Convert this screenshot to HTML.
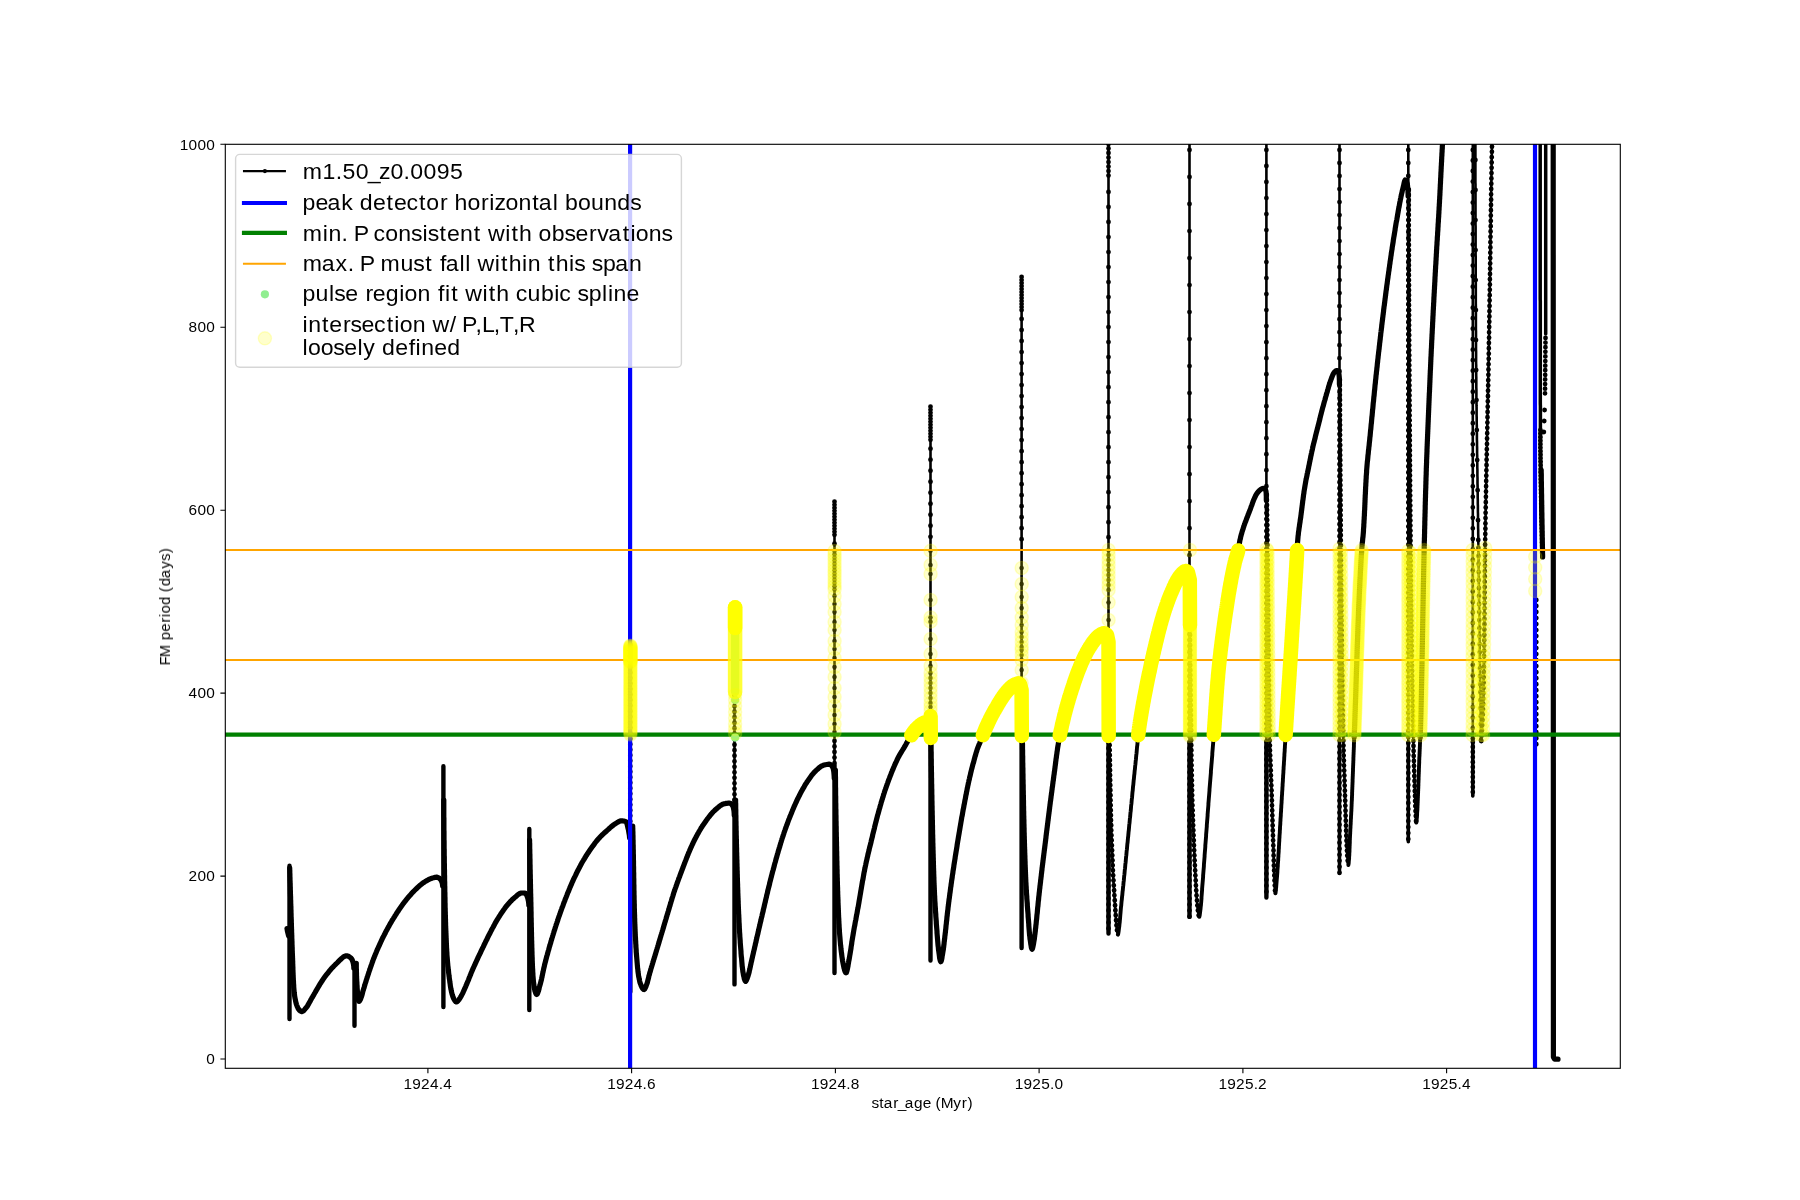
<!DOCTYPE html>
<html><head><meta charset="utf-8"><title>FM period vs star_age</title>
<style>html,body{margin:0;padding:0;background:#fff;}svg{display:block;}text{font-family:"Liberation Sans",sans-serif;}</style></head>
<body>
<svg width="1800" height="1200" viewBox="0 0 1800 1200" font-family="Liberation Sans, sans-serif" fill="#000">
<rect width="1800" height="1200" fill="#fff"/>
<defs><clipPath id="ax"><rect x="225" y="144" width="1395" height="924"/></clipPath></defs>
<g clip-path="url(#ax)" fill="none" stroke-linecap="round" stroke-linejoin="round">
<g stroke="#000">
<path stroke-width="2.6" d="M289.5 865.8 L289.5 1019.0 M354.5 963.0 L354.5 1025.8 M443.4 766.3 L443.4 1007.0 M529.3 829.0 L529.3 1010.0 M630.3 645.0 L630.3 992.0 M734.5 607.0 L734.5 984.4 M834.5 501.7 L834.5 973.0 M930.5 406.7 L930.5 960.6 M1021.6 277.0 L1021.6 948.1 M1108.5 130.0 L1108.5 933.5 M1108.8 640.0 L1108.8 641.2 L1108.8 642.4 L1108.8 643.6 L1108.8 644.8 L1108.8 646.0 L1108.8 647.2 L1108.8 648.4 L1108.8 649.6 L1108.8 650.8 L1108.8 652.0 L1108.8 653.2 L1108.8 654.4 L1108.8 655.7 L1108.8 656.9 L1108.8 658.1 L1108.8 659.3 L1108.8 660.5 L1108.8 661.7 L1108.8 662.9 L1108.9 664.1 L1108.9 665.3 L1108.9 666.5 L1108.9 667.7 L1108.9 668.9 L1108.9 670.1 L1108.9 671.3 L1108.9 672.5 L1108.9 673.7 L1108.9 674.9 L1108.9 676.1 L1108.9 677.3 L1108.9 678.5 L1108.9 679.7 L1108.9 680.9 L1109.0 682.1 L1109.0 683.3 L1109.0 684.6 L1109.0 685.8 L1109.0 687.0 L1109.0 688.2 L1109.0 689.4 L1109.0 690.6 L1109.0 691.8 L1109.0 693.0 L1109.0 694.2 L1109.1 695.4 L1109.1 696.6 L1109.1 697.8 L1109.1 699.0 L1109.1 700.2 L1109.1 701.4 L1109.1 702.6 L1109.1 703.8 L1109.2 705.0 L1109.2 706.2 L1109.2 707.4 L1109.2 708.6 L1109.2 709.8 L1109.2 711.0 L1109.2 712.2 L1109.2 713.4 L1109.3 714.6 L1109.3 715.9 L1109.3 717.1 L1109.3 718.3 L1109.3 719.5 L1109.3 720.7 L1109.3 721.9 L1109.4 723.1 L1109.4 724.3 L1109.4 725.5 L1109.4 726.7 L1109.4 727.9 L1109.4 729.1 L1109.4 730.3 L1109.5 731.5 L1109.5 732.7 L1109.5 733.9 L1109.5 735.1 L1109.5 736.3 L1109.5 737.5 L1109.6 738.7 L1109.6 739.9 L1109.6 741.1 L1109.6 742.3 L1109.6 743.5 L1109.6 744.7 L1109.7 745.9 L1109.7 747.1 L1109.7 748.4 L1109.7 749.6 L1109.7 750.8 L1109.7 752.0 L1109.8 753.2 L1109.8 754.4 L1109.8 755.6 L1109.8 756.8 L1109.8 758.0 L1109.9 759.2 L1109.9 760.4 L1109.9 761.6 L1109.9 762.8 L1109.9 764.0 L1110.0 765.2 L1110.0 766.4 L1110.0 767.6 L1110.0 768.8 L1110.0 770.0 L1110.1 771.2 L1110.1 772.4 L1110.1 773.6 L1110.1 774.8 L1110.1 776.0 L1110.2 777.2 L1110.2 778.4 L1110.2 779.6 L1110.2 780.8 L1110.2 782.1 L1110.3 783.3 L1110.3 784.5 L1110.3 785.7 L1110.3 786.9 L1110.3 788.1 L1110.4 789.3 L1110.4 790.5 L1110.4 791.7 L1110.4 792.9 L1110.4 794.1 L1110.5 795.3 L1110.5 796.5 L1110.5 797.7 L1110.5 798.9 L1110.5 800.1 L1110.6 801.3 L1110.6 802.5 L1110.6 803.7 L1110.6 804.9 L1110.7 806.1 L1110.7 807.3 L1110.7 808.5 L1110.7 809.7 L1110.8 810.9 L1110.8 812.1 L1110.8 813.3 L1110.8 814.5 L1110.9 815.7 L1110.9 817.0 L1110.9 818.2 L1111.0 819.4 L1111.0 820.6 L1111.0 821.8 L1111.1 823.0 L1111.1 824.2 L1111.2 825.4 L1111.2 826.6 L1111.2 827.8 L1111.3 829.0 L1111.3 830.2 L1111.3 831.4 L1111.4 832.6 L1111.4 833.8 L1111.5 835.0 L1111.5 836.2 L1111.6 837.4 L1111.6 838.6 L1111.6 839.8 L1111.7 841.0 L1111.7 842.2 L1111.8 843.4 L1111.8 844.6 L1111.9 845.8 L1111.9 847.0 L1112.0 848.2 L1112.0 849.4 L1112.1 850.6 L1112.1 851.8 L1112.2 853.0 L1112.2 854.3 L1112.3 855.5 L1112.3 856.7 L1112.4 857.9 L1112.4 859.1 L1112.5 860.3 L1112.5 861.5 L1112.6 862.7 L1112.6 863.9 L1112.7 865.1 L1112.7 866.3 L1112.8 867.5 L1112.8 868.7 L1112.9 869.9 L1112.9 871.1 L1113.0 872.3 L1113.1 873.5 L1113.1 874.7 L1113.2 875.9 L1113.3 877.1 L1113.3 878.3 L1113.4 879.5 L1113.5 880.7 L1113.5 881.9 L1113.6 883.1 L1113.7 884.3 L1113.8 885.5 L1113.8 886.7 L1113.9 887.9 L1114.0 889.1 L1114.1 890.3 L1114.1 891.5 L1114.2 892.7 L1114.3 893.9 L1114.4 895.1 L1114.4 896.3 L1114.5 897.5 L1114.6 898.7 L1114.7 899.9 L1114.8 901.1 L1114.8 902.3 L1114.9 903.5 L1115.0 904.7 L1115.1 905.9 L1115.2 907.1 L1115.3 908.3 L1115.3 909.5 L1115.4 910.7 L1115.5 911.9 L1115.6 913.1 L1115.7 914.3 L1115.7 915.5 L1115.8 916.8 L1115.9 918.0 L1116.0 919.2 L1116.1 920.4 L1116.2 921.6 L1116.3 922.8 L1116.4 923.9 L1116.5 925.1 L1116.6 926.4 L1116.8 927.8 L1116.9 929.3 L1117.1 930.9 L1117.3 932.3 L1117.5 933.5 L1117.7 934.3 L1117.9 934.6 M1189.5 130.0 L1189.5 916.9 M1189.8 580.0 L1189.8 581.2 L1189.8 582.4 L1189.8 583.6 L1189.8 584.8 L1189.8 586.0 L1189.8 587.2 L1189.8 588.4 L1189.8 589.6 L1189.8 590.8 L1189.8 592.0 L1189.8 593.2 L1189.8 594.4 L1189.8 595.6 L1189.8 596.8 L1189.8 598.0 L1189.8 599.2 L1189.8 600.4 L1189.8 601.6 L1189.8 602.8 L1189.8 604.0 L1189.8 605.3 L1189.8 606.5 L1189.8 607.7 L1189.9 608.9 L1189.9 610.1 L1189.9 611.3 L1189.9 612.5 L1189.9 613.7 L1189.9 614.9 L1189.9 616.1 L1189.9 617.3 L1189.9 618.5 L1189.9 619.7 L1189.9 620.9 L1189.9 622.1 L1189.9 623.3 L1189.9 624.5 L1189.9 625.7 L1189.9 626.9 L1189.9 628.1 L1190.0 629.3 L1190.0 630.5 L1190.0 631.7 L1190.0 632.9 L1190.0 634.1 L1190.0 635.3 L1190.0 636.5 L1190.0 637.7 L1190.0 638.9 L1190.0 640.1 L1190.0 641.3 L1190.0 642.5 L1190.1 643.7 L1190.1 644.9 L1190.1 646.1 L1190.1 647.3 L1190.1 648.5 L1190.1 649.7 L1190.1 650.9 L1190.1 652.1 L1190.1 653.3 L1190.1 654.5 L1190.2 655.7 L1190.2 656.9 L1190.2 658.1 L1190.2 659.3 L1190.2 660.6 L1190.2 661.8 L1190.2 663.0 L1190.2 664.2 L1190.2 665.4 L1190.3 666.6 L1190.3 667.8 L1190.3 669.0 L1190.3 670.2 L1190.3 671.4 L1190.3 672.6 L1190.3 673.8 L1190.3 675.0 L1190.4 676.2 L1190.4 677.4 L1190.4 678.6 L1190.4 679.8 L1190.4 681.0 L1190.4 682.2 L1190.4 683.4 L1190.4 684.6 L1190.5 685.8 L1190.5 687.0 L1190.5 688.2 L1190.5 689.4 L1190.5 690.6 L1190.5 691.8 L1190.5 693.0 L1190.6 694.2 L1190.6 695.4 L1190.6 696.6 L1190.6 697.8 L1190.6 699.0 L1190.6 700.2 L1190.7 701.4 L1190.7 702.6 L1190.7 703.8 L1190.7 705.0 L1190.7 706.2 L1190.7 707.4 L1190.7 708.6 L1190.8 709.8 L1190.8 711.0 L1190.8 712.2 L1190.8 713.4 L1190.8 714.6 L1190.8 715.8 L1190.9 717.0 L1190.9 718.2 L1190.9 719.4 L1190.9 720.6 L1190.9 721.8 L1190.9 723.1 L1191.0 724.3 L1191.0 725.5 L1191.0 726.7 L1191.0 727.9 L1191.0 729.1 L1191.1 730.3 L1191.1 731.5 L1191.1 732.7 L1191.1 733.9 L1191.1 735.1 L1191.1 736.3 L1191.2 737.5 L1191.2 738.7 L1191.2 739.9 L1191.2 741.1 L1191.2 742.3 L1191.3 743.5 L1191.3 744.7 L1191.3 745.9 L1191.3 747.1 L1191.3 748.3 L1191.3 749.5 L1191.4 750.7 L1191.4 751.9 L1191.4 753.1 L1191.4 754.3 L1191.4 755.5 L1191.5 756.7 L1191.5 757.9 L1191.5 759.1 L1191.5 760.3 L1191.5 761.5 L1191.6 762.7 L1191.6 763.9 L1191.6 765.1 L1191.6 766.3 L1191.6 767.5 L1191.7 768.7 L1191.7 769.9 L1191.7 771.1 L1191.7 772.3 L1191.7 773.5 L1191.8 774.7 L1191.8 775.9 L1191.8 777.1 L1191.8 778.3 L1191.8 779.5 L1191.9 780.7 L1191.9 781.9 L1191.9 783.1 L1191.9 784.3 L1192.0 785.5 L1192.0 786.7 L1192.0 787.9 L1192.0 789.1 L1192.1 790.3 L1192.1 791.5 L1192.1 792.8 L1192.1 794.0 L1192.2 795.2 L1192.2 796.4 L1192.2 797.6 L1192.3 798.8 L1192.3 800.0 L1192.3 801.2 L1192.4 802.4 L1192.4 803.6 L1192.5 804.8 L1192.5 806.0 L1192.5 807.2 L1192.6 808.4 L1192.6 809.6 L1192.7 810.8 L1192.7 812.0 L1192.7 813.2 L1192.8 814.4 L1192.8 815.6 L1192.9 816.8 L1192.9 818.0 L1193.0 819.2 L1193.0 820.4 L1193.1 821.6 L1193.1 822.8 L1193.1 824.0 L1193.2 825.2 L1193.2 826.4 L1193.3 827.6 L1193.3 828.8 L1193.4 830.0 L1193.4 831.2 L1193.5 832.4 L1193.5 833.6 L1193.6 834.8 L1193.6 836.0 L1193.7 837.2 L1193.7 838.4 L1193.8 839.6 L1193.8 840.8 L1193.9 842.0 L1193.9 843.2 L1194.0 844.4 L1194.0 845.6 L1194.1 846.8 L1194.1 848.0 L1194.2 849.2 L1194.2 850.4 L1194.3 851.6 L1194.3 852.8 L1194.4 854.0 L1194.4 855.2 L1194.5 856.4 L1194.5 857.6 L1194.6 858.8 L1194.6 860.0 L1194.7 861.2 L1194.7 862.4 L1194.8 863.6 L1194.9 864.8 L1194.9 866.0 L1195.0 867.2 L1195.0 868.4 L1195.1 869.6 L1195.2 870.8 L1195.2 872.0 L1195.3 873.2 L1195.3 874.4 L1195.4 875.6 L1195.5 876.8 L1195.5 878.0 L1195.6 879.2 L1195.7 880.4 L1195.7 881.6 L1195.8 882.8 L1195.9 884.0 L1195.9 885.2 L1196.0 886.4 L1196.1 887.6 L1196.2 888.8 L1196.2 890.0 L1196.3 891.2 L1196.4 892.4 L1196.5 893.6 L1196.5 894.8 L1196.6 896.0 L1196.7 897.2 L1196.8 898.4 L1196.9 899.6 L1197.0 900.8 L1197.1 902.0 L1197.2 903.2 L1197.3 904.4 L1197.4 905.6 L1197.5 906.8 L1197.6 908.0 L1197.8 909.2 L1197.9 910.4 L1198.1 911.6 L1198.3 913.1 L1198.6 914.7 L1198.8 916.0 L1199.1 916.8 L1199.3 916.8 M1266.4 130.0 L1266.4 897.5 M1266.8 495.0 L1266.8 496.2 L1266.8 497.4 L1266.9 498.6 L1266.9 499.8 L1266.9 501.0 L1266.9 502.2 L1266.9 503.4 L1266.9 504.6 L1267.0 505.8 L1267.0 507.0 L1267.0 508.2 L1267.0 509.4 L1267.0 510.6 L1267.1 511.8 L1267.1 513.0 L1267.1 514.2 L1267.1 515.4 L1267.1 516.6 L1267.1 517.9 L1267.2 519.1 L1267.2 520.3 L1267.2 521.5 L1267.2 522.7 L1267.2 523.9 L1267.3 525.1 L1267.3 526.3 L1267.3 527.5 L1267.3 528.7 L1267.3 529.9 L1267.3 531.1 L1267.4 532.3 L1267.4 533.5 L1267.4 534.7 L1267.4 535.9 L1267.4 537.1 L1267.4 538.3 L1267.5 539.5 L1267.5 540.7 L1267.5 541.9 L1267.5 543.1 L1267.5 544.3 L1267.5 545.5 L1267.6 546.7 L1267.6 547.9 L1267.6 549.1 L1267.6 550.3 L1267.6 551.5 L1267.6 552.7 L1267.7 553.9 L1267.7 555.1 L1267.7 556.3 L1267.7 557.5 L1267.7 558.7 L1267.7 559.9 L1267.7 561.1 L1267.8 562.4 L1267.8 563.6 L1267.8 564.8 L1267.8 566.0 L1267.8 567.2 L1267.8 568.4 L1267.8 569.6 L1267.8 570.8 L1267.9 572.0 L1267.9 573.2 L1267.9 574.4 L1267.9 575.6 L1267.9 576.8 L1267.9 578.0 L1267.9 579.2 L1267.9 580.4 L1268.0 581.6 L1268.0 582.8 L1268.0 584.0 L1268.0 585.2 L1268.0 586.4 L1268.0 587.6 L1268.0 588.8 L1268.0 590.0 L1268.1 591.2 L1268.1 592.4 L1268.1 593.6 L1268.1 594.8 L1268.1 596.0 L1268.1 597.2 L1268.1 598.4 L1268.1 599.6 L1268.1 600.8 L1268.2 602.0 L1268.2 603.2 L1268.2 604.5 L1268.2 605.7 L1268.2 606.9 L1268.2 608.1 L1268.2 609.3 L1268.2 610.5 L1268.2 611.7 L1268.2 612.9 L1268.3 614.1 L1268.3 615.3 L1268.3 616.5 L1268.3 617.7 L1268.3 618.9 L1268.3 620.1 L1268.3 621.3 L1268.3 622.5 L1268.3 623.7 L1268.4 624.9 L1268.4 626.1 L1268.4 627.3 L1268.4 628.5 L1268.4 629.7 L1268.4 630.9 L1268.4 632.1 L1268.4 633.3 L1268.4 634.5 L1268.4 635.7 L1268.5 636.9 L1268.5 638.1 L1268.5 639.3 L1268.5 640.5 L1268.5 641.7 L1268.5 642.9 L1268.5 644.1 L1268.5 645.3 L1268.5 646.6 L1268.5 647.8 L1268.6 649.0 L1268.6 650.2 L1268.6 651.4 L1268.6 652.6 L1268.6 653.8 L1268.6 655.0 L1268.6 656.2 L1268.6 657.4 L1268.6 658.6 L1268.7 659.8 L1268.7 661.0 L1268.7 662.2 L1268.7 663.4 L1268.7 664.6 L1268.7 665.8 L1268.7 667.0 L1268.7 668.2 L1268.8 669.4 L1268.8 670.6 L1268.8 671.8 L1268.8 673.0 L1268.8 674.2 L1268.8 675.4 L1268.8 676.6 L1268.8 677.8 L1268.9 679.0 L1268.9 680.2 L1268.9 681.4 L1268.9 682.6 L1268.9 683.8 L1268.9 685.0 L1268.9 686.2 L1269.0 687.4 L1269.0 688.6 L1269.0 689.9 L1269.0 691.1 L1269.0 692.3 L1269.0 693.5 L1269.0 694.7 L1269.1 695.9 L1269.1 697.1 L1269.1 698.3 L1269.1 699.5 L1269.1 700.7 L1269.1 701.9 L1269.1 703.1 L1269.2 704.3 L1269.2 705.5 L1269.2 706.7 L1269.2 707.9 L1269.2 709.1 L1269.2 710.3 L1269.3 711.5 L1269.3 712.7 L1269.3 713.9 L1269.3 715.1 L1269.3 716.3 L1269.4 717.5 L1269.4 718.7 L1269.4 719.9 L1269.4 721.1 L1269.4 722.3 L1269.4 723.5 L1269.5 724.7 L1269.5 725.9 L1269.5 727.1 L1269.5 728.3 L1269.5 729.5 L1269.6 730.7 L1269.6 731.9 L1269.6 733.1 L1269.6 734.3 L1269.7 735.5 L1269.7 736.8 L1269.7 738.0 L1269.7 739.2 L1269.7 740.4 L1269.8 741.6 L1269.8 742.8 L1269.8 744.0 L1269.9 745.2 L1269.9 746.4 L1269.9 747.6 L1270.0 748.8 L1270.0 750.0 L1270.0 751.2 L1270.1 752.4 L1270.1 753.6 L1270.2 754.8 L1270.2 756.0 L1270.2 757.2 L1270.3 758.4 L1270.3 759.6 L1270.4 760.8 L1270.4 762.0 L1270.5 763.2 L1270.5 764.4 L1270.6 765.6 L1270.6 766.8 L1270.7 768.0 L1270.7 769.2 L1270.8 770.4 L1270.8 771.6 L1270.8 772.8 L1270.9 774.0 L1270.9 775.2 L1271.0 776.4 L1271.0 777.6 L1271.1 778.8 L1271.1 780.0 L1271.2 781.2 L1271.2 782.4 L1271.3 783.6 L1271.3 784.8 L1271.4 786.0 L1271.4 787.2 L1271.5 788.4 L1271.5 789.6 L1271.6 790.8 L1271.6 792.0 L1271.6 793.2 L1271.7 794.5 L1271.7 795.7 L1271.8 796.9 L1271.8 798.1 L1271.8 799.3 L1271.9 800.5 L1271.9 801.7 L1272.0 802.9 L1272.0 804.1 L1272.0 805.3 L1272.1 806.5 L1272.1 807.7 L1272.2 808.9 L1272.2 810.1 L1272.2 811.3 L1272.3 812.5 L1272.3 813.7 L1272.3 814.9 L1272.4 816.1 L1272.4 817.3 L1272.5 818.5 L1272.5 819.7 L1272.5 820.9 L1272.6 822.1 L1272.6 823.3 L1272.6 824.5 L1272.7 825.7 L1272.7 826.9 L1272.8 828.1 L1272.8 829.3 L1272.8 830.5 L1272.9 831.7 L1272.9 832.9 L1272.9 834.1 L1273.0 835.3 L1273.0 836.5 L1273.1 837.7 L1273.1 838.9 L1273.1 840.1 L1273.2 841.3 L1273.2 842.5 L1273.3 843.7 L1273.3 844.9 L1273.3 846.1 L1273.4 847.3 L1273.4 848.6 L1273.5 849.8 L1273.5 851.0 L1273.5 852.2 L1273.6 853.4 L1273.6 854.6 L1273.6 855.8 L1273.7 857.0 L1273.7 858.2 L1273.7 859.4 L1273.8 860.6 L1273.8 861.8 L1273.9 863.0 L1273.9 864.2 L1273.9 865.4 L1274.0 866.6 L1274.0 867.8 L1274.0 869.0 L1274.1 870.2 L1274.1 871.4 L1274.2 872.6 L1274.2 873.8 L1274.3 875.0 L1274.3 876.2 L1274.4 877.4 L1274.4 878.6 L1274.5 879.8 L1274.5 881.1 L1274.6 882.5 L1274.7 884.1 L1274.8 885.7 L1274.8 887.2 L1274.9 888.8 L1275.0 890.1 L1275.1 891.4 L1275.2 892.3 L1275.3 893.0 L1275.4 893.3 M1339.5 130.0 L1339.5 873.3 M1339.9 380.0 L1339.9 381.2 L1339.9 382.4 L1339.9 383.6 L1339.9 384.8 L1339.9 386.0 L1339.9 387.2 L1339.9 388.4 L1339.9 389.6 L1339.9 390.8 L1339.9 392.0 L1339.9 393.2 L1339.9 394.4 L1339.9 395.6 L1340.0 396.8 L1340.0 398.0 L1340.0 399.2 L1340.0 400.4 L1340.0 401.6 L1340.0 402.8 L1340.0 404.0 L1340.0 405.2 L1340.0 406.4 L1340.0 407.6 L1340.0 408.8 L1340.0 410.0 L1340.0 411.2 L1340.0 412.5 L1340.0 413.7 L1340.0 414.9 L1340.0 416.1 L1340.0 417.3 L1340.0 418.5 L1340.0 419.7 L1340.0 420.9 L1340.1 422.1 L1340.1 423.3 L1340.1 424.5 L1340.1 425.7 L1340.1 426.9 L1340.1 428.1 L1340.1 429.3 L1340.1 430.5 L1340.1 431.7 L1340.1 432.9 L1340.1 434.1 L1340.1 435.3 L1340.1 436.5 L1340.1 437.7 L1340.1 438.9 L1340.1 440.1 L1340.1 441.3 L1340.2 442.5 L1340.2 443.7 L1340.2 444.9 L1340.2 446.1 L1340.2 447.3 L1340.2 448.5 L1340.2 449.7 L1340.2 450.9 L1340.2 452.1 L1340.2 453.3 L1340.2 454.5 L1340.2 455.7 L1340.2 456.9 L1340.2 458.1 L1340.3 459.3 L1340.3 460.5 L1340.3 461.7 L1340.3 462.9 L1340.3 464.1 L1340.3 465.3 L1340.3 466.5 L1340.3 467.7 L1340.3 468.9 L1340.3 470.1 L1340.3 471.3 L1340.3 472.5 L1340.3 473.7 L1340.3 474.9 L1340.4 476.2 L1340.4 477.4 L1340.4 478.6 L1340.4 479.8 L1340.4 481.0 L1340.4 482.2 L1340.4 483.4 L1340.4 484.6 L1340.4 485.8 L1340.4 487.0 L1340.4 488.2 L1340.4 489.4 L1340.5 490.6 L1340.5 491.8 L1340.5 493.0 L1340.5 494.2 L1340.5 495.4 L1340.5 496.6 L1340.5 497.8 L1340.5 499.0 L1340.5 500.2 L1340.5 501.4 L1340.5 502.6 L1340.5 503.8 L1340.6 505.0 L1340.6 506.2 L1340.6 507.4 L1340.6 508.6 L1340.6 509.8 L1340.6 511.0 L1340.6 512.2 L1340.6 513.4 L1340.6 514.6 L1340.6 515.8 L1340.6 517.0 L1340.7 518.2 L1340.7 519.4 L1340.7 520.6 L1340.7 521.8 L1340.7 523.0 L1340.7 524.2 L1340.7 525.4 L1340.7 526.6 L1340.7 527.8 L1340.7 529.0 L1340.7 530.2 L1340.8 531.4 L1340.8 532.6 L1340.8 533.8 L1340.8 535.0 L1340.8 536.2 L1340.8 537.4 L1340.8 538.6 L1340.8 539.9 L1340.8 541.1 L1340.8 542.3 L1340.8 543.5 L1340.9 544.7 L1340.9 545.9 L1340.9 547.1 L1340.9 548.3 L1340.9 549.5 L1340.9 550.7 L1340.9 551.9 L1340.9 553.1 L1340.9 554.3 L1340.9 555.5 L1341.0 556.7 L1341.0 557.9 L1341.0 559.1 L1341.0 560.3 L1341.0 561.5 L1341.0 562.7 L1341.0 563.9 L1341.0 565.1 L1341.0 566.3 L1341.0 567.5 L1341.1 568.7 L1341.1 569.9 L1341.1 571.1 L1341.1 572.3 L1341.1 573.5 L1341.1 574.7 L1341.1 575.9 L1341.1 577.1 L1341.1 578.3 L1341.2 579.5 L1341.2 580.7 L1341.2 581.9 L1341.2 583.1 L1341.2 584.3 L1341.2 585.5 L1341.2 586.7 L1341.2 587.9 L1341.2 589.1 L1341.3 590.3 L1341.3 591.5 L1341.3 592.7 L1341.3 593.9 L1341.3 595.1 L1341.3 596.3 L1341.3 597.5 L1341.3 598.7 L1341.3 599.9 L1341.4 601.1 L1341.4 602.3 L1341.4 603.5 L1341.4 604.8 L1341.4 606.0 L1341.4 607.2 L1341.4 608.4 L1341.4 609.6 L1341.5 610.8 L1341.5 612.0 L1341.5 613.2 L1341.5 614.4 L1341.5 615.6 L1341.5 616.8 L1341.5 618.0 L1341.5 619.2 L1341.6 620.4 L1341.6 621.6 L1341.6 622.8 L1341.6 624.0 L1341.6 625.2 L1341.6 626.4 L1341.6 627.6 L1341.7 628.8 L1341.7 630.0 L1341.7 631.2 L1341.7 632.4 L1341.7 633.6 L1341.7 634.8 L1341.7 636.0 L1341.8 637.2 L1341.8 638.4 L1341.8 639.6 L1341.8 640.8 L1341.8 642.0 L1341.8 643.2 L1341.8 644.4 L1341.9 645.6 L1341.9 646.8 L1341.9 648.0 L1341.9 649.2 L1341.9 650.4 L1341.9 651.6 L1341.9 652.8 L1342.0 654.0 L1342.0 655.2 L1342.0 656.4 L1342.0 657.6 L1342.0 658.8 L1342.0 660.0 L1342.1 661.2 L1342.1 662.4 L1342.1 663.6 L1342.1 664.8 L1342.1 666.0 L1342.1 667.2 L1342.2 668.4 L1342.2 669.7 L1342.2 670.9 L1342.2 672.1 L1342.2 673.3 L1342.2 674.5 L1342.3 675.7 L1342.3 676.9 L1342.3 678.1 L1342.3 679.3 L1342.3 680.5 L1342.3 681.7 L1342.4 682.9 L1342.4 684.1 L1342.4 685.3 L1342.4 686.5 L1342.4 687.7 L1342.5 688.9 L1342.5 690.1 L1342.5 691.3 L1342.5 692.5 L1342.5 693.7 L1342.5 694.9 L1342.6 696.1 L1342.6 697.3 L1342.6 698.5 L1342.6 699.7 L1342.6 700.9 L1342.7 702.1 L1342.7 703.3 L1342.7 704.5 L1342.7 705.7 L1342.7 706.9 L1342.8 708.1 L1342.8 709.3 L1342.8 710.5 L1342.8 711.7 L1342.8 712.9 L1342.9 714.1 L1342.9 715.3 L1342.9 716.5 L1342.9 717.7 L1342.9 718.9 L1343.0 720.1 L1343.0 721.3 L1343.0 722.5 L1343.0 723.7 L1343.1 724.9 L1343.1 726.1 L1343.1 727.3 L1343.1 728.5 L1343.1 729.7 L1343.2 730.9 L1343.2 732.1 L1343.2 733.3 L1343.2 734.5 L1343.3 735.7 L1343.3 736.9 L1343.3 738.1 L1343.3 739.3 L1343.4 740.6 L1343.4 741.8 L1343.4 743.0 L1343.4 744.2 L1343.5 745.4 L1343.5 746.6 L1343.5 747.8 L1343.5 749.0 L1343.6 750.2 L1343.6 751.4 L1343.6 752.6 L1343.7 753.8 L1343.7 755.0 L1343.7 756.2 L1343.8 757.4 L1343.8 758.6 L1343.9 759.8 L1343.9 761.0 L1343.9 762.2 L1344.0 763.4 L1344.0 764.6 L1344.0 765.8 L1344.1 767.0 L1344.1 768.2 L1344.2 769.4 L1344.2 770.6 L1344.2 771.8 L1344.3 773.0 L1344.3 774.2 L1344.4 775.4 L1344.4 776.6 L1344.4 777.8 L1344.5 779.0 L1344.5 780.2 L1344.6 781.4 L1344.6 782.6 L1344.6 783.8 L1344.7 785.0 L1344.7 786.2 L1344.8 787.4 L1344.8 788.6 L1344.8 789.8 L1344.9 791.0 L1344.9 792.2 L1344.9 793.4 L1345.0 794.6 L1345.0 795.8 L1345.1 797.0 L1345.1 798.2 L1345.1 799.4 L1345.2 800.6 L1345.2 801.8 L1345.2 803.0 L1345.3 804.2 L1345.3 805.4 L1345.4 806.6 L1345.4 807.8 L1345.4 809.0 L1345.5 810.2 L1345.5 811.4 L1345.5 812.6 L1345.6 813.8 L1345.6 815.0 L1345.6 816.2 L1345.7 817.4 L1345.7 818.6 L1345.8 819.8 L1345.8 821.0 L1345.8 822.2 L1345.9 823.4 L1345.9 824.6 L1346.0 825.8 L1346.0 827.1 L1346.0 828.3 L1346.1 829.5 L1346.1 830.7 L1346.2 831.9 L1346.2 833.1 L1346.3 834.3 L1346.3 835.5 L1346.3 836.7 L1346.4 837.9 L1346.4 839.1 L1346.5 840.3 L1346.5 841.5 L1346.6 842.7 L1346.6 843.9 L1346.7 845.1 L1346.8 846.3 L1346.8 847.5 L1346.9 848.7 L1346.9 849.9 L1347.0 851.1 L1347.1 852.3 L1347.1 853.5 L1347.2 854.7 L1347.3 855.9 L1347.4 857.1 L1347.5 858.3 L1347.6 859.5 L1347.7 860.7 L1347.8 862.3 L1348.0 863.8 L1348.2 864.8 L1348.4 865.0 M1408.3 130.0 L1408.3 841.7 M1408.8 190.0 L1408.8 191.2 L1408.8 192.4 L1408.8 193.6 L1408.8 194.8 L1408.8 196.0 L1408.8 197.2 L1408.8 198.4 L1408.8 199.6 L1408.8 200.8 L1408.8 202.0 L1408.8 203.2 L1408.8 204.4 L1408.8 205.6 L1408.8 206.8 L1408.8 208.0 L1408.8 209.2 L1408.8 210.4 L1408.8 211.6 L1408.8 212.8 L1408.8 214.0 L1408.8 215.2 L1408.8 216.4 L1408.8 217.6 L1408.8 218.8 L1408.8 220.0 L1408.8 221.3 L1408.8 222.5 L1408.8 223.7 L1408.8 224.9 L1408.8 226.1 L1408.8 227.3 L1408.8 228.5 L1408.8 229.7 L1408.8 230.9 L1408.8 232.1 L1408.8 233.3 L1408.8 234.5 L1408.8 235.7 L1408.8 236.9 L1408.8 238.1 L1408.8 239.3 L1408.8 240.5 L1408.9 241.7 L1408.9 242.9 L1408.9 244.1 L1408.9 245.3 L1408.9 246.5 L1408.9 247.7 L1408.9 248.9 L1408.9 250.1 L1408.9 251.3 L1408.9 252.5 L1408.9 253.7 L1408.9 254.9 L1408.9 256.1 L1408.9 257.3 L1408.9 258.5 L1408.9 259.7 L1408.9 260.9 L1408.9 262.1 L1408.9 263.3 L1408.9 264.5 L1408.9 265.7 L1408.9 266.9 L1408.9 268.1 L1408.9 269.3 L1408.9 270.5 L1408.9 271.7 L1408.9 272.9 L1408.9 274.1 L1408.9 275.3 L1408.9 276.5 L1408.9 277.7 L1408.9 278.9 L1408.9 280.1 L1409.0 281.3 L1409.0 282.5 L1409.0 283.8 L1409.0 285.0 L1409.0 286.2 L1409.0 287.4 L1409.0 288.6 L1409.0 289.8 L1409.0 291.0 L1409.0 292.2 L1409.0 293.4 L1409.0 294.6 L1409.0 295.8 L1409.0 297.0 L1409.0 298.2 L1409.0 299.4 L1409.0 300.6 L1409.0 301.8 L1409.0 303.0 L1409.0 304.2 L1409.0 305.4 L1409.0 306.6 L1409.0 307.8 L1409.1 309.0 L1409.1 310.2 L1409.1 311.4 L1409.1 312.6 L1409.1 313.8 L1409.1 315.0 L1409.1 316.2 L1409.1 317.4 L1409.1 318.6 L1409.1 319.8 L1409.1 321.0 L1409.1 322.2 L1409.1 323.4 L1409.1 324.6 L1409.1 325.8 L1409.1 327.0 L1409.1 328.2 L1409.1 329.4 L1409.1 330.6 L1409.2 331.8 L1409.2 333.0 L1409.2 334.2 L1409.2 335.4 L1409.2 336.6 L1409.2 337.8 L1409.2 339.0 L1409.2 340.2 L1409.2 341.4 L1409.2 342.6 L1409.2 343.8 L1409.2 345.0 L1409.2 346.2 L1409.2 347.5 L1409.2 348.7 L1409.2 349.9 L1409.2 351.1 L1409.3 352.3 L1409.3 353.5 L1409.3 354.7 L1409.3 355.9 L1409.3 357.1 L1409.3 358.3 L1409.3 359.5 L1409.3 360.7 L1409.3 361.9 L1409.3 363.1 L1409.3 364.3 L1409.3 365.5 L1409.3 366.7 L1409.3 367.9 L1409.3 369.1 L1409.4 370.3 L1409.4 371.5 L1409.4 372.7 L1409.4 373.9 L1409.4 375.1 L1409.4 376.3 L1409.4 377.5 L1409.4 378.7 L1409.4 379.9 L1409.4 381.1 L1409.4 382.3 L1409.4 383.5 L1409.4 384.7 L1409.4 385.9 L1409.4 387.1 L1409.5 388.3 L1409.5 389.5 L1409.5 390.7 L1409.5 391.9 L1409.5 393.1 L1409.5 394.3 L1409.5 395.5 L1409.5 396.7 L1409.5 397.9 L1409.5 399.1 L1409.5 400.3 L1409.5 401.5 L1409.5 402.7 L1409.5 403.9 L1409.6 405.1 L1409.6 406.3 L1409.6 407.5 L1409.6 408.7 L1409.6 409.9 L1409.6 411.2 L1409.6 412.4 L1409.6 413.6 L1409.6 414.8 L1409.6 416.0 L1409.6 417.2 L1409.6 418.4 L1409.6 419.6 L1409.7 420.8 L1409.7 422.0 L1409.7 423.2 L1409.7 424.4 L1409.7 425.6 L1409.7 426.8 L1409.7 428.0 L1409.7 429.2 L1409.7 430.4 L1409.7 431.6 L1409.7 432.8 L1409.7 434.0 L1409.8 435.2 L1409.8 436.4 L1409.8 437.6 L1409.8 438.8 L1409.8 440.0 L1409.8 441.2 L1409.8 442.4 L1409.8 443.6 L1409.8 444.8 L1409.8 446.0 L1409.8 447.2 L1409.8 448.4 L1409.9 449.6 L1409.9 450.8 L1409.9 452.0 L1409.9 453.2 L1409.9 454.4 L1409.9 455.6 L1409.9 456.8 L1409.9 458.0 L1409.9 459.2 L1409.9 460.4 L1409.9 461.6 L1409.9 462.8 L1410.0 464.0 L1410.0 465.2 L1410.0 466.4 L1410.0 467.6 L1410.0 468.8 L1410.0 470.0 L1410.0 471.2 L1410.0 472.4 L1410.0 473.6 L1410.0 474.8 L1410.0 476.1 L1410.0 477.3 L1410.1 478.5 L1410.1 479.7 L1410.1 480.9 L1410.1 482.1 L1410.1 483.3 L1410.1 484.5 L1410.1 485.7 L1410.1 486.9 L1410.1 488.1 L1410.1 489.3 L1410.1 490.5 L1410.2 491.7 L1410.2 492.9 L1410.2 494.1 L1410.2 495.3 L1410.2 496.5 L1410.2 497.7 L1410.2 498.9 L1410.2 500.1 L1410.2 501.3 L1410.2 502.5 L1410.2 503.7 L1410.3 504.9 L1410.3 506.1 L1410.3 507.3 L1410.3 508.5 L1410.3 509.7 L1410.3 510.9 L1410.3 512.1 L1410.3 513.3 L1410.3 514.5 L1410.3 515.7 L1410.3 516.9 L1410.4 518.1 L1410.4 519.3 L1410.4 520.5 L1410.4 521.7 L1410.4 522.9 L1410.4 524.1 L1410.4 525.3 L1410.4 526.5 L1410.4 527.7 L1410.4 528.9 L1410.4 530.1 L1410.5 531.3 L1410.5 532.5 L1410.5 533.7 L1410.5 534.9 L1410.5 536.1 L1410.5 537.3 L1410.5 538.5 L1410.5 539.7 L1410.5 541.0 L1410.5 542.2 L1410.5 543.4 L1410.6 544.6 L1410.6 545.8 L1410.6 547.0 L1410.6 548.2 L1410.6 549.4 L1410.6 550.6 L1410.6 551.8 L1410.6 553.0 L1410.6 554.2 L1410.6 555.4 L1410.7 556.6 L1410.7 557.8 L1410.7 559.0 L1410.7 560.2 L1410.7 561.4 L1410.7 562.6 L1410.7 563.8 L1410.7 565.0 L1410.7 566.2 L1410.7 567.4 L1410.8 568.6 L1410.8 569.8 L1410.8 571.0 L1410.8 572.2 L1410.8 573.4 L1410.8 574.6 L1410.8 575.8 L1410.8 577.0 L1410.8 578.2 L1410.9 579.4 L1410.9 580.6 L1410.9 581.8 L1410.9 583.0 L1410.9 584.2 L1410.9 585.4 L1410.9 586.6 L1410.9 587.8 L1411.0 589.0 L1411.0 590.2 L1411.0 591.4 L1411.0 592.6 L1411.0 593.8 L1411.0 595.0 L1411.0 596.2 L1411.1 597.4 L1411.1 598.6 L1411.1 599.8 L1411.1 601.0 L1411.1 602.2 L1411.1 603.4 L1411.1 604.6 L1411.1 605.8 L1411.2 607.1 L1411.2 608.3 L1411.2 609.5 L1411.2 610.7 L1411.2 611.9 L1411.2 613.1 L1411.3 614.3 L1411.3 615.5 L1411.3 616.7 L1411.3 617.9 L1411.3 619.1 L1411.3 620.3 L1411.3 621.5 L1411.4 622.7 L1411.4 623.9 L1411.4 625.1 L1411.4 626.3 L1411.4 627.5 L1411.4 628.7 L1411.5 629.9 L1411.5 631.1 L1411.5 632.3 L1411.5 633.5 L1411.5 634.7 L1411.5 635.9 L1411.6 637.1 L1411.6 638.3 L1411.6 639.5 L1411.6 640.7 L1411.6 641.9 L1411.6 643.1 L1411.7 644.3 L1411.7 645.5 L1411.7 646.7 L1411.7 647.9 L1411.7 649.1 L1411.7 650.3 L1411.8 651.5 L1411.8 652.7 L1411.8 653.9 L1411.8 655.1 L1411.8 656.3 L1411.9 657.5 L1411.9 658.7 L1411.9 659.9 L1411.9 661.1 L1411.9 662.3 L1411.9 663.5 L1412.0 664.7 L1412.0 665.9 L1412.0 667.1 L1412.0 668.3 L1412.0 669.5 L1412.1 670.7 L1412.1 671.9 L1412.1 673.2 L1412.1 674.4 L1412.1 675.6 L1412.2 676.8 L1412.2 678.0 L1412.2 679.2 L1412.2 680.4 L1412.2 681.6 L1412.3 682.8 L1412.3 684.0 L1412.3 685.2 L1412.3 686.4 L1412.3 687.6 L1412.4 688.8 L1412.4 690.0 L1412.4 691.2 L1412.4 692.4 L1412.5 693.6 L1412.5 694.8 L1412.5 696.0 L1412.5 697.2 L1412.5 698.4 L1412.6 699.6 L1412.6 700.8 L1412.6 702.0 L1412.6 703.2 L1412.6 704.4 L1412.7 705.6 L1412.7 706.8 L1412.7 708.0 L1412.7 709.2 L1412.8 710.4 L1412.8 711.6 L1412.8 712.8 L1412.8 714.0 L1412.8 715.2 L1412.9 716.4 L1412.9 717.6 L1412.9 718.8 L1412.9 720.0 L1413.0 721.2 L1413.0 722.4 L1413.0 723.6 L1413.0 724.8 L1413.1 726.0 L1413.1 727.2 L1413.1 728.4 L1413.1 729.6 L1413.2 730.8 L1413.2 732.0 L1413.2 733.2 L1413.2 734.4 L1413.3 735.6 L1413.3 736.8 L1413.3 738.0 L1413.3 739.2 L1413.4 740.4 L1413.4 741.6 L1413.4 742.8 L1413.4 744.0 L1413.5 745.3 L1413.5 746.5 L1413.5 747.7 L1413.6 748.9 L1413.6 750.1 L1413.6 751.3 L1413.6 752.5 L1413.7 753.7 L1413.7 754.9 L1413.7 756.1 L1413.8 757.3 L1413.8 758.5 L1413.8 759.7 L1413.9 760.9 L1413.9 762.1 L1414.0 763.3 L1414.0 764.5 L1414.0 765.7 L1414.1 766.9 L1414.1 768.1 L1414.1 769.3 L1414.2 770.5 L1414.2 771.7 L1414.3 772.9 L1414.3 774.1 L1414.3 775.3 L1414.4 776.5 L1414.4 777.7 L1414.4 778.9 L1414.5 780.1 L1414.5 781.3 L1414.6 782.5 L1414.6 783.7 L1414.6 784.9 L1414.7 786.1 L1414.7 787.3 L1414.8 788.5 L1414.8 789.7 L1414.8 790.9 L1414.9 792.1 L1414.9 793.3 L1414.9 794.5 L1415.0 795.7 L1415.0 796.9 L1415.1 798.1 L1415.1 799.3 L1415.1 800.5 L1415.2 801.7 L1415.2 802.9 L1415.3 804.1 L1415.3 805.3 L1415.4 806.5 L1415.4 807.7 L1415.5 808.9 L1415.5 810.1 L1415.6 811.3 L1415.6 812.5 L1415.7 814.0 L1415.8 815.5 L1415.8 817.1 L1415.9 818.6 L1416.0 820.1 L1416.1 821.2 L1416.2 822.1 L1416.3 822.5 M1472.8 130.0 L1472.8 796.0 M1475.4 130.0 L1475.4 132.0 L1475.4 134.0 L1475.4 136.0 L1475.4 138.0 L1475.4 140.1 L1475.4 142.1 L1475.4 144.1 L1475.4 146.1 L1475.4 148.1 L1475.4 150.1 L1475.4 152.1 L1475.4 154.1 L1475.4 156.1 L1475.4 158.1 L1475.4 160.2 L1475.4 162.2 L1475.4 164.2 L1475.4 166.2 L1475.4 168.2 L1475.4 170.2 L1475.4 172.2 L1475.4 174.2 L1475.4 176.2 L1475.4 178.2 L1475.4 180.3 L1475.4 182.3 L1475.5 184.3 L1475.5 186.3 L1475.5 188.3 L1475.5 190.3 L1475.5 192.3 L1475.5 194.3 L1475.5 196.3 L1475.5 198.3 L1475.5 200.4 L1475.5 202.4 L1475.5 204.4 L1475.5 206.4 L1475.5 208.4 L1475.5 210.4 L1475.5 212.4 L1475.5 214.4 L1475.5 216.4 L1475.5 218.4 L1475.5 220.5 L1475.5 222.5 L1475.5 224.5 L1475.6 226.5 L1475.6 228.5 L1475.6 230.5 L1475.6 232.5 L1475.6 234.5 L1475.6 236.5 L1475.6 238.5 L1475.6 240.5 L1475.6 242.6 L1475.6 244.6 L1475.6 246.6 L1475.6 248.6 L1475.6 250.6 L1475.6 252.6 L1475.6 254.6 L1475.7 256.6 L1475.7 258.6 L1475.7 260.6 L1475.7 262.7 L1475.7 264.7 L1475.7 266.7 L1475.7 268.7 L1475.7 270.7 L1475.7 272.7 L1475.7 274.7 L1475.7 276.7 L1475.7 278.7 L1475.7 280.7 L1475.8 282.8 L1475.8 284.8 L1475.8 286.8 L1475.8 288.8 L1475.8 290.8 L1475.8 292.8 L1475.8 294.8 L1475.8 296.8 L1475.8 298.8 L1475.8 300.8 L1475.8 302.9 L1475.8 304.9 L1475.9 306.9 L1475.9 308.9 L1475.9 310.9 L1475.9 312.9 L1475.9 314.9 L1475.9 316.9 L1475.9 318.9 L1475.9 320.9 L1475.9 323.0 L1475.9 325.0 L1475.9 327.0 L1475.9 329.0 L1476.0 331.0 L1476.0 333.0 L1476.0 335.0 L1476.0 337.0 L1476.0 339.0 L1476.0 341.0 L1476.0 343.1 L1476.0 345.1 L1476.0 347.1 L1476.0 349.1 L1476.1 351.1 L1476.1 353.1 L1476.1 355.1 L1476.1 357.1 L1476.1 359.1 L1476.1 361.1 L1476.1 363.2 L1476.2 365.2 L1476.2 367.2 L1476.2 369.2 L1476.2 371.2 L1476.2 373.2 L1476.2 375.2 L1476.3 377.2 L1476.3 379.2 L1476.3 381.2 L1476.3 383.3 L1476.3 385.3 L1476.3 387.3 L1476.4 389.3 L1476.4 391.3 L1476.4 393.3 L1476.4 395.3 L1476.4 397.3 L1476.5 399.3 L1476.5 401.3 L1476.5 403.4 L1476.5 405.4 L1476.6 407.4 L1476.6 409.4 L1476.6 411.4 L1476.6 413.4 L1476.6 415.4 L1476.7 417.4 L1476.7 419.4 L1476.7 421.4 L1476.7 423.5 L1476.8 425.5 L1476.8 427.5 L1476.8 429.5 L1476.8 431.5 L1476.9 433.5 L1476.9 435.5 L1476.9 437.5 L1476.9 439.5 L1477.0 441.5 L1477.0 443.5 L1477.0 445.6 L1477.1 447.6 L1477.1 449.6 L1477.1 451.6 L1477.1 453.6 L1477.2 455.6 L1477.2 457.6 L1477.2 459.6 L1477.2 461.6 L1477.3 463.6 L1477.3 465.7 L1477.3 467.7 L1477.4 469.7 L1477.4 471.7 L1477.4 473.7 L1477.4 475.7 L1477.5 477.7 L1477.5 479.7 L1477.5 481.7 L1477.5 483.7 L1477.6 485.8 L1477.6 487.8 L1477.6 489.8 L1477.7 491.8 L1477.7 493.8 L1477.7 495.8 L1477.7 497.8 L1477.8 499.8 L1477.8 501.8 L1477.8 503.8 L1477.9 505.9 L1477.9 507.9 L1477.9 509.9 L1477.9 511.9 L1478.0 513.9 L1478.0 515.9 L1478.0 517.9 L1478.0 519.9 L1478.1 521.9 L1478.1 523.9 L1478.1 526.0 L1478.1 528.0 L1478.2 530.0 L1478.2 532.0 L1478.2 534.0 L1478.3 536.0 L1478.3 538.0 L1478.3 540.0 L1478.3 542.0 L1478.4 544.0 L1478.4 546.1 L1478.4 548.1 L1478.4 550.1 L1478.5 552.1 L1478.5 554.1 L1478.5 556.1 L1478.5 558.1 L1478.6 560.1 L1478.6 562.1 L1478.6 564.1 L1478.6 566.1 L1478.7 568.2 L1478.7 570.2 L1478.7 572.2 L1478.7 574.2 L1478.8 576.2 L1478.8 578.2 L1478.8 580.2 L1478.8 582.2 L1478.9 584.2 L1478.9 586.2 L1478.9 588.3 L1478.9 590.3 L1479.0 592.3 L1479.0 594.3 L1479.0 596.3 L1479.0 598.3 L1479.1 600.3 L1479.1 602.3 L1479.1 604.3 L1479.1 606.3 L1479.2 608.4 L1479.2 610.4 L1479.2 612.4 L1479.3 614.4 L1479.3 616.4 L1479.3 618.4 L1479.3 620.4 L1479.4 622.4 L1479.4 624.4 L1479.4 626.4 L1479.4 628.5 L1479.5 630.5 L1479.5 632.5 L1479.5 634.5 L1479.5 636.5 L1479.6 638.5 L1479.6 640.5 L1479.6 642.5 L1479.7 644.5 L1479.7 646.5 L1479.7 648.6 L1479.7 650.6 L1479.8 652.6 L1479.8 654.6 L1479.8 656.6 L1479.8 658.6 L1479.9 660.6 L1479.9 662.6 L1479.9 664.6 L1480.0 666.6 L1480.0 668.6 L1480.0 670.7 L1480.0 672.7 L1480.1 674.7 L1480.1 676.7 L1480.1 678.7 L1480.1 680.7 L1480.2 682.7 L1480.2 684.7 L1480.2 686.7 L1480.3 688.7 L1480.3 690.8 L1480.3 692.8 L1480.3 694.8 L1480.4 696.8 L1480.4 698.8 L1480.4 700.8 L1480.5 702.8 L1480.5 704.8 L1480.5 706.8 L1480.5 708.8 L1480.6 710.9 L1480.6 712.9 L1480.6 714.9 L1480.7 716.9 L1480.7 718.9 L1480.7 720.9 L1480.7 722.9 L1480.8 724.9 L1480.8 726.9 L1480.8 728.9 L1480.9 731.0 L1480.9 733.0 L1480.9 735.0 L1480.9 737.0 L1481.0 739.0 L1481.0 741.0 M1481.3 741.0 L1481.4 739.0 L1481.5 737.0 L1481.6 735.0 L1481.8 733.0 L1481.9 731.0 L1482.0 729.0 L1482.1 726.9 L1482.2 724.9 L1482.3 722.9 L1482.5 720.9 L1482.6 718.9 L1482.7 716.9 L1482.8 714.9 L1482.9 712.9 L1482.9 710.9 L1483.0 708.9 L1483.1 706.9 L1483.2 704.9 L1483.2 702.9 L1483.3 700.8 L1483.3 698.8 L1483.4 696.8 L1483.4 694.8 L1483.4 692.8 L1483.5 690.8 L1483.5 688.8 L1483.6 686.8 L1483.6 684.8 L1483.6 682.8 L1483.7 680.8 L1483.7 678.7 L1483.7 676.7 L1483.8 674.7 L1483.8 672.7 L1483.8 670.7 L1483.9 668.7 L1483.9 666.7 L1483.9 664.7 L1483.9 662.7 L1484.0 660.7 L1484.0 658.6 L1484.0 656.6 L1484.0 654.6 L1484.1 652.6 L1484.1 650.6 L1484.1 648.6 L1484.1 646.6 L1484.2 644.6 L1484.2 642.6 L1484.2 640.6 L1484.2 638.5 L1484.2 636.5 L1484.3 634.5 L1484.3 632.5 L1484.3 630.5 L1484.3 628.5 L1484.3 626.5 L1484.4 624.5 L1484.4 622.5 L1484.4 620.5 L1484.4 618.4 L1484.4 616.4 L1484.4 614.4 L1484.5 612.4 L1484.5 610.4 L1484.5 608.4 L1484.5 606.4 L1484.5 604.4 L1484.5 602.4 L1484.6 600.3 L1484.6 598.3 L1484.6 596.3 L1484.6 594.3 L1484.6 592.3 L1484.6 590.3 L1484.7 588.3 L1484.7 586.3 L1484.7 584.3 L1484.7 582.2 L1484.7 580.2 L1484.8 578.2 L1484.8 576.2 L1484.8 574.2 L1484.8 572.2 L1484.8 570.2 L1484.9 568.2 L1484.9 566.2 L1484.9 564.2 L1484.9 562.1 L1484.9 560.1 L1485.0 558.1 L1485.0 556.1 L1485.0 554.1 L1485.0 552.1 L1485.1 550.1 L1485.1 548.1 L1485.1 546.1 L1485.1 544.1 L1485.2 542.0 L1485.2 540.0 L1485.2 538.0 L1485.3 536.0 L1485.3 534.0 L1485.3 532.0 L1485.4 530.0 L1485.4 528.0 L1485.4 526.0 L1485.4 524.0 L1485.5 521.9 L1485.5 519.9 L1485.5 517.9 L1485.6 515.9 L1485.6 513.9 L1485.6 511.9 L1485.7 509.9 L1485.7 507.9 L1485.8 505.9 L1485.8 503.9 L1485.8 501.8 L1485.9 499.8 L1485.9 497.8 L1485.9 495.8 L1486.0 493.8 L1486.0 491.8 L1486.0 489.8 L1486.1 487.8 L1486.1 485.8 L1486.2 483.8 L1486.2 481.7 L1486.2 479.7 L1486.3 477.7 L1486.3 475.7 L1486.4 473.7 L1486.4 471.7 L1486.4 469.7 L1486.5 467.7 L1486.5 465.7 L1486.6 463.7 L1486.6 461.6 L1486.6 459.6 L1486.7 457.6 L1486.7 455.6 L1486.8 453.6 L1486.8 451.6 L1486.8 449.6 L1486.9 447.6 L1486.9 445.6 L1487.0 443.6 L1487.0 441.5 L1487.0 439.5 L1487.1 437.5 L1487.1 435.5 L1487.2 433.5 L1487.2 431.5 L1487.3 429.5 L1487.3 427.5 L1487.3 425.5 L1487.4 423.5 L1487.4 421.4 L1487.5 419.4 L1487.5 417.4 L1487.5 415.4 L1487.6 413.4 L1487.6 411.4 L1487.7 409.4 L1487.7 407.4 L1487.8 405.4 L1487.8 403.4 L1487.8 401.3 L1487.9 399.3 L1487.9 397.3 L1488.0 395.3 L1488.0 393.3 L1488.0 391.3 L1488.1 389.3 L1488.1 387.3 L1488.2 385.3 L1488.2 383.3 L1488.2 381.3 L1488.3 379.2 L1488.3 377.2 L1488.4 375.2 L1488.4 373.2 L1488.4 371.2 L1488.5 369.2 L1488.5 367.2 L1488.5 365.2 L1488.6 363.2 L1488.6 361.2 L1488.7 359.1 L1488.7 357.1 L1488.7 355.1 L1488.8 353.1 L1488.8 351.1 L1488.8 349.1 L1488.9 347.1 L1488.9 345.1 L1488.9 343.1 L1489.0 341.1 L1489.0 339.0 L1489.1 337.0 L1489.1 335.0 L1489.1 333.0 L1489.1 331.0 L1489.2 329.0 L1489.2 327.0 L1489.2 325.0 L1489.3 323.0 L1489.3 321.0 L1489.3 318.9 L1489.4 316.9 L1489.4 314.9 L1489.4 312.9 L1489.5 310.9 L1489.5 308.9 L1489.5 306.9 L1489.6 304.9 L1489.6 302.9 L1489.6 300.9 L1489.6 298.8 L1489.7 296.8 L1489.7 294.8 L1489.7 292.8 L1489.8 290.8 L1489.8 288.8 L1489.8 286.8 L1489.9 284.8 L1489.9 282.8 L1489.9 280.8 L1489.9 278.7 L1490.0 276.7 L1490.0 274.7 L1490.0 272.7 L1490.1 270.7 L1490.1 268.7 L1490.1 266.7 L1490.1 264.7 L1490.2 262.7 L1490.2 260.7 L1490.2 258.6 L1490.3 256.6 L1490.3 254.6 L1490.3 252.6 L1490.3 250.6 L1490.4 248.6 L1490.4 246.6 L1490.4 244.6 L1490.4 242.6 L1490.5 240.5 L1490.5 238.5 L1490.5 236.5 L1490.6 234.5 L1490.6 232.5 L1490.6 230.5 L1490.6 228.5 L1490.7 226.5 L1490.7 224.5 L1490.7 222.5 L1490.8 220.4 L1490.8 218.4 L1490.8 216.4 L1490.8 214.4 L1490.9 212.4 L1490.9 210.4 L1490.9 208.4 L1491.0 206.4 L1491.0 204.4 L1491.0 202.4 L1491.1 200.3 L1491.1 198.3 L1491.1 196.3 L1491.1 194.3 L1491.2 192.3 L1491.2 190.3 L1491.2 188.3 L1491.3 186.3 L1491.3 184.3 L1491.3 182.3 L1491.4 180.2 L1491.4 178.2 L1491.4 176.2 L1491.5 174.2 L1491.5 172.2 L1491.5 170.2 L1491.6 168.2 L1491.6 166.2 L1491.6 164.2 L1491.7 162.2 L1491.7 160.1 L1491.7 158.1 L1491.8 156.1 L1491.8 154.1 L1491.9 152.1 L1491.9 150.1 L1491.9 148.1 L1492.0 146.1 L1492.0 144.1 L1492.0 142.1 L1492.1 140.0 L1492.1 138.0 L1492.2 136.0 L1492.2 134.0 L1492.3 132.0 L1492.3 130.0"/>
<path stroke-width="4.8" stroke-dasharray="0.01 5.5" d="M630.3 645.0 L630.3 830.0"/>
<path stroke-width="4.8" stroke-dasharray="0.01 5.5" d="M734.5 607.0 L734.5 800.0"/>
<path stroke-width="4.8" stroke-dasharray="0.01 3.0" d="M834.5 501.7 L834.5 537.7"/>
<path stroke-width="4.8" stroke-dasharray="0.01 11.0" d="M834.5 543.7 L834.5 547.0"/>
<path stroke-width="4.8" stroke-dasharray="0.01 5.5" d="M834.5 741.0 L834.5 765.0"/>
<path stroke-width="4.8" stroke-dasharray="0.01 3.0" d="M930.5 406.7 L930.5 442.7"/>
<path stroke-width="4.8" stroke-dasharray="0.01 11.0" d="M930.5 448.7 L930.5 547.0"/>
<path stroke-width="4.8" stroke-dasharray="0.01 3.0" d="M1021.6 277.0 L1021.6 313.0"/>
<path stroke-width="4.8" stroke-dasharray="0.01 11.0" d="M1021.6 319.0 L1021.6 547.0"/>
<path stroke-width="4.8" stroke-dasharray="0.01 4.5" d="M1108.5 144.0 L1108.5 180.0"/>
<path stroke-width="4.8" stroke-dasharray="0.01 15.0" d="M1108.5 192.0 L1108.5 547.0"/>
<path stroke-width="4.8" stroke-dasharray="0.01 6.0" d="M1108.5 640.0 L1108.5 933.5"/>
<path stroke-width="4.8" stroke-dasharray="0.01 5.0" d="M1108.8 640.0 L1108.8 641.2 L1108.8 642.4 L1108.8 643.6 L1108.8 644.8 L1108.8 646.0 L1108.8 647.2 L1108.8 648.4 L1108.8 649.6 L1108.8 650.8 L1108.8 652.0 L1108.8 653.2 L1108.8 654.4 L1108.8 655.7 L1108.8 656.9 L1108.8 658.1 L1108.8 659.3 L1108.8 660.5 L1108.8 661.7 L1108.8 662.9 L1108.9 664.1 L1108.9 665.3 L1108.9 666.5 L1108.9 667.7 L1108.9 668.9 L1108.9 670.1 L1108.9 671.3 L1108.9 672.5 L1108.9 673.7 L1108.9 674.9 L1108.9 676.1 L1108.9 677.3 L1108.9 678.5 L1108.9 679.7 L1108.9 680.9 L1109.0 682.1 L1109.0 683.3 L1109.0 684.6 L1109.0 685.8 L1109.0 687.0 L1109.0 688.2 L1109.0 689.4 L1109.0 690.6 L1109.0 691.8 L1109.0 693.0 L1109.0 694.2 L1109.1 695.4 L1109.1 696.6 L1109.1 697.8 L1109.1 699.0 L1109.1 700.2 L1109.1 701.4 L1109.1 702.6 L1109.1 703.8 L1109.2 705.0 L1109.2 706.2 L1109.2 707.4 L1109.2 708.6 L1109.2 709.8 L1109.2 711.0 L1109.2 712.2 L1109.2 713.4 L1109.3 714.6 L1109.3 715.9 L1109.3 717.1 L1109.3 718.3 L1109.3 719.5 L1109.3 720.7 L1109.3 721.9 L1109.4 723.1 L1109.4 724.3 L1109.4 725.5 L1109.4 726.7 L1109.4 727.9 L1109.4 729.1 L1109.4 730.3 L1109.5 731.5 L1109.5 732.7 L1109.5 733.9 L1109.5 735.1 L1109.5 736.3 L1109.5 737.5 L1109.6 738.7 L1109.6 739.9 L1109.6 741.1 L1109.6 742.3 L1109.6 743.5 L1109.6 744.7 L1109.7 745.9 L1109.7 747.1 L1109.7 748.4 L1109.7 749.6 L1109.7 750.8 L1109.7 752.0 L1109.8 753.2 L1109.8 754.4 L1109.8 755.6 L1109.8 756.8 L1109.8 758.0 L1109.9 759.2 L1109.9 760.4 L1109.9 761.6 L1109.9 762.8 L1109.9 764.0 L1110.0 765.2 L1110.0 766.4 L1110.0 767.6 L1110.0 768.8 L1110.0 770.0 L1110.1 771.2 L1110.1 772.4 L1110.1 773.6 L1110.1 774.8 L1110.1 776.0 L1110.2 777.2 L1110.2 778.4 L1110.2 779.6 L1110.2 780.8 L1110.2 782.1 L1110.3 783.3 L1110.3 784.5 L1110.3 785.7 L1110.3 786.9 L1110.3 788.1 L1110.4 789.3 L1110.4 790.5 L1110.4 791.7 L1110.4 792.9 L1110.4 794.1 L1110.5 795.3 L1110.5 796.5 L1110.5 797.7 L1110.5 798.9 L1110.5 800.1 L1110.6 801.3 L1110.6 802.5 L1110.6 803.7 L1110.6 804.9 L1110.7 806.1 L1110.7 807.3 L1110.7 808.5 L1110.7 809.7 L1110.8 810.9 L1110.8 812.1 L1110.8 813.3 L1110.8 814.5 L1110.9 815.7 L1110.9 817.0 L1110.9 818.2 L1111.0 819.4 L1111.0 820.6 L1111.0 821.8 L1111.1 823.0 L1111.1 824.2 L1111.2 825.4 L1111.2 826.6 L1111.2 827.8 L1111.3 829.0 L1111.3 830.2 L1111.3 831.4 L1111.4 832.6 L1111.4 833.8 L1111.5 835.0 L1111.5 836.2 L1111.6 837.4 L1111.6 838.6 L1111.6 839.8 L1111.7 841.0 L1111.7 842.2 L1111.8 843.4 L1111.8 844.6 L1111.9 845.8 L1111.9 847.0 L1112.0 848.2 L1112.0 849.4 L1112.1 850.6 L1112.1 851.8 L1112.2 853.0 L1112.2 854.3 L1112.3 855.5 L1112.3 856.7 L1112.4 857.9 L1112.4 859.1 L1112.5 860.3 L1112.5 861.5 L1112.6 862.7 L1112.6 863.9 L1112.7 865.1 L1112.7 866.3 L1112.8 867.5 L1112.8 868.7 L1112.9 869.9 L1112.9 871.1 L1113.0 872.3 L1113.1 873.5 L1113.1 874.7 L1113.2 875.9 L1113.3 877.1 L1113.3 878.3 L1113.4 879.5 L1113.5 880.7 L1113.5 881.9 L1113.6 883.1 L1113.7 884.3 L1113.8 885.5 L1113.8 886.7 L1113.9 887.9 L1114.0 889.1 L1114.1 890.3 L1114.1 891.5 L1114.2 892.7 L1114.3 893.9 L1114.4 895.1 L1114.4 896.3 L1114.5 897.5 L1114.6 898.7 L1114.7 899.9 L1114.8 901.1 L1114.8 902.3 L1114.9 903.5 L1115.0 904.7 L1115.1 905.9 L1115.2 907.1 L1115.3 908.3 L1115.3 909.5 L1115.4 910.7 L1115.5 911.9 L1115.6 913.1 L1115.7 914.3 L1115.7 915.5 L1115.8 916.8 L1115.9 918.0 L1116.0 919.2 L1116.1 920.4 L1116.2 921.6 L1116.3 922.8 L1116.4 923.9 L1116.5 925.1 L1116.6 926.4 L1116.8 927.8 L1116.9 929.3 L1117.1 930.9 L1117.3 932.3 L1117.5 933.5 L1117.7 934.3 L1117.9 934.6"/>
<path stroke-width="4.8" stroke-dasharray="0.01 27.0" d="M1189.5 150.0 L1189.5 580.0"/>
<path stroke-width="4.8" stroke-dasharray="0.01 6.0" d="M1189.5 580.0 L1189.5 916.9"/>
<path stroke-width="4.8" stroke-dasharray="0.01 5.0" d="M1189.8 580.0 L1189.8 581.2 L1189.8 582.4 L1189.8 583.6 L1189.8 584.8 L1189.8 586.0 L1189.8 587.2 L1189.8 588.4 L1189.8 589.6 L1189.8 590.8 L1189.8 592.0 L1189.8 593.2 L1189.8 594.4 L1189.8 595.6 L1189.8 596.8 L1189.8 598.0 L1189.8 599.2 L1189.8 600.4 L1189.8 601.6 L1189.8 602.8 L1189.8 604.0 L1189.8 605.3 L1189.8 606.5 L1189.8 607.7 L1189.9 608.9 L1189.9 610.1 L1189.9 611.3 L1189.9 612.5 L1189.9 613.7 L1189.9 614.9 L1189.9 616.1 L1189.9 617.3 L1189.9 618.5 L1189.9 619.7 L1189.9 620.9 L1189.9 622.1 L1189.9 623.3 L1189.9 624.5 L1189.9 625.7 L1189.9 626.9 L1189.9 628.1 L1190.0 629.3 L1190.0 630.5 L1190.0 631.7 L1190.0 632.9 L1190.0 634.1 L1190.0 635.3 L1190.0 636.5 L1190.0 637.7 L1190.0 638.9 L1190.0 640.1 L1190.0 641.3 L1190.0 642.5 L1190.1 643.7 L1190.1 644.9 L1190.1 646.1 L1190.1 647.3 L1190.1 648.5 L1190.1 649.7 L1190.1 650.9 L1190.1 652.1 L1190.1 653.3 L1190.1 654.5 L1190.2 655.7 L1190.2 656.9 L1190.2 658.1 L1190.2 659.3 L1190.2 660.6 L1190.2 661.8 L1190.2 663.0 L1190.2 664.2 L1190.2 665.4 L1190.3 666.6 L1190.3 667.8 L1190.3 669.0 L1190.3 670.2 L1190.3 671.4 L1190.3 672.6 L1190.3 673.8 L1190.3 675.0 L1190.4 676.2 L1190.4 677.4 L1190.4 678.6 L1190.4 679.8 L1190.4 681.0 L1190.4 682.2 L1190.4 683.4 L1190.4 684.6 L1190.5 685.8 L1190.5 687.0 L1190.5 688.2 L1190.5 689.4 L1190.5 690.6 L1190.5 691.8 L1190.5 693.0 L1190.6 694.2 L1190.6 695.4 L1190.6 696.6 L1190.6 697.8 L1190.6 699.0 L1190.6 700.2 L1190.7 701.4 L1190.7 702.6 L1190.7 703.8 L1190.7 705.0 L1190.7 706.2 L1190.7 707.4 L1190.7 708.6 L1190.8 709.8 L1190.8 711.0 L1190.8 712.2 L1190.8 713.4 L1190.8 714.6 L1190.8 715.8 L1190.9 717.0 L1190.9 718.2 L1190.9 719.4 L1190.9 720.6 L1190.9 721.8 L1190.9 723.1 L1191.0 724.3 L1191.0 725.5 L1191.0 726.7 L1191.0 727.9 L1191.0 729.1 L1191.1 730.3 L1191.1 731.5 L1191.1 732.7 L1191.1 733.9 L1191.1 735.1 L1191.1 736.3 L1191.2 737.5 L1191.2 738.7 L1191.2 739.9 L1191.2 741.1 L1191.2 742.3 L1191.3 743.5 L1191.3 744.7 L1191.3 745.9 L1191.3 747.1 L1191.3 748.3 L1191.3 749.5 L1191.4 750.7 L1191.4 751.9 L1191.4 753.1 L1191.4 754.3 L1191.4 755.5 L1191.5 756.7 L1191.5 757.9 L1191.5 759.1 L1191.5 760.3 L1191.5 761.5 L1191.6 762.7 L1191.6 763.9 L1191.6 765.1 L1191.6 766.3 L1191.6 767.5 L1191.7 768.7 L1191.7 769.9 L1191.7 771.1 L1191.7 772.3 L1191.7 773.5 L1191.8 774.7 L1191.8 775.9 L1191.8 777.1 L1191.8 778.3 L1191.8 779.5 L1191.9 780.7 L1191.9 781.9 L1191.9 783.1 L1191.9 784.3 L1192.0 785.5 L1192.0 786.7 L1192.0 787.9 L1192.0 789.1 L1192.1 790.3 L1192.1 791.5 L1192.1 792.8 L1192.1 794.0 L1192.2 795.2 L1192.2 796.4 L1192.2 797.6 L1192.3 798.8 L1192.3 800.0 L1192.3 801.2 L1192.4 802.4 L1192.4 803.6 L1192.5 804.8 L1192.5 806.0 L1192.5 807.2 L1192.6 808.4 L1192.6 809.6 L1192.7 810.8 L1192.7 812.0 L1192.7 813.2 L1192.8 814.4 L1192.8 815.6 L1192.9 816.8 L1192.9 818.0 L1193.0 819.2 L1193.0 820.4 L1193.1 821.6 L1193.1 822.8 L1193.1 824.0 L1193.2 825.2 L1193.2 826.4 L1193.3 827.6 L1193.3 828.8 L1193.4 830.0 L1193.4 831.2 L1193.5 832.4 L1193.5 833.6 L1193.6 834.8 L1193.6 836.0 L1193.7 837.2 L1193.7 838.4 L1193.8 839.6 L1193.8 840.8 L1193.9 842.0 L1193.9 843.2 L1194.0 844.4 L1194.0 845.6 L1194.1 846.8 L1194.1 848.0 L1194.2 849.2 L1194.2 850.4 L1194.3 851.6 L1194.3 852.8 L1194.4 854.0 L1194.4 855.2 L1194.5 856.4 L1194.5 857.6 L1194.6 858.8 L1194.6 860.0 L1194.7 861.2 L1194.7 862.4 L1194.8 863.6 L1194.9 864.8 L1194.9 866.0 L1195.0 867.2 L1195.0 868.4 L1195.1 869.6 L1195.2 870.8 L1195.2 872.0 L1195.3 873.2 L1195.3 874.4 L1195.4 875.6 L1195.5 876.8 L1195.5 878.0 L1195.6 879.2 L1195.7 880.4 L1195.7 881.6 L1195.8 882.8 L1195.9 884.0 L1195.9 885.2 L1196.0 886.4 L1196.1 887.6 L1196.2 888.8 L1196.2 890.0 L1196.3 891.2 L1196.4 892.4 L1196.5 893.6 L1196.5 894.8 L1196.6 896.0 L1196.7 897.2 L1196.8 898.4 L1196.9 899.6 L1197.0 900.8 L1197.1 902.0 L1197.2 903.2 L1197.3 904.4 L1197.4 905.6 L1197.5 906.8 L1197.6 908.0 L1197.8 909.2 L1197.9 910.4 L1198.1 911.6 L1198.3 913.1 L1198.6 914.7 L1198.8 916.0 L1199.1 916.8 L1199.3 916.8"/>
<path stroke-width="4.8" stroke-dasharray="0.01 16.0" d="M1266.4 150.0 L1266.4 495.0"/>
<path stroke-width="4.8" stroke-dasharray="0.01 6.0" d="M1266.4 495.0 L1266.4 897.5"/>
<path stroke-width="4.8" stroke-dasharray="0.01 5.0" d="M1266.8 495.0 L1266.8 496.2 L1266.8 497.4 L1266.9 498.6 L1266.9 499.8 L1266.9 501.0 L1266.9 502.2 L1266.9 503.4 L1266.9 504.6 L1267.0 505.8 L1267.0 507.0 L1267.0 508.2 L1267.0 509.4 L1267.0 510.6 L1267.1 511.8 L1267.1 513.0 L1267.1 514.2 L1267.1 515.4 L1267.1 516.6 L1267.1 517.9 L1267.2 519.1 L1267.2 520.3 L1267.2 521.5 L1267.2 522.7 L1267.2 523.9 L1267.3 525.1 L1267.3 526.3 L1267.3 527.5 L1267.3 528.7 L1267.3 529.9 L1267.3 531.1 L1267.4 532.3 L1267.4 533.5 L1267.4 534.7 L1267.4 535.9 L1267.4 537.1 L1267.4 538.3 L1267.5 539.5 L1267.5 540.7 L1267.5 541.9 L1267.5 543.1 L1267.5 544.3 L1267.5 545.5 L1267.6 546.7 L1267.6 547.9 L1267.6 549.1 L1267.6 550.3 L1267.6 551.5 L1267.6 552.7 L1267.7 553.9 L1267.7 555.1 L1267.7 556.3 L1267.7 557.5 L1267.7 558.7 L1267.7 559.9 L1267.7 561.1 L1267.8 562.4 L1267.8 563.6 L1267.8 564.8 L1267.8 566.0 L1267.8 567.2 L1267.8 568.4 L1267.8 569.6 L1267.8 570.8 L1267.9 572.0 L1267.9 573.2 L1267.9 574.4 L1267.9 575.6 L1267.9 576.8 L1267.9 578.0 L1267.9 579.2 L1267.9 580.4 L1268.0 581.6 L1268.0 582.8 L1268.0 584.0 L1268.0 585.2 L1268.0 586.4 L1268.0 587.6 L1268.0 588.8 L1268.0 590.0 L1268.1 591.2 L1268.1 592.4 L1268.1 593.6 L1268.1 594.8 L1268.1 596.0 L1268.1 597.2 L1268.1 598.4 L1268.1 599.6 L1268.1 600.8 L1268.2 602.0 L1268.2 603.2 L1268.2 604.5 L1268.2 605.7 L1268.2 606.9 L1268.2 608.1 L1268.2 609.3 L1268.2 610.5 L1268.2 611.7 L1268.2 612.9 L1268.3 614.1 L1268.3 615.3 L1268.3 616.5 L1268.3 617.7 L1268.3 618.9 L1268.3 620.1 L1268.3 621.3 L1268.3 622.5 L1268.3 623.7 L1268.4 624.9 L1268.4 626.1 L1268.4 627.3 L1268.4 628.5 L1268.4 629.7 L1268.4 630.9 L1268.4 632.1 L1268.4 633.3 L1268.4 634.5 L1268.4 635.7 L1268.5 636.9 L1268.5 638.1 L1268.5 639.3 L1268.5 640.5 L1268.5 641.7 L1268.5 642.9 L1268.5 644.1 L1268.5 645.3 L1268.5 646.6 L1268.5 647.8 L1268.6 649.0 L1268.6 650.2 L1268.6 651.4 L1268.6 652.6 L1268.6 653.8 L1268.6 655.0 L1268.6 656.2 L1268.6 657.4 L1268.6 658.6 L1268.7 659.8 L1268.7 661.0 L1268.7 662.2 L1268.7 663.4 L1268.7 664.6 L1268.7 665.8 L1268.7 667.0 L1268.7 668.2 L1268.8 669.4 L1268.8 670.6 L1268.8 671.8 L1268.8 673.0 L1268.8 674.2 L1268.8 675.4 L1268.8 676.6 L1268.8 677.8 L1268.9 679.0 L1268.9 680.2 L1268.9 681.4 L1268.9 682.6 L1268.9 683.8 L1268.9 685.0 L1268.9 686.2 L1269.0 687.4 L1269.0 688.6 L1269.0 689.9 L1269.0 691.1 L1269.0 692.3 L1269.0 693.5 L1269.0 694.7 L1269.1 695.9 L1269.1 697.1 L1269.1 698.3 L1269.1 699.5 L1269.1 700.7 L1269.1 701.9 L1269.1 703.1 L1269.2 704.3 L1269.2 705.5 L1269.2 706.7 L1269.2 707.9 L1269.2 709.1 L1269.2 710.3 L1269.3 711.5 L1269.3 712.7 L1269.3 713.9 L1269.3 715.1 L1269.3 716.3 L1269.4 717.5 L1269.4 718.7 L1269.4 719.9 L1269.4 721.1 L1269.4 722.3 L1269.4 723.5 L1269.5 724.7 L1269.5 725.9 L1269.5 727.1 L1269.5 728.3 L1269.5 729.5 L1269.6 730.7 L1269.6 731.9 L1269.6 733.1 L1269.6 734.3 L1269.7 735.5 L1269.7 736.8 L1269.7 738.0 L1269.7 739.2 L1269.7 740.4 L1269.8 741.6 L1269.8 742.8 L1269.8 744.0 L1269.9 745.2 L1269.9 746.4 L1269.9 747.6 L1270.0 748.8 L1270.0 750.0 L1270.0 751.2 L1270.1 752.4 L1270.1 753.6 L1270.2 754.8 L1270.2 756.0 L1270.2 757.2 L1270.3 758.4 L1270.3 759.6 L1270.4 760.8 L1270.4 762.0 L1270.5 763.2 L1270.5 764.4 L1270.6 765.6 L1270.6 766.8 L1270.7 768.0 L1270.7 769.2 L1270.8 770.4 L1270.8 771.6 L1270.8 772.8 L1270.9 774.0 L1270.9 775.2 L1271.0 776.4 L1271.0 777.6 L1271.1 778.8 L1271.1 780.0 L1271.2 781.2 L1271.2 782.4 L1271.3 783.6 L1271.3 784.8 L1271.4 786.0 L1271.4 787.2 L1271.5 788.4 L1271.5 789.6 L1271.6 790.8 L1271.6 792.0 L1271.6 793.2 L1271.7 794.5 L1271.7 795.7 L1271.8 796.9 L1271.8 798.1 L1271.8 799.3 L1271.9 800.5 L1271.9 801.7 L1272.0 802.9 L1272.0 804.1 L1272.0 805.3 L1272.1 806.5 L1272.1 807.7 L1272.2 808.9 L1272.2 810.1 L1272.2 811.3 L1272.3 812.5 L1272.3 813.7 L1272.3 814.9 L1272.4 816.1 L1272.4 817.3 L1272.5 818.5 L1272.5 819.7 L1272.5 820.9 L1272.6 822.1 L1272.6 823.3 L1272.6 824.5 L1272.7 825.7 L1272.7 826.9 L1272.8 828.1 L1272.8 829.3 L1272.8 830.5 L1272.9 831.7 L1272.9 832.9 L1272.9 834.1 L1273.0 835.3 L1273.0 836.5 L1273.1 837.7 L1273.1 838.9 L1273.1 840.1 L1273.2 841.3 L1273.2 842.5 L1273.3 843.7 L1273.3 844.9 L1273.3 846.1 L1273.4 847.3 L1273.4 848.6 L1273.5 849.8 L1273.5 851.0 L1273.5 852.2 L1273.6 853.4 L1273.6 854.6 L1273.6 855.8 L1273.7 857.0 L1273.7 858.2 L1273.7 859.4 L1273.8 860.6 L1273.8 861.8 L1273.9 863.0 L1273.9 864.2 L1273.9 865.4 L1274.0 866.6 L1274.0 867.8 L1274.0 869.0 L1274.1 870.2 L1274.1 871.4 L1274.2 872.6 L1274.2 873.8 L1274.3 875.0 L1274.3 876.2 L1274.4 877.4 L1274.4 878.6 L1274.5 879.8 L1274.5 881.1 L1274.6 882.5 L1274.7 884.1 L1274.8 885.7 L1274.8 887.2 L1274.9 888.8 L1275.0 890.1 L1275.1 891.4 L1275.2 892.3 L1275.3 893.0 L1275.4 893.3"/>
<path stroke-width="4.8" stroke-dasharray="0.01 13.0" d="M1339.5 150.0 L1339.5 380.0"/>
<path stroke-width="4.8" stroke-dasharray="0.01 6.0" d="M1339.5 380.0 L1339.5 873.3"/>
<path stroke-width="4.8" stroke-dasharray="0.01 5.0" d="M1339.9 380.0 L1339.9 381.2 L1339.9 382.4 L1339.9 383.6 L1339.9 384.8 L1339.9 386.0 L1339.9 387.2 L1339.9 388.4 L1339.9 389.6 L1339.9 390.8 L1339.9 392.0 L1339.9 393.2 L1339.9 394.4 L1339.9 395.6 L1340.0 396.8 L1340.0 398.0 L1340.0 399.2 L1340.0 400.4 L1340.0 401.6 L1340.0 402.8 L1340.0 404.0 L1340.0 405.2 L1340.0 406.4 L1340.0 407.6 L1340.0 408.8 L1340.0 410.0 L1340.0 411.2 L1340.0 412.5 L1340.0 413.7 L1340.0 414.9 L1340.0 416.1 L1340.0 417.3 L1340.0 418.5 L1340.0 419.7 L1340.0 420.9 L1340.1 422.1 L1340.1 423.3 L1340.1 424.5 L1340.1 425.7 L1340.1 426.9 L1340.1 428.1 L1340.1 429.3 L1340.1 430.5 L1340.1 431.7 L1340.1 432.9 L1340.1 434.1 L1340.1 435.3 L1340.1 436.5 L1340.1 437.7 L1340.1 438.9 L1340.1 440.1 L1340.1 441.3 L1340.2 442.5 L1340.2 443.7 L1340.2 444.9 L1340.2 446.1 L1340.2 447.3 L1340.2 448.5 L1340.2 449.7 L1340.2 450.9 L1340.2 452.1 L1340.2 453.3 L1340.2 454.5 L1340.2 455.7 L1340.2 456.9 L1340.2 458.1 L1340.3 459.3 L1340.3 460.5 L1340.3 461.7 L1340.3 462.9 L1340.3 464.1 L1340.3 465.3 L1340.3 466.5 L1340.3 467.7 L1340.3 468.9 L1340.3 470.1 L1340.3 471.3 L1340.3 472.5 L1340.3 473.7 L1340.3 474.9 L1340.4 476.2 L1340.4 477.4 L1340.4 478.6 L1340.4 479.8 L1340.4 481.0 L1340.4 482.2 L1340.4 483.4 L1340.4 484.6 L1340.4 485.8 L1340.4 487.0 L1340.4 488.2 L1340.4 489.4 L1340.5 490.6 L1340.5 491.8 L1340.5 493.0 L1340.5 494.2 L1340.5 495.4 L1340.5 496.6 L1340.5 497.8 L1340.5 499.0 L1340.5 500.2 L1340.5 501.4 L1340.5 502.6 L1340.5 503.8 L1340.6 505.0 L1340.6 506.2 L1340.6 507.4 L1340.6 508.6 L1340.6 509.8 L1340.6 511.0 L1340.6 512.2 L1340.6 513.4 L1340.6 514.6 L1340.6 515.8 L1340.6 517.0 L1340.7 518.2 L1340.7 519.4 L1340.7 520.6 L1340.7 521.8 L1340.7 523.0 L1340.7 524.2 L1340.7 525.4 L1340.7 526.6 L1340.7 527.8 L1340.7 529.0 L1340.7 530.2 L1340.8 531.4 L1340.8 532.6 L1340.8 533.8 L1340.8 535.0 L1340.8 536.2 L1340.8 537.4 L1340.8 538.6 L1340.8 539.9 L1340.8 541.1 L1340.8 542.3 L1340.8 543.5 L1340.9 544.7 L1340.9 545.9 L1340.9 547.1 L1340.9 548.3 L1340.9 549.5 L1340.9 550.7 L1340.9 551.9 L1340.9 553.1 L1340.9 554.3 L1340.9 555.5 L1341.0 556.7 L1341.0 557.9 L1341.0 559.1 L1341.0 560.3 L1341.0 561.5 L1341.0 562.7 L1341.0 563.9 L1341.0 565.1 L1341.0 566.3 L1341.0 567.5 L1341.1 568.7 L1341.1 569.9 L1341.1 571.1 L1341.1 572.3 L1341.1 573.5 L1341.1 574.7 L1341.1 575.9 L1341.1 577.1 L1341.1 578.3 L1341.2 579.5 L1341.2 580.7 L1341.2 581.9 L1341.2 583.1 L1341.2 584.3 L1341.2 585.5 L1341.2 586.7 L1341.2 587.9 L1341.2 589.1 L1341.3 590.3 L1341.3 591.5 L1341.3 592.7 L1341.3 593.9 L1341.3 595.1 L1341.3 596.3 L1341.3 597.5 L1341.3 598.7 L1341.3 599.9 L1341.4 601.1 L1341.4 602.3 L1341.4 603.5 L1341.4 604.8 L1341.4 606.0 L1341.4 607.2 L1341.4 608.4 L1341.4 609.6 L1341.5 610.8 L1341.5 612.0 L1341.5 613.2 L1341.5 614.4 L1341.5 615.6 L1341.5 616.8 L1341.5 618.0 L1341.5 619.2 L1341.6 620.4 L1341.6 621.6 L1341.6 622.8 L1341.6 624.0 L1341.6 625.2 L1341.6 626.4 L1341.6 627.6 L1341.7 628.8 L1341.7 630.0 L1341.7 631.2 L1341.7 632.4 L1341.7 633.6 L1341.7 634.8 L1341.7 636.0 L1341.8 637.2 L1341.8 638.4 L1341.8 639.6 L1341.8 640.8 L1341.8 642.0 L1341.8 643.2 L1341.8 644.4 L1341.9 645.6 L1341.9 646.8 L1341.9 648.0 L1341.9 649.2 L1341.9 650.4 L1341.9 651.6 L1341.9 652.8 L1342.0 654.0 L1342.0 655.2 L1342.0 656.4 L1342.0 657.6 L1342.0 658.8 L1342.0 660.0 L1342.1 661.2 L1342.1 662.4 L1342.1 663.6 L1342.1 664.8 L1342.1 666.0 L1342.1 667.2 L1342.2 668.4 L1342.2 669.7 L1342.2 670.9 L1342.2 672.1 L1342.2 673.3 L1342.2 674.5 L1342.3 675.7 L1342.3 676.9 L1342.3 678.1 L1342.3 679.3 L1342.3 680.5 L1342.3 681.7 L1342.4 682.9 L1342.4 684.1 L1342.4 685.3 L1342.4 686.5 L1342.4 687.7 L1342.5 688.9 L1342.5 690.1 L1342.5 691.3 L1342.5 692.5 L1342.5 693.7 L1342.5 694.9 L1342.6 696.1 L1342.6 697.3 L1342.6 698.5 L1342.6 699.7 L1342.6 700.9 L1342.7 702.1 L1342.7 703.3 L1342.7 704.5 L1342.7 705.7 L1342.7 706.9 L1342.8 708.1 L1342.8 709.3 L1342.8 710.5 L1342.8 711.7 L1342.8 712.9 L1342.9 714.1 L1342.9 715.3 L1342.9 716.5 L1342.9 717.7 L1342.9 718.9 L1343.0 720.1 L1343.0 721.3 L1343.0 722.5 L1343.0 723.7 L1343.1 724.9 L1343.1 726.1 L1343.1 727.3 L1343.1 728.5 L1343.1 729.7 L1343.2 730.9 L1343.2 732.1 L1343.2 733.3 L1343.2 734.5 L1343.3 735.7 L1343.3 736.9 L1343.3 738.1 L1343.3 739.3 L1343.4 740.6 L1343.4 741.8 L1343.4 743.0 L1343.4 744.2 L1343.5 745.4 L1343.5 746.6 L1343.5 747.8 L1343.5 749.0 L1343.6 750.2 L1343.6 751.4 L1343.6 752.6 L1343.7 753.8 L1343.7 755.0 L1343.7 756.2 L1343.8 757.4 L1343.8 758.6 L1343.9 759.8 L1343.9 761.0 L1343.9 762.2 L1344.0 763.4 L1344.0 764.6 L1344.0 765.8 L1344.1 767.0 L1344.1 768.2 L1344.2 769.4 L1344.2 770.6 L1344.2 771.8 L1344.3 773.0 L1344.3 774.2 L1344.4 775.4 L1344.4 776.6 L1344.4 777.8 L1344.5 779.0 L1344.5 780.2 L1344.6 781.4 L1344.6 782.6 L1344.6 783.8 L1344.7 785.0 L1344.7 786.2 L1344.8 787.4 L1344.8 788.6 L1344.8 789.8 L1344.9 791.0 L1344.9 792.2 L1344.9 793.4 L1345.0 794.6 L1345.0 795.8 L1345.1 797.0 L1345.1 798.2 L1345.1 799.4 L1345.2 800.6 L1345.2 801.8 L1345.2 803.0 L1345.3 804.2 L1345.3 805.4 L1345.4 806.6 L1345.4 807.8 L1345.4 809.0 L1345.5 810.2 L1345.5 811.4 L1345.5 812.6 L1345.6 813.8 L1345.6 815.0 L1345.6 816.2 L1345.7 817.4 L1345.7 818.6 L1345.8 819.8 L1345.8 821.0 L1345.8 822.2 L1345.9 823.4 L1345.9 824.6 L1346.0 825.8 L1346.0 827.1 L1346.0 828.3 L1346.1 829.5 L1346.1 830.7 L1346.2 831.9 L1346.2 833.1 L1346.3 834.3 L1346.3 835.5 L1346.3 836.7 L1346.4 837.9 L1346.4 839.1 L1346.5 840.3 L1346.5 841.5 L1346.6 842.7 L1346.6 843.9 L1346.7 845.1 L1346.8 846.3 L1346.8 847.5 L1346.9 848.7 L1346.9 849.9 L1347.0 851.1 L1347.1 852.3 L1347.1 853.5 L1347.2 854.7 L1347.3 855.9 L1347.4 857.1 L1347.5 858.3 L1347.6 859.5 L1347.7 860.7 L1347.8 862.3 L1348.0 863.8 L1348.2 864.8 L1348.4 865.0"/>
<path stroke-width="4.8" stroke-dasharray="0.01 13.0" d="M1408.3 150.0 L1408.3 190.0"/>
<path stroke-width="4.8" stroke-dasharray="0.01 6.0" d="M1408.3 190.0 L1408.3 841.7"/>
<path stroke-width="4.8" stroke-dasharray="0.01 5.0" d="M1408.8 190.0 L1408.8 191.2 L1408.8 192.4 L1408.8 193.6 L1408.8 194.8 L1408.8 196.0 L1408.8 197.2 L1408.8 198.4 L1408.8 199.6 L1408.8 200.8 L1408.8 202.0 L1408.8 203.2 L1408.8 204.4 L1408.8 205.6 L1408.8 206.8 L1408.8 208.0 L1408.8 209.2 L1408.8 210.4 L1408.8 211.6 L1408.8 212.8 L1408.8 214.0 L1408.8 215.2 L1408.8 216.4 L1408.8 217.6 L1408.8 218.8 L1408.8 220.0 L1408.8 221.3 L1408.8 222.5 L1408.8 223.7 L1408.8 224.9 L1408.8 226.1 L1408.8 227.3 L1408.8 228.5 L1408.8 229.7 L1408.8 230.9 L1408.8 232.1 L1408.8 233.3 L1408.8 234.5 L1408.8 235.7 L1408.8 236.9 L1408.8 238.1 L1408.8 239.3 L1408.8 240.5 L1408.9 241.7 L1408.9 242.9 L1408.9 244.1 L1408.9 245.3 L1408.9 246.5 L1408.9 247.7 L1408.9 248.9 L1408.9 250.1 L1408.9 251.3 L1408.9 252.5 L1408.9 253.7 L1408.9 254.9 L1408.9 256.1 L1408.9 257.3 L1408.9 258.5 L1408.9 259.7 L1408.9 260.9 L1408.9 262.1 L1408.9 263.3 L1408.9 264.5 L1408.9 265.7 L1408.9 266.9 L1408.9 268.1 L1408.9 269.3 L1408.9 270.5 L1408.9 271.7 L1408.9 272.9 L1408.9 274.1 L1408.9 275.3 L1408.9 276.5 L1408.9 277.7 L1408.9 278.9 L1408.9 280.1 L1409.0 281.3 L1409.0 282.5 L1409.0 283.8 L1409.0 285.0 L1409.0 286.2 L1409.0 287.4 L1409.0 288.6 L1409.0 289.8 L1409.0 291.0 L1409.0 292.2 L1409.0 293.4 L1409.0 294.6 L1409.0 295.8 L1409.0 297.0 L1409.0 298.2 L1409.0 299.4 L1409.0 300.6 L1409.0 301.8 L1409.0 303.0 L1409.0 304.2 L1409.0 305.4 L1409.0 306.6 L1409.0 307.8 L1409.1 309.0 L1409.1 310.2 L1409.1 311.4 L1409.1 312.6 L1409.1 313.8 L1409.1 315.0 L1409.1 316.2 L1409.1 317.4 L1409.1 318.6 L1409.1 319.8 L1409.1 321.0 L1409.1 322.2 L1409.1 323.4 L1409.1 324.6 L1409.1 325.8 L1409.1 327.0 L1409.1 328.2 L1409.1 329.4 L1409.1 330.6 L1409.2 331.8 L1409.2 333.0 L1409.2 334.2 L1409.2 335.4 L1409.2 336.6 L1409.2 337.8 L1409.2 339.0 L1409.2 340.2 L1409.2 341.4 L1409.2 342.6 L1409.2 343.8 L1409.2 345.0 L1409.2 346.2 L1409.2 347.5 L1409.2 348.7 L1409.2 349.9 L1409.2 351.1 L1409.3 352.3 L1409.3 353.5 L1409.3 354.7 L1409.3 355.9 L1409.3 357.1 L1409.3 358.3 L1409.3 359.5 L1409.3 360.7 L1409.3 361.9 L1409.3 363.1 L1409.3 364.3 L1409.3 365.5 L1409.3 366.7 L1409.3 367.9 L1409.3 369.1 L1409.4 370.3 L1409.4 371.5 L1409.4 372.7 L1409.4 373.9 L1409.4 375.1 L1409.4 376.3 L1409.4 377.5 L1409.4 378.7 L1409.4 379.9 L1409.4 381.1 L1409.4 382.3 L1409.4 383.5 L1409.4 384.7 L1409.4 385.9 L1409.4 387.1 L1409.5 388.3 L1409.5 389.5 L1409.5 390.7 L1409.5 391.9 L1409.5 393.1 L1409.5 394.3 L1409.5 395.5 L1409.5 396.7 L1409.5 397.9 L1409.5 399.1 L1409.5 400.3 L1409.5 401.5 L1409.5 402.7 L1409.5 403.9 L1409.6 405.1 L1409.6 406.3 L1409.6 407.5 L1409.6 408.7 L1409.6 409.9 L1409.6 411.2 L1409.6 412.4 L1409.6 413.6 L1409.6 414.8 L1409.6 416.0 L1409.6 417.2 L1409.6 418.4 L1409.6 419.6 L1409.7 420.8 L1409.7 422.0 L1409.7 423.2 L1409.7 424.4 L1409.7 425.6 L1409.7 426.8 L1409.7 428.0 L1409.7 429.2 L1409.7 430.4 L1409.7 431.6 L1409.7 432.8 L1409.7 434.0 L1409.8 435.2 L1409.8 436.4 L1409.8 437.6 L1409.8 438.8 L1409.8 440.0 L1409.8 441.2 L1409.8 442.4 L1409.8 443.6 L1409.8 444.8 L1409.8 446.0 L1409.8 447.2 L1409.8 448.4 L1409.9 449.6 L1409.9 450.8 L1409.9 452.0 L1409.9 453.2 L1409.9 454.4 L1409.9 455.6 L1409.9 456.8 L1409.9 458.0 L1409.9 459.2 L1409.9 460.4 L1409.9 461.6 L1409.9 462.8 L1410.0 464.0 L1410.0 465.2 L1410.0 466.4 L1410.0 467.6 L1410.0 468.8 L1410.0 470.0 L1410.0 471.2 L1410.0 472.4 L1410.0 473.6 L1410.0 474.8 L1410.0 476.1 L1410.0 477.3 L1410.1 478.5 L1410.1 479.7 L1410.1 480.9 L1410.1 482.1 L1410.1 483.3 L1410.1 484.5 L1410.1 485.7 L1410.1 486.9 L1410.1 488.1 L1410.1 489.3 L1410.1 490.5 L1410.2 491.7 L1410.2 492.9 L1410.2 494.1 L1410.2 495.3 L1410.2 496.5 L1410.2 497.7 L1410.2 498.9 L1410.2 500.1 L1410.2 501.3 L1410.2 502.5 L1410.2 503.7 L1410.3 504.9 L1410.3 506.1 L1410.3 507.3 L1410.3 508.5 L1410.3 509.7 L1410.3 510.9 L1410.3 512.1 L1410.3 513.3 L1410.3 514.5 L1410.3 515.7 L1410.3 516.9 L1410.4 518.1 L1410.4 519.3 L1410.4 520.5 L1410.4 521.7 L1410.4 522.9 L1410.4 524.1 L1410.4 525.3 L1410.4 526.5 L1410.4 527.7 L1410.4 528.9 L1410.4 530.1 L1410.5 531.3 L1410.5 532.5 L1410.5 533.7 L1410.5 534.9 L1410.5 536.1 L1410.5 537.3 L1410.5 538.5 L1410.5 539.7 L1410.5 541.0 L1410.5 542.2 L1410.5 543.4 L1410.6 544.6 L1410.6 545.8 L1410.6 547.0 L1410.6 548.2 L1410.6 549.4 L1410.6 550.6 L1410.6 551.8 L1410.6 553.0 L1410.6 554.2 L1410.6 555.4 L1410.7 556.6 L1410.7 557.8 L1410.7 559.0 L1410.7 560.2 L1410.7 561.4 L1410.7 562.6 L1410.7 563.8 L1410.7 565.0 L1410.7 566.2 L1410.7 567.4 L1410.8 568.6 L1410.8 569.8 L1410.8 571.0 L1410.8 572.2 L1410.8 573.4 L1410.8 574.6 L1410.8 575.8 L1410.8 577.0 L1410.8 578.2 L1410.9 579.4 L1410.9 580.6 L1410.9 581.8 L1410.9 583.0 L1410.9 584.2 L1410.9 585.4 L1410.9 586.6 L1410.9 587.8 L1411.0 589.0 L1411.0 590.2 L1411.0 591.4 L1411.0 592.6 L1411.0 593.8 L1411.0 595.0 L1411.0 596.2 L1411.1 597.4 L1411.1 598.6 L1411.1 599.8 L1411.1 601.0 L1411.1 602.2 L1411.1 603.4 L1411.1 604.6 L1411.1 605.8 L1411.2 607.1 L1411.2 608.3 L1411.2 609.5 L1411.2 610.7 L1411.2 611.9 L1411.2 613.1 L1411.3 614.3 L1411.3 615.5 L1411.3 616.7 L1411.3 617.9 L1411.3 619.1 L1411.3 620.3 L1411.3 621.5 L1411.4 622.7 L1411.4 623.9 L1411.4 625.1 L1411.4 626.3 L1411.4 627.5 L1411.4 628.7 L1411.5 629.9 L1411.5 631.1 L1411.5 632.3 L1411.5 633.5 L1411.5 634.7 L1411.5 635.9 L1411.6 637.1 L1411.6 638.3 L1411.6 639.5 L1411.6 640.7 L1411.6 641.9 L1411.6 643.1 L1411.7 644.3 L1411.7 645.5 L1411.7 646.7 L1411.7 647.9 L1411.7 649.1 L1411.7 650.3 L1411.8 651.5 L1411.8 652.7 L1411.8 653.9 L1411.8 655.1 L1411.8 656.3 L1411.9 657.5 L1411.9 658.7 L1411.9 659.9 L1411.9 661.1 L1411.9 662.3 L1411.9 663.5 L1412.0 664.7 L1412.0 665.9 L1412.0 667.1 L1412.0 668.3 L1412.0 669.5 L1412.1 670.7 L1412.1 671.9 L1412.1 673.2 L1412.1 674.4 L1412.1 675.6 L1412.2 676.8 L1412.2 678.0 L1412.2 679.2 L1412.2 680.4 L1412.2 681.6 L1412.3 682.8 L1412.3 684.0 L1412.3 685.2 L1412.3 686.4 L1412.3 687.6 L1412.4 688.8 L1412.4 690.0 L1412.4 691.2 L1412.4 692.4 L1412.5 693.6 L1412.5 694.8 L1412.5 696.0 L1412.5 697.2 L1412.5 698.4 L1412.6 699.6 L1412.6 700.8 L1412.6 702.0 L1412.6 703.2 L1412.6 704.4 L1412.7 705.6 L1412.7 706.8 L1412.7 708.0 L1412.7 709.2 L1412.8 710.4 L1412.8 711.6 L1412.8 712.8 L1412.8 714.0 L1412.8 715.2 L1412.9 716.4 L1412.9 717.6 L1412.9 718.8 L1412.9 720.0 L1413.0 721.2 L1413.0 722.4 L1413.0 723.6 L1413.0 724.8 L1413.1 726.0 L1413.1 727.2 L1413.1 728.4 L1413.1 729.6 L1413.2 730.8 L1413.2 732.0 L1413.2 733.2 L1413.2 734.4 L1413.3 735.6 L1413.3 736.8 L1413.3 738.0 L1413.3 739.2 L1413.4 740.4 L1413.4 741.6 L1413.4 742.8 L1413.4 744.0 L1413.5 745.3 L1413.5 746.5 L1413.5 747.7 L1413.6 748.9 L1413.6 750.1 L1413.6 751.3 L1413.6 752.5 L1413.7 753.7 L1413.7 754.9 L1413.7 756.1 L1413.8 757.3 L1413.8 758.5 L1413.8 759.7 L1413.9 760.9 L1413.9 762.1 L1414.0 763.3 L1414.0 764.5 L1414.0 765.7 L1414.1 766.9 L1414.1 768.1 L1414.1 769.3 L1414.2 770.5 L1414.2 771.7 L1414.3 772.9 L1414.3 774.1 L1414.3 775.3 L1414.4 776.5 L1414.4 777.7 L1414.4 778.9 L1414.5 780.1 L1414.5 781.3 L1414.6 782.5 L1414.6 783.7 L1414.6 784.9 L1414.7 786.1 L1414.7 787.3 L1414.8 788.5 L1414.8 789.7 L1414.8 790.9 L1414.9 792.1 L1414.9 793.3 L1414.9 794.5 L1415.0 795.7 L1415.0 796.9 L1415.1 798.1 L1415.1 799.3 L1415.1 800.5 L1415.2 801.7 L1415.2 802.9 L1415.3 804.1 L1415.3 805.3 L1415.4 806.5 L1415.4 807.7 L1415.5 808.9 L1415.5 810.1 L1415.6 811.3 L1415.6 812.5 L1415.7 814.0 L1415.8 815.5 L1415.8 817.1 L1415.9 818.6 L1416.0 820.1 L1416.1 821.2 L1416.2 822.1 L1416.3 822.5"/>
<path stroke-width="4.8" stroke-dasharray="0.01 10.5" d="M1472.8 150.0 L1472.8 740.0"/>
<path stroke-width="4.8" stroke-dasharray="0.01 5.0" d="M1472.8 742.0 L1472.8 796.0"/>
<path stroke-width="4.8" stroke-dasharray="0.01 30.0" d="M1475.4 130.0 L1475.4 132.0 L1475.4 134.0 L1475.4 136.0 L1475.4 138.0 L1475.4 140.1 L1475.4 142.1 L1475.4 144.1 L1475.4 146.1 L1475.4 148.1 L1475.4 150.1 L1475.4 152.1 L1475.4 154.1 L1475.4 156.1 L1475.4 158.1 L1475.4 160.2 L1475.4 162.2 L1475.4 164.2 L1475.4 166.2 L1475.4 168.2 L1475.4 170.2 L1475.4 172.2 L1475.4 174.2 L1475.4 176.2 L1475.4 178.2 L1475.4 180.3 L1475.4 182.3 L1475.5 184.3 L1475.5 186.3 L1475.5 188.3 L1475.5 190.3 L1475.5 192.3 L1475.5 194.3 L1475.5 196.3 L1475.5 198.3 L1475.5 200.4 L1475.5 202.4 L1475.5 204.4 L1475.5 206.4 L1475.5 208.4 L1475.5 210.4 L1475.5 212.4 L1475.5 214.4 L1475.5 216.4 L1475.5 218.4 L1475.5 220.5 L1475.5 222.5 L1475.5 224.5 L1475.6 226.5 L1475.6 228.5 L1475.6 230.5 L1475.6 232.5 L1475.6 234.5 L1475.6 236.5 L1475.6 238.5 L1475.6 240.5 L1475.6 242.6 L1475.6 244.6 L1475.6 246.6 L1475.6 248.6 L1475.6 250.6 L1475.6 252.6 L1475.6 254.6 L1475.7 256.6 L1475.7 258.6 L1475.7 260.6 L1475.7 262.7 L1475.7 264.7 L1475.7 266.7 L1475.7 268.7 L1475.7 270.7 L1475.7 272.7 L1475.7 274.7 L1475.7 276.7 L1475.7 278.7 L1475.7 280.7 L1475.8 282.8 L1475.8 284.8 L1475.8 286.8 L1475.8 288.8 L1475.8 290.8 L1475.8 292.8 L1475.8 294.8 L1475.8 296.8 L1475.8 298.8 L1475.8 300.8 L1475.8 302.9 L1475.8 304.9 L1475.9 306.9 L1475.9 308.9 L1475.9 310.9 L1475.9 312.9 L1475.9 314.9 L1475.9 316.9 L1475.9 318.9 L1475.9 320.9 L1475.9 323.0 L1475.9 325.0 L1475.9 327.0 L1475.9 329.0 L1476.0 331.0 L1476.0 333.0 L1476.0 335.0 L1476.0 337.0 L1476.0 339.0 L1476.0 341.0 L1476.0 343.1 L1476.0 345.1 L1476.0 347.1 L1476.0 349.1 L1476.1 351.1 L1476.1 353.1 L1476.1 355.1 L1476.1 357.1 L1476.1 359.1 L1476.1 361.1 L1476.1 363.2 L1476.2 365.2 L1476.2 367.2 L1476.2 369.2 L1476.2 371.2 L1476.2 373.2 L1476.2 375.2 L1476.3 377.2 L1476.3 379.2 L1476.3 381.2 L1476.3 383.3 L1476.3 385.3 L1476.3 387.3 L1476.4 389.3 L1476.4 391.3 L1476.4 393.3 L1476.4 395.3 L1476.4 397.3 L1476.5 399.3 L1476.5 401.3 L1476.5 403.4 L1476.5 405.4 L1476.6 407.4 L1476.6 409.4 L1476.6 411.4 L1476.6 413.4 L1476.6 415.4 L1476.7 417.4 L1476.7 419.4 L1476.7 421.4 L1476.7 423.5 L1476.8 425.5 L1476.8 427.5 L1476.8 429.5 L1476.8 431.5 L1476.9 433.5 L1476.9 435.5 L1476.9 437.5 L1476.9 439.5 L1477.0 441.5 L1477.0 443.5 L1477.0 445.6 L1477.1 447.6 L1477.1 449.6 L1477.1 451.6 L1477.1 453.6 L1477.2 455.6 L1477.2 457.6 L1477.2 459.6 L1477.2 461.6 L1477.3 463.6 L1477.3 465.7 L1477.3 467.7 L1477.4 469.7 L1477.4 471.7 L1477.4 473.7 L1477.4 475.7 L1477.5 477.7 L1477.5 479.7 L1477.5 481.7 L1477.5 483.7 L1477.6 485.8 L1477.6 487.8 L1477.6 489.8 L1477.7 491.8 L1477.7 493.8 L1477.7 495.8 L1477.7 497.8 L1477.8 499.8 L1477.8 501.8 L1477.8 503.8 L1477.9 505.9 L1477.9 507.9 L1477.9 509.9 L1477.9 511.9 L1478.0 513.9 L1478.0 515.9 L1478.0 517.9 L1478.0 519.9 L1478.1 521.9 L1478.1 523.9 L1478.1 526.0 L1478.1 528.0 L1478.2 530.0 L1478.2 532.0 L1478.2 534.0 L1478.3 536.0 L1478.3 538.0"/>
<path stroke-width="4.8" stroke-dasharray="0.01 8.0" d="M1478.3 540.0 L1478.3 542.0 L1478.4 544.0 L1478.4 546.1 L1478.4 548.1 L1478.4 550.1 L1478.5 552.1 L1478.5 554.1 L1478.5 556.1 L1478.5 558.1 L1478.6 560.1 L1478.6 562.1 L1478.6 564.1 L1478.6 566.1 L1478.7 568.2 L1478.7 570.2 L1478.7 572.2 L1478.7 574.2 L1478.8 576.2 L1478.8 578.2 L1478.8 580.2 L1478.8 582.2 L1478.9 584.2 L1478.9 586.2 L1478.9 588.3 L1478.9 590.3 L1479.0 592.3 L1479.0 594.3 L1479.0 596.3 L1479.0 598.3 L1479.1 600.3 L1479.1 602.3 L1479.1 604.3 L1479.1 606.3 L1479.2 608.4 L1479.2 610.4 L1479.2 612.4 L1479.3 614.4 L1479.3 616.4 L1479.3 618.4 L1479.3 620.4 L1479.4 622.4 L1479.4 624.4 L1479.4 626.4 L1479.4 628.5 L1479.5 630.5 L1479.5 632.5 L1479.5 634.5 L1479.5 636.5 L1479.6 638.5 L1479.6 640.5 L1479.6 642.5 L1479.7 644.5 L1479.7 646.5 L1479.7 648.6 L1479.7 650.6 L1479.8 652.6 L1479.8 654.6 L1479.8 656.6 L1479.8 658.6 L1479.9 660.6 L1479.9 662.6 L1479.9 664.6 L1480.0 666.6 L1480.0 668.6 L1480.0 670.7 L1480.0 672.7 L1480.1 674.7 L1480.1 676.7 L1480.1 678.7 L1480.1 680.7 L1480.2 682.7 L1480.2 684.7 L1480.2 686.7 L1480.3 688.7 L1480.3 690.8 L1480.3 692.8 L1480.3 694.8 L1480.4 696.8 L1480.4 698.8 L1480.4 700.8 L1480.5 702.8 L1480.5 704.8 L1480.5 706.8 L1480.5 708.8 L1480.6 710.9 L1480.6 712.9 L1480.6 714.9 L1480.7 716.9 L1480.7 718.9 L1480.7 720.9 L1480.7 722.9 L1480.8 724.9 L1480.8 726.9 L1480.8 728.9 L1480.9 731.0 L1480.9 733.0 L1480.9 735.0 L1480.9 737.0 L1481.0 739.0 L1481.0 741.0"/>
<path stroke-width="4.8" stroke-dasharray="0.01 5.3" d="M1481.3 741.0 L1481.4 739.0 L1481.5 737.0 L1481.6 735.0 L1481.8 733.0 L1481.9 731.0 L1482.0 729.0 L1482.1 726.9 L1482.2 724.9 L1482.3 722.9 L1482.5 720.9 L1482.6 718.9 L1482.7 716.9 L1482.8 714.9 L1482.9 712.9 L1482.9 710.9 L1483.0 708.9 L1483.1 706.9 L1483.2 704.9 L1483.2 702.9 L1483.3 700.8 L1483.3 698.8 L1483.4 696.8 L1483.4 694.8 L1483.4 692.8 L1483.5 690.8 L1483.5 688.8 L1483.6 686.8 L1483.6 684.8 L1483.6 682.8 L1483.7 680.8 L1483.7 678.7 L1483.7 676.7 L1483.8 674.7 L1483.8 672.7 L1483.8 670.7 L1483.9 668.7 L1483.9 666.7 L1483.9 664.7 L1483.9 662.7 L1484.0 660.7 L1484.0 658.6 L1484.0 656.6 L1484.0 654.6 L1484.1 652.6 L1484.1 650.6 L1484.1 648.6 L1484.1 646.6 L1484.2 644.6 L1484.2 642.6 L1484.2 640.6 L1484.2 638.5 L1484.2 636.5 L1484.3 634.5 L1484.3 632.5 L1484.3 630.5 L1484.3 628.5 L1484.3 626.5 L1484.4 624.5 L1484.4 622.5 L1484.4 620.5 L1484.4 618.4 L1484.4 616.4 L1484.4 614.4 L1484.5 612.4 L1484.5 610.4 L1484.5 608.4 L1484.5 606.4 L1484.5 604.4 L1484.5 602.4 L1484.6 600.3 L1484.6 598.3 L1484.6 596.3 L1484.6 594.3 L1484.6 592.3 L1484.6 590.3 L1484.7 588.3 L1484.7 586.3 L1484.7 584.3 L1484.7 582.2 L1484.7 580.2 L1484.8 578.2 L1484.8 576.2 L1484.8 574.2 L1484.8 572.2 L1484.8 570.2 L1484.9 568.2 L1484.9 566.2 L1484.9 564.2 L1484.9 562.1 L1484.9 560.1 L1485.0 558.1 L1485.0 556.1 L1485.0 554.1 L1485.0 552.1 L1485.1 550.1 L1485.1 548.1 L1485.1 546.1 L1485.1 544.1 L1485.2 542.0 L1485.2 540.0 L1485.2 538.0 L1485.3 536.0 L1485.3 534.0 L1485.3 532.0 L1485.4 530.0 L1485.4 528.0 L1485.4 526.0 L1485.4 524.0 L1485.5 521.9 L1485.5 519.9 L1485.5 517.9 L1485.6 515.9 L1485.6 513.9 L1485.6 511.9 L1485.7 509.9 L1485.7 507.9 L1485.8 505.9 L1485.8 503.9 L1485.8 501.8 L1485.9 499.8 L1485.9 497.8 L1485.9 495.8 L1486.0 493.8 L1486.0 491.8 L1486.0 489.8 L1486.1 487.8 L1486.1 485.8 L1486.2 483.8 L1486.2 481.7 L1486.2 479.7 L1486.3 477.7 L1486.3 475.7 L1486.4 473.7 L1486.4 471.7 L1486.4 469.7 L1486.5 467.7 L1486.5 465.7 L1486.6 463.7 L1486.6 461.6 L1486.6 459.6 L1486.7 457.6 L1486.7 455.6 L1486.8 453.6 L1486.8 451.6 L1486.8 449.6 L1486.9 447.6 L1486.9 445.6 L1487.0 443.6 L1487.0 441.5 L1487.0 439.5 L1487.1 437.5 L1487.1 435.5 L1487.2 433.5 L1487.2 431.5 L1487.3 429.5 L1487.3 427.5 L1487.3 425.5 L1487.4 423.5 L1487.4 421.4 L1487.5 419.4 L1487.5 417.4 L1487.5 415.4 L1487.6 413.4 L1487.6 411.4 L1487.7 409.4 L1487.7 407.4 L1487.8 405.4 L1487.8 403.4 L1487.8 401.3 L1487.9 399.3 L1487.9 397.3 L1488.0 395.3 L1488.0 393.3 L1488.0 391.3 L1488.1 389.3 L1488.1 387.3 L1488.2 385.3 L1488.2 383.3 L1488.2 381.3 L1488.3 379.2 L1488.3 377.2 L1488.4 375.2 L1488.4 373.2 L1488.4 371.2 L1488.5 369.2 L1488.5 367.2 L1488.5 365.2 L1488.6 363.2 L1488.6 361.2 L1488.7 359.1 L1488.7 357.1 L1488.7 355.1 L1488.8 353.1 L1488.8 351.1 L1488.8 349.1 L1488.9 347.1 L1488.9 345.1 L1488.9 343.1 L1489.0 341.1 L1489.0 339.0 L1489.1 337.0 L1489.1 335.0 L1489.1 333.0 L1489.1 331.0 L1489.2 329.0 L1489.2 327.0 L1489.2 325.0 L1489.3 323.0 L1489.3 321.0 L1489.3 318.9 L1489.4 316.9 L1489.4 314.9 L1489.4 312.9 L1489.5 310.9 L1489.5 308.9 L1489.5 306.9 L1489.6 304.9 L1489.6 302.9 L1489.6 300.9 L1489.6 298.8 L1489.7 296.8 L1489.7 294.8 L1489.7 292.8 L1489.8 290.8 L1489.8 288.8 L1489.8 286.8 L1489.9 284.8 L1489.9 282.8 L1489.9 280.8 L1489.9 278.7 L1490.0 276.7 L1490.0 274.7 L1490.0 272.7 L1490.1 270.7 L1490.1 268.7 L1490.1 266.7 L1490.1 264.7 L1490.2 262.7 L1490.2 260.7 L1490.2 258.6 L1490.3 256.6 L1490.3 254.6 L1490.3 252.6 L1490.3 250.6 L1490.4 248.6 L1490.4 246.6 L1490.4 244.6 L1490.4 242.6 L1490.5 240.5 L1490.5 238.5 L1490.5 236.5 L1490.6 234.5 L1490.6 232.5 L1490.6 230.5 L1490.6 228.5 L1490.7 226.5 L1490.7 224.5 L1490.7 222.5 L1490.8 220.4 L1490.8 218.4 L1490.8 216.4 L1490.8 214.4 L1490.9 212.4 L1490.9 210.4 L1490.9 208.4 L1491.0 206.4 L1491.0 204.4 L1491.0 202.4 L1491.1 200.3 L1491.1 198.3 L1491.1 196.3 L1491.1 194.3 L1491.2 192.3 L1491.2 190.3 L1491.2 188.3 L1491.3 186.3 L1491.3 184.3 L1491.3 182.3 L1491.4 180.2 L1491.4 178.2 L1491.4 176.2 L1491.5 174.2 L1491.5 172.2 L1491.5 170.2 L1491.6 168.2 L1491.6 166.2 L1491.6 164.2 L1491.7 162.2 L1491.7 160.1 L1491.7 158.1 L1491.8 156.1 L1491.8 154.1 L1491.9 152.1 L1491.9 150.1 L1491.9 148.1 L1492.0 146.1 L1492.0 144.1 L1492.0 142.1 L1492.1 140.0 L1492.1 138.0 L1492.2 136.0 L1492.2 134.0 L1492.3 132.0 L1492.3 130.0"/>
<path stroke-width="4.8" stroke-dasharray="0.01 3.5" d="M1540.4 430.1 L1540.4 432.1 L1540.4 434.2 L1540.4 436.2 L1540.4 438.2 L1540.4 440.2 L1540.4 442.2 L1540.4 444.2 L1540.4 446.2 L1540.4 448.3 L1540.4 450.3 L1540.5 452.3 L1540.5 454.3 L1540.5 456.3 L1540.5 458.3 L1540.5 460.3 L1540.6 462.4 L1540.6 464.4 L1540.6 466.4 L1540.7 468.4 L1540.7 470.4 L1540.7 472.4 L1540.8 474.4 L1540.8 476.5 L1540.8 478.5 L1540.9 480.5 L1540.9 482.5 L1540.9 484.5 L1541.0 486.5 L1541.0 488.5 L1541.0 490.5 L1541.1 492.6 L1541.1 494.6 L1541.1 496.6 L1541.2 498.6 L1541.2 500.6 L1541.2 502.6 L1541.3 504.6 L1541.3 506.7 L1541.4 508.7 L1541.4 510.7 L1541.4 512.7 L1541.5 514.7 L1541.5 516.7 L1541.6 518.7 L1541.6 520.8 L1541.7 522.8 L1541.7 524.8 L1541.8 526.8 L1541.8 528.8 L1541.9 530.8 L1541.9 532.8 L1542.0 534.9 L1542.0 536.9 L1542.1 538.9 L1542.1 540.9 L1542.2 542.9 L1542.2 544.9 L1542.3 546.9 L1542.4 548.9 L1542.4 551.0 L1542.5 553.0 L1542.5 555.0 L1542.6 557.0"/>
<path stroke-width="4.8" stroke-dasharray="0.01 4.6" d="M1545.5 338.0 L1545.0 395.0"/>
<path stroke-width="4.8" stroke-dasharray="0.01 11.0" d="M1544.6 410.0 L1543.6 440.0"/>
<path stroke-width="4.8" stroke-dasharray="0.01 6.0" d="M1536.3 600.0 L1536.3 745.0"/>
<g fill="#000" stroke="none"><circle cx="834.5" cy="551.0" r="2.25"/><circle cx="834.5" cy="554.2" r="2.25"/><circle cx="834.5" cy="557.4" r="2.25"/><circle cx="834.5" cy="560.6" r="2.25"/><circle cx="834.5" cy="563.8" r="2.25"/><circle cx="834.5" cy="567.0" r="2.25"/><circle cx="834.5" cy="570.2" r="2.25"/><circle cx="834.5" cy="573.4" r="2.25"/><circle cx="834.5" cy="576.6" r="2.25"/><circle cx="834.5" cy="579.8" r="2.25"/><circle cx="834.5" cy="583.0" r="2.25"/><circle cx="834.5" cy="586.2" r="2.25"/><circle cx="834.5" cy="589.4" r="2.25"/><circle cx="834.5" cy="596.0" r="2.25"/><circle cx="834.5" cy="604.0" r="2.25"/><circle cx="834.5" cy="612.0" r="2.25"/><circle cx="834.5" cy="622.0" r="2.25"/><circle cx="834.5" cy="630.0" r="2.25"/><circle cx="834.5" cy="641.0" r="2.25"/><circle cx="834.5" cy="649.0" r="2.25"/><circle cx="834.5" cy="658.0" r="2.25"/><circle cx="834.5" cy="667.0" r="2.25"/><circle cx="834.5" cy="677.0" r="2.25"/><circle cx="834.5" cy="688.0" r="2.25"/><circle cx="834.5" cy="697.0" r="2.25"/><circle cx="834.5" cy="706.0" r="2.25"/><circle cx="834.5" cy="715.0" r="2.25"/><circle cx="834.5" cy="724.0" r="2.25"/><circle cx="834.5" cy="732.0" r="2.25"/><circle cx="930.5" cy="550.8" r="2.25"/><circle cx="930.5" cy="565.0" r="2.25"/><circle cx="930.5" cy="574.0" r="2.25"/><circle cx="930.5" cy="600.0" r="2.25"/><circle cx="930.5" cy="617.5" r="2.25"/><circle cx="930.5" cy="621.7" r="2.25"/><circle cx="930.5" cy="639.0" r="2.25"/><circle cx="930.5" cy="654.0" r="2.25"/><circle cx="930.5" cy="666.0" r="2.25"/><circle cx="930.5" cy="673.0" r="2.25"/><circle cx="930.5" cy="678.0" r="2.25"/><circle cx="930.5" cy="683.0" r="2.25"/><circle cx="930.5" cy="688.0" r="2.25"/><circle cx="930.5" cy="693.0" r="2.25"/><circle cx="930.5" cy="698.0" r="2.25"/><circle cx="930.5" cy="703.0" r="2.25"/><circle cx="930.5" cy="707.0" r="2.25"/><circle cx="930.5" cy="711.0" r="2.25"/><circle cx="1021.6" cy="568.0" r="2.25"/><circle cx="1021.6" cy="584.0" r="2.25"/><circle cx="1021.6" cy="597.0" r="2.25"/><circle cx="1021.6" cy="608.0" r="2.25"/><circle cx="1021.6" cy="617.5" r="2.25"/><circle cx="1021.6" cy="625.0" r="2.25"/><circle cx="1021.6" cy="632.0" r="2.25"/><circle cx="1021.6" cy="637.0" r="2.25"/><circle cx="1021.6" cy="642.0" r="2.25"/><circle cx="1021.6" cy="647.0" r="2.25"/><circle cx="1021.6" cy="650.0" r="2.25"/><circle cx="1021.6" cy="655.0" r="2.25"/><circle cx="1021.6" cy="660.0" r="2.25"/><circle cx="1021.6" cy="670.0" r="2.25"/><circle cx="1021.6" cy="683.0" r="2.25"/><circle cx="1108.5" cy="550.0" r="2.25"/><circle cx="1108.5" cy="555.0" r="2.25"/><circle cx="1108.5" cy="560.0" r="2.25"/><circle cx="1108.5" cy="565.0" r="2.25"/><circle cx="1108.5" cy="570.0" r="2.25"/><circle cx="1108.5" cy="575.0" r="2.25"/><circle cx="1108.5" cy="580.0" r="2.25"/><circle cx="1108.5" cy="585.0" r="2.25"/><circle cx="1108.5" cy="590.0" r="2.25"/><circle cx="1108.5" cy="602.5" r="2.25"/><circle cx="1108.5" cy="620.0" r="2.25"/></g>
<path stroke-width="3.5" d="M1339.5 742.0 L1339.5 873.3 M1408.3 742.0 L1408.3 841.7 M1472.8 742.0 L1472.8 796.0 M1540.2 130.0 L1540.2 132.0 L1540.2 134.0 L1540.2 136.0 L1540.2 138.1 L1540.2 140.1 L1540.2 142.1 L1540.2 144.1 L1540.2 146.1 L1540.2 148.1 L1540.2 150.1 L1540.2 152.2 L1540.2 154.2 L1540.2 156.2 L1540.2 158.2 L1540.2 160.2 L1540.2 162.2 L1540.2 164.2 L1540.2 166.3 L1540.2 168.3 L1540.2 170.3 L1540.2 172.3 L1540.2 174.3 L1540.2 176.3 L1540.2 178.3 L1540.2 180.4 L1540.2 182.4 L1540.2 184.4 L1540.2 186.4 L1540.2 188.4 L1540.2 190.4 L1540.2 192.4 L1540.2 194.5 L1540.2 196.5 L1540.2 198.5 L1540.2 200.5 L1540.2 202.5 L1540.2 204.5 L1540.2 206.5 L1540.2 208.6 L1540.2 210.6 L1540.2 212.6 L1540.2 214.6 L1540.2 216.6 L1540.2 218.6 L1540.2 220.6 L1540.2 222.7 L1540.2 224.7 L1540.2 226.7 L1540.2 228.7 L1540.2 230.7 L1540.2 232.7 L1540.2 234.7 L1540.2 236.8 L1540.2 238.8 L1540.2 240.8 L1540.2 242.8 L1540.2 244.8 L1540.2 246.8 L1540.2 248.8 L1540.2 250.9 L1540.2 252.9 L1540.2 254.9 L1540.2 256.9 L1540.2 258.9 L1540.2 260.9 L1540.2 262.9 L1540.2 265.0 L1540.2 267.0 L1540.2 269.0 L1540.2 271.0 L1540.2 273.0 L1540.2 275.0 L1540.2 277.0 L1540.2 279.1 L1540.2 281.1 L1540.2 283.1 L1540.2 285.1 L1540.2 287.1 L1540.2 289.1 L1540.2 291.1 L1540.2 293.2 L1540.2 295.2 L1540.2 297.2 L1540.2 299.2 L1540.3 301.2 L1540.3 303.2 L1540.3 305.2 L1540.3 307.3 L1540.3 309.3 L1540.3 311.3 L1540.3 313.3 L1540.3 315.3 L1540.3 317.3 L1540.3 319.3 L1540.3 321.4 L1540.3 323.4 L1540.3 325.4 L1540.3 327.4 L1540.3 329.4 L1540.3 331.4 L1540.3 333.4 L1540.3 335.5 L1540.3 337.5 L1540.3 339.5 L1540.3 341.5 L1540.3 343.5 L1540.3 345.5 L1540.3 347.5 L1540.3 349.6 L1540.3 351.6 L1540.3 353.6 L1540.3 355.6 L1540.3 357.6 L1540.3 359.6 L1540.3 361.6 L1540.3 363.7 L1540.3 365.7 L1540.3 367.7 L1540.3 369.7 L1540.3 371.7 L1540.3 373.7 L1540.3 375.7 L1540.3 377.8 L1540.3 379.8 L1540.3 381.8 L1540.3 383.8 L1540.3 385.8 L1540.3 387.8 L1540.3 389.8 L1540.3 391.9 L1540.3 393.9 L1540.3 395.9 L1540.3 397.9 L1540.3 399.9 L1540.3 401.9 L1540.3 403.9 L1540.4 406.0 L1540.4 408.0 L1540.4 410.0 L1540.4 412.0 L1540.4 414.0 L1540.4 416.0 L1540.4 418.0 L1540.4 420.1 L1540.4 422.1 L1540.4 424.1 L1540.4 426.1 L1540.4 428.1 L1540.4 430.1 L1540.4 432.1 L1540.4 434.2 L1540.4 436.2 L1540.4 438.2 L1540.4 440.2 L1540.4 442.2 L1540.4 444.2 L1540.4 446.2 L1540.4 448.3 L1540.4 450.3 L1540.5 452.3 L1540.5 454.3 L1540.5 456.3 L1540.5 458.3 L1540.5 460.3 L1540.6 462.4 L1540.6 464.4 L1540.6 466.4 L1540.7 468.4 L1540.7 470.4 L1540.7 472.4 L1540.8 474.4 L1540.8 476.5 L1540.8 478.5 L1540.9 480.5 L1540.9 482.5 L1540.9 484.5 L1541.0 486.5 L1541.0 488.5 L1541.0 490.5 L1541.1 492.6 L1541.1 494.6 L1541.1 496.6 L1541.2 498.6 L1541.2 500.6 L1541.2 502.6 L1541.3 504.6 L1541.3 506.7 L1541.4 508.7 L1541.4 510.7 L1541.4 512.7 L1541.5 514.7 L1541.5 516.7 L1541.6 518.7 L1541.6 520.8 L1541.7 522.8 L1541.7 524.8 L1541.8 526.8 L1541.8 528.8 L1541.9 530.8 L1541.9 532.8 L1542.0 534.9 L1542.0 536.9 L1542.1 538.9 L1542.1 540.9 L1542.2 542.9 L1542.2 544.9 L1542.3 546.9 L1542.4 548.9 L1542.4 551.0 L1542.5 553.0 L1542.5 555.0 L1542.6 557.0 M1545.7 130.0 L1545.7 334.0"/>
<path stroke-width="4.4" d="M289.5 865.8 L289.5 1019.0 M354.5 963.0 L354.5 1025.8 M443.4 766.3 L443.4 1007.0 M529.3 829.0 L529.3 1010.0 M630.3 830.0 L630.3 992.0 M734.5 800.0 L734.5 984.4 M834.5 765.0 L834.5 973.0 M930.5 722.0 L930.5 960.6 M1021.6 700.0 L1021.6 948.1 M1108.5 742.0 L1108.5 933.5 M1189.5 742.0 L1189.5 916.9 M1266.4 742.0 L1266.4 897.5"/>
<path stroke-width="3.9" d="M1117.9 934.6 L1118.1 934.3 L1118.3 933.4 L1118.5 932.2 L1118.7 930.7 L1118.9 929.1 L1119.1 927.6 L1119.3 926.2 L1119.4 925.0 L1119.5 923.8 L1119.7 922.6 L1119.8 921.4 L1119.9 920.2 L1120.0 919.0 L1120.1 917.8 L1120.2 916.6 L1120.3 915.4 L1120.4 914.2 L1120.5 913.0 L1120.6 911.8 L1120.7 910.6 L1120.8 909.4 L1120.9 908.2 L1121.0 907.0 L1121.2 905.8 L1121.3 904.6 L1121.4 903.4 L1121.5 902.2 L1121.6 901.0 L1121.8 899.8 L1121.9 898.6 L1122.0 897.5 L1122.1 896.3 L1122.3 895.1 L1122.4 893.9 L1122.5 892.7 L1122.6 891.5 L1122.8 890.3 L1122.9 889.1 L1123.0 887.9 L1123.1 886.7 L1123.3 885.5 L1123.4 884.3 L1123.5 883.1 L1123.6 881.9 L1123.8 880.7 L1123.9 879.5 L1124.0 878.3 L1124.1 877.1 L1124.2 875.9 L1124.4 874.7 L1124.5 873.5 L1124.6 872.3 L1124.7 871.1 L1124.8 869.9 L1125.0 868.7 L1125.1 867.5 L1125.2 866.3 L1125.3 865.1 L1125.4 863.9 L1125.6 862.7 L1125.7 861.5 L1125.8 860.3 L1125.9 859.1 L1126.0 857.9 L1126.1 856.7 L1126.3 855.5 L1126.4 854.3 L1126.5 853.1 L1126.6 851.9 L1126.7 850.7 L1126.9 849.5 L1127.0 848.3 L1127.1 847.1 L1127.2 845.9 L1127.3 844.7 L1127.4 843.6 L1127.6 842.4 L1127.7 841.2 L1127.8 840.0 L1127.9 838.8 L1128.0 837.6 L1128.2 836.4 L1128.3 835.2 L1128.4 834.0 L1128.5 832.8 L1128.6 831.6 L1128.8 830.4 L1128.9 829.2 L1129.0 828.0 L1129.1 826.8 L1129.2 825.6 L1129.3 824.4 L1129.5 823.2 L1129.6 822.0 L1129.7 820.8 L1129.8 819.6 L1129.9 818.4 L1130.1 817.2 L1130.2 816.0 L1130.3 814.8 L1130.4 813.6 L1130.5 812.4 L1130.7 811.2 L1130.8 810.0 L1130.9 808.8 L1131.0 807.6 L1131.1 806.4 L1131.2 805.2 L1131.4 804.0 L1131.5 802.8 L1131.6 801.6 L1131.7 800.4 L1131.8 799.2 L1132.0 798.0 L1132.1 796.8 L1132.2 795.6 L1132.3 794.4 L1132.4 793.2 L1132.5 792.0 L1132.7 790.8 L1132.8 789.6 L1132.9 788.4 L1133.0 787.2 L1133.1 786.0 L1133.3 784.9 L1133.4 783.7 L1133.5 782.5 L1133.6 781.3 L1133.7 780.1 L1133.9 778.9 L1134.0 777.7 L1134.1 776.5 L1134.2 775.3 L1134.4 774.1 L1134.5 772.9 L1134.6 771.7 L1134.7 770.5 L1134.9 769.3 L1135.0 768.1 L1135.1 766.9 L1135.2 765.7 L1135.4 764.5 L1135.5 763.3 L1135.6 762.1 L1135.7 760.9 L1135.9 759.7 L1136.0 758.5 L1136.1 757.3 L1136.2 756.1 L1136.3 754.9 L1136.5 753.7 L1136.6 752.5 L1136.7 751.3 L1136.8 750.1 L1136.9 748.9 L1137.0 747.7 L1137.1 746.5 L1137.3 745.3 L1137.4 744.1 L1137.5 742.9 L1137.6 741.7 L1137.7 740.5 L1137.8 739.3 L1137.9 738.1 L1138.0 736.9 M1199.3 916.8 L1199.5 916.2 L1199.7 915.1 L1199.9 913.7 L1200.1 912.2 L1200.3 910.6 L1200.5 909.2 L1200.6 908.0 L1200.7 906.8 L1200.9 905.6 L1201.0 904.4 L1201.1 903.2 L1201.2 902.0 L1201.3 900.8 L1201.4 899.6 L1201.5 898.4 L1201.5 897.2 L1201.6 896.0 L1201.7 894.8 L1201.8 893.6 L1201.9 892.4 L1202.0 891.2 L1202.1 890.0 L1202.1 888.8 L1202.2 887.6 L1202.3 886.4 L1202.4 885.2 L1202.5 884.0 L1202.6 882.9 L1202.7 881.7 L1202.8 880.5 L1202.9 879.3 L1203.0 878.1 L1203.1 876.9 L1203.1 875.7 L1203.2 874.5 L1203.3 873.3 L1203.4 872.1 L1203.5 870.9 L1203.6 869.7 L1203.7 868.5 L1203.8 867.3 L1203.9 866.1 L1203.9 864.9 L1204.0 863.7 L1204.1 862.5 L1204.2 861.3 L1204.3 860.1 L1204.4 858.9 L1204.5 857.7 L1204.6 856.5 L1204.6 855.3 L1204.7 854.1 L1204.8 852.9 L1204.9 851.7 L1205.0 850.5 L1205.1 849.3 L1205.2 848.1 L1205.3 846.9 L1205.3 845.7 L1205.4 844.5 L1205.5 843.3 L1205.6 842.1 L1205.7 840.9 L1205.8 839.7 L1205.9 838.5 L1206.0 837.3 L1206.1 836.1 L1206.1 834.9 L1206.2 833.7 L1206.3 832.5 L1206.4 831.3 L1206.5 830.1 L1206.6 828.9 L1206.7 827.7 L1206.8 826.5 L1206.8 825.3 L1206.9 824.1 L1207.0 822.9 L1207.1 821.7 L1207.2 820.5 L1207.3 819.3 L1207.4 818.1 L1207.5 816.9 L1207.6 815.7 L1207.6 814.5 L1207.7 813.3 L1207.8 812.1 L1207.9 810.9 L1208.0 809.7 L1208.1 808.5 L1208.2 807.3 L1208.3 806.1 L1208.4 804.9 L1208.4 803.7 L1208.5 802.5 L1208.6 801.3 L1208.7 800.1 L1208.8 798.9 L1208.9 797.7 L1209.0 796.5 L1209.1 795.3 L1209.2 794.1 L1209.3 792.9 L1209.4 791.7 L1209.5 790.5 L1209.5 789.3 L1209.6 788.1 L1209.7 787.0 L1209.8 785.8 L1209.9 784.6 L1210.0 783.4 L1210.1 782.2 L1210.2 781.0 L1210.3 779.8 L1210.4 778.6 L1210.5 777.4 L1210.6 776.2 L1210.7 775.0 L1210.8 773.8 L1210.9 772.6 L1210.9 771.4 L1211.0 770.2 L1211.1 769.0 L1211.2 767.8 L1211.3 766.6 L1211.4 765.4 L1211.5 764.2 L1211.6 763.0 L1211.7 761.8 L1211.8 760.6 L1211.9 759.4 L1212.0 758.2 L1212.1 757.0 L1212.2 755.8 L1212.3 754.6 L1212.3 753.4 L1212.4 752.2 L1212.5 751.0 L1212.6 749.8 L1212.7 748.6 L1212.8 747.4 L1212.9 746.2 L1213.0 745.0 L1213.1 743.8 L1213.2 742.6 L1213.3 741.4 L1213.4 740.2 L1213.5 739.0 L1213.6 737.8 M1275.4 893.3 L1275.5 893.1 L1275.6 892.5 L1275.7 891.4 L1275.9 890.0 L1276.0 888.5 L1276.2 886.9 L1276.3 885.4 L1276.4 884.0 L1276.5 882.8 L1276.6 881.6 L1276.7 880.4 L1276.8 879.2 L1276.9 878.0 L1277.0 876.8 L1277.1 875.6 L1277.2 874.4 L1277.3 873.2 L1277.4 872.0 L1277.4 870.8 L1277.5 869.6 L1277.6 868.4 L1277.7 867.2 L1277.8 866.0 L1277.8 864.8 L1277.9 863.6 L1278.0 862.4 L1278.1 861.2 L1278.2 860.0 L1278.2 858.8 L1278.3 857.6 L1278.4 856.4 L1278.4 855.2 L1278.5 854.0 L1278.6 852.8 L1278.7 851.6 L1278.7 850.4 L1278.8 849.2 L1278.9 848.0 L1278.9 846.8 L1279.0 845.6 L1279.1 844.4 L1279.1 843.2 L1279.2 842.0 L1279.3 840.8 L1279.3 839.6 L1279.4 838.4 L1279.5 837.2 L1279.5 836.0 L1279.6 834.8 L1279.7 833.6 L1279.8 832.4 L1279.8 831.2 L1279.9 830.0 L1280.0 828.8 L1280.0 827.6 L1280.1 826.4 L1280.2 825.2 L1280.3 824.0 L1280.3 822.8 L1280.4 821.6 L1280.5 820.4 L1280.5 819.2 L1280.6 818.0 L1280.7 816.8 L1280.8 815.6 L1280.8 814.4 L1280.9 813.2 L1281.0 812.0 L1281.1 810.8 L1281.1 809.6 L1281.2 808.4 L1281.3 807.2 L1281.3 806.0 L1281.4 804.8 L1281.5 803.6 L1281.6 802.4 L1281.6 801.2 L1281.7 800.0 L1281.8 798.8 L1281.8 797.6 L1281.9 796.4 L1282.0 795.2 L1282.1 794.0 L1282.1 792.8 L1282.2 791.6 L1282.3 790.4 L1282.4 789.2 L1282.4 788.0 L1282.5 786.8 L1282.6 785.6 L1282.6 784.4 L1282.7 783.2 L1282.8 782.0 L1282.9 780.8 L1282.9 779.6 L1283.0 778.4 L1283.1 777.2 L1283.1 776.0 L1283.2 774.8 L1283.3 773.6 L1283.4 772.4 L1283.4 771.2 L1283.5 770.0 L1283.6 768.8 L1283.6 767.6 L1283.7 766.4 L1283.8 765.2 L1283.9 764.0 L1283.9 762.8 L1284.0 761.6 L1284.1 760.4 L1284.2 759.2 L1284.2 758.0 L1284.3 756.8 L1284.4 755.6 L1284.4 754.4 L1284.5 753.2 L1284.6 752.0 L1284.7 750.8 L1284.7 749.6 L1284.8 748.4 L1284.9 747.2 L1284.9 746.0 L1285.0 744.8 L1285.1 743.6 L1285.2 742.4 L1285.2 741.2 L1285.3 740.0 L1285.4 738.8 L1285.4 737.6 M1348.4 865.0 L1348.5 864.3 L1348.7 863.2 L1348.8 861.7 L1348.9 860.2 L1349.1 858.7 L1349.1 857.4 L1349.2 856.2 L1349.3 855.0 L1349.3 853.8 L1349.4 852.6 L1349.5 851.4 L1349.5 850.2 L1349.5 849.0 L1349.6 847.8 L1349.6 846.6 L1349.7 845.4 L1349.7 844.2 L1349.8 843.0 L1349.8 841.8 L1349.8 840.6 L1349.9 839.4 L1349.9 838.2 L1350.0 837.0 L1350.0 835.8 L1350.1 834.6 L1350.2 833.4 L1350.2 832.2 L1350.3 831.0 L1350.3 829.8 L1350.4 828.6 L1350.5 827.4 L1350.5 826.2 L1350.6 825.0 L1350.7 823.8 L1350.7 822.6 L1350.8 821.4 L1350.8 820.2 L1350.9 819.0 L1351.0 817.8 L1351.0 816.6 L1351.1 815.4 L1351.2 814.2 L1351.2 813.0 L1351.3 811.8 L1351.4 810.6 L1351.4 809.4 L1351.5 808.2 L1351.5 807.0 L1351.6 805.8 L1351.6 804.6 L1351.7 803.4 L1351.7 802.2 L1351.8 801.0 L1351.9 799.8 L1351.9 798.6 L1352.0 797.4 L1352.0 796.2 L1352.1 795.0 L1352.1 793.8 L1352.1 792.6 L1352.2 791.4 L1352.2 790.2 L1352.3 789.0 L1352.3 787.8 L1352.4 786.6 L1352.4 785.4 L1352.5 784.2 L1352.5 783.0 L1352.6 781.8 L1352.6 780.6 L1352.6 779.4 L1352.7 778.2 L1352.7 777.0 L1352.8 775.8 L1352.8 774.6 L1352.9 773.4 L1352.9 772.2 L1353.0 771.0 L1353.0 769.8 L1353.0 768.6 L1353.1 767.4 L1353.1 766.2 L1353.2 765.0 L1353.2 763.8 L1353.3 762.6 L1353.3 761.4 L1353.4 760.2 L1353.4 759.0 L1353.4 757.8 L1353.5 756.6 L1353.5 755.4 L1353.6 754.1 L1353.6 752.9 L1353.7 751.7 L1353.7 750.5 L1353.8 749.3 L1353.8 748.1 L1353.9 746.9 L1353.9 745.7 L1353.9 744.5 L1354.0 743.3 L1354.0 742.1 L1354.1 740.9 L1354.1 739.7 L1354.2 738.5 L1354.2 737.3 M1416.3 822.5 L1416.4 822.4 L1416.5 821.7 L1416.6 820.5 L1416.7 819.1 L1416.9 817.6 L1417.0 816.0 L1417.1 814.5 L1417.1 813.3 L1417.2 812.1 L1417.3 810.9 L1417.4 809.7 L1417.4 808.5 L1417.5 807.3 L1417.5 806.1 L1417.6 804.9 L1417.6 803.7 L1417.7 802.5 L1417.7 801.3 L1417.8 800.1 L1417.8 798.9 L1417.9 797.7 L1417.9 796.5 L1418.0 795.3 L1418.0 794.1 L1418.1 792.9 L1418.1 791.7 L1418.2 790.5 L1418.2 789.3 L1418.3 788.1 L1418.3 786.9 L1418.4 785.7 L1418.4 784.5 L1418.4 783.3 L1418.5 782.1 L1418.5 780.9 L1418.6 779.7 L1418.6 778.5 L1418.6 777.3 L1418.7 776.1 L1418.7 774.9 L1418.8 773.7 L1418.8 772.5 L1418.9 771.3 L1418.9 770.1 L1418.9 768.9 L1419.0 767.7 L1419.0 766.5 L1419.1 765.3 L1419.1 764.1 L1419.2 762.9 L1419.2 761.7 L1419.2 760.5 L1419.3 759.3 L1419.3 758.1 L1419.4 756.9 L1419.5 755.7 L1419.5 754.5 L1419.6 753.3 L1419.6 752.1 L1419.7 750.9 L1419.7 749.7 L1419.8 748.5 L1419.8 747.3 L1419.9 746.1 L1419.9 744.9 L1420.0 743.7 L1420.0 742.5 L1420.1 741.3 L1420.1 740.1 L1420.2 738.9 L1420.2 737.7"/>
<path stroke-width="5.2" d="M287.0 928.6 L287.5 931.5 L288.6 936.0 M289.7 868.0 L289.7 869.2 L289.8 870.4 L289.8 871.6 L289.8 872.8 L289.9 874.0 L289.9 875.3 L289.9 876.5 L290.0 877.7 L290.0 878.9 L290.0 880.1 L290.1 881.3 L290.1 882.5 L290.2 883.7 L290.2 884.9 L290.2 886.1 L290.3 887.3 L290.3 888.6 L290.3 889.8 L290.4 891.0 L290.4 892.2 L290.4 893.4 L290.5 894.6 L290.5 895.8 L290.6 897.0 L290.6 898.2 L290.6 899.4 L290.7 900.7 L290.7 901.9 L290.7 903.1 L290.8 904.3 L290.8 905.5 L290.9 906.7 L290.9 907.9 L290.9 909.1 L291.0 910.3 L291.0 911.5 L291.0 912.7 L291.1 914.0 L291.1 915.2 L291.1 916.4 L291.2 917.6 L291.2 918.8 L291.3 920.0 L291.3 921.2 L291.3 922.4 L291.4 923.6 L291.4 924.8 L291.4 926.0 L291.5 927.3 L291.5 928.5 L291.6 929.7 L291.6 930.9 L291.6 932.1 L291.7 933.3 L291.7 934.5 L291.8 935.7 L291.8 936.9 L291.8 938.1 L291.9 939.3 L291.9 940.6 L292.0 941.8 L292.0 943.0 L292.0 944.2 L292.1 945.4 L292.1 946.6 L292.2 947.8 L292.2 949.0 L292.2 950.2 L292.3 951.4 L292.3 952.6 L292.4 953.9 L292.4 955.1 L292.5 956.3 L292.5 957.5 L292.6 958.7 L292.6 959.9 L292.7 961.1 L292.7 962.3 L292.7 963.5 L292.8 964.7 L292.8 966.0 L292.9 967.2 L292.9 968.4 L292.9 969.6 L293.0 970.8 L293.0 972.0 L293.1 973.2 L293.1 974.4 L293.2 975.7 L293.2 976.9 L293.3 978.1 L293.3 979.3 L293.4 980.5 L293.5 981.7 L293.5 982.9 L293.6 984.1 L293.7 985.3 L293.7 986.5 L293.8 987.7 L293.9 988.9 L294.0 990.1 L294.1 991.3 L294.2 992.5 L294.4 993.8 L294.5 995.0 L294.7 996.3 L294.9 997.5 L295.1 998.7 L295.4 999.9 L295.6 1001.1 L295.9 1002.3 L296.2 1003.5 L296.5 1004.6 L296.9 1005.6 L297.3 1006.7 L297.9 1007.9 L298.6 1009.2 L299.5 1010.3 L300.4 1011.1 L301.3 1011.6 L302.2 1011.6 L303.1 1011.1 L304.1 1010.2 L305.0 1009.1 L305.9 1008.1 L306.6 1007.2 L307.3 1006.3 L307.9 1005.2 L308.5 1004.2 L309.1 1003.1 L309.7 1002.0 L310.3 1000.9 L310.8 999.8 L311.4 998.8 L312.0 997.7 L312.7 996.7 L313.3 995.6 L313.9 994.6 L314.5 993.5 L315.1 992.5 L315.7 991.4 L316.3 990.4 L316.9 989.3 L317.5 988.3 L318.2 987.2 L318.8 986.2 L319.4 985.2 L320.0 984.1 L320.7 983.1 L321.3 982.1 L322.0 981.1 L322.6 980.1 L323.3 979.1 L324.0 978.1 L324.7 977.1 L325.4 976.1 L326.1 975.2 L326.9 974.2 L327.6 973.3 L328.4 972.3 L329.1 971.4 L329.9 970.4 L330.7 969.5 L331.5 968.6 L332.3 967.7 L333.2 966.8 L334.0 965.9 L334.9 965.1 L335.7 964.2 L336.6 963.4 L337.5 962.6 L338.4 961.6 L339.3 960.7 L340.3 959.7 L341.3 958.8 L342.3 957.9 L343.2 957.1 L344.2 956.5 L345.2 956.1 L346.2 955.8 L347.3 955.9 L348.4 956.3 L349.6 957.0 L350.7 957.8 L351.5 958.7 L352.0 959.5 L352.4 960.5 L352.8 961.5 L353.1 962.6 L353.4 963.9 L353.6 965.2 L353.8 966.5 L353.8 968.0 M356.3 963.3 L356.3 964.5 L356.3 965.7 L356.3 967.0 L356.3 968.2 L356.4 969.4 L356.4 970.6 L356.4 971.8 L356.5 973.0 L356.5 974.2 L356.5 975.5 L356.6 976.7 L356.6 977.9 L356.7 979.1 L356.7 980.3 L356.8 981.5 L356.9 982.7 L356.9 983.9 L357.0 985.1 L357.1 986.3 L357.1 987.5 L357.2 988.8 L357.3 990.0 L357.4 991.3 L357.5 992.8 L357.6 994.3 L357.8 995.9 L357.9 997.5 L358.1 998.8 L358.3 1000.0 L358.6 1000.9 L358.8 1001.4 L359.1 1001.4 L359.7 1000.6 L360.5 999.2 L361.0 997.9 L361.4 996.8 L361.8 995.7 L362.1 994.5 L362.4 993.3 L362.7 992.1 L363.0 990.9 L363.4 989.8 L363.7 988.6 L364.1 987.5 L364.4 986.3 L364.8 985.1 L365.1 984.0 L365.5 982.8 L365.9 981.7 L366.2 980.5 L366.6 979.3 L367.0 978.2 L367.3 977.0 L367.7 975.9 L368.1 974.7 L368.5 973.6 L368.8 972.4 L369.2 971.3 L369.6 970.1 L370.0 969.0 L370.4 967.8 L370.8 966.7 L371.2 965.5 L371.6 964.4 L372.0 963.2 L372.4 962.1 L372.8 961.0 L373.2 959.8 L373.6 958.7 L374.1 957.6 L374.5 956.4 L375.0 955.3 L375.4 954.2 L375.9 953.1 L376.4 951.9 L376.8 950.8 L377.3 949.7 L377.8 948.6 L378.3 947.5 L378.8 946.4 L379.3 945.3 L379.8 944.2 L380.3 943.1 L380.8 942.0 L381.3 940.9 L381.8 939.8 L382.3 938.7 L382.9 937.6 L383.4 936.5 L384.0 935.4 L384.5 934.3 L385.1 933.3 L385.6 932.2 L386.2 931.1 L386.8 930.0 L387.3 929.0 L387.9 927.9 L388.5 926.8 L389.1 925.8 L389.7 924.7 L390.3 923.7 L390.9 922.6 L391.5 921.6 L392.1 920.5 L392.8 919.5 L393.4 918.5 L394.0 917.4 L394.7 916.4 L395.3 915.4 L396.0 914.3 L396.6 913.3 L397.3 912.3 L398.0 911.3 L398.6 910.3 L399.3 909.3 L400.0 908.3 L400.7 907.3 L401.4 906.3 L402.1 905.3 L402.8 904.3 L403.5 903.3 L404.2 902.4 L405.0 901.4 L405.7 900.4 L406.5 899.5 L407.2 898.6 L408.0 897.6 L408.8 896.7 L409.6 895.8 L410.4 894.9 L411.2 894.0 L412.0 893.1 L412.8 892.2 L413.7 891.3 L414.5 890.5 L415.4 889.6 L416.3 888.8 L417.2 887.9 L418.0 887.1 L419.0 886.2 L419.9 885.4 L420.8 884.7 L421.8 883.9 L422.7 883.2 L423.7 882.5 L424.7 881.9 L425.7 881.2 L426.8 880.6 L427.9 880.0 L429.0 879.4 L430.1 878.9 L431.2 878.5 L432.3 878.1 L433.5 877.8 L434.8 877.4 L435.9 877.2 L437.1 877.2 L438.3 877.6 L439.4 878.3 L440.3 879.2 L441.0 880.1 L441.5 881.0 L441.9 882.1 L442.3 883.3 L442.5 884.6 L442.6 886.0 M443.8 800.0 L443.8 801.2 L443.8 802.4 L443.8 803.6 L443.8 804.8 L443.8 806.0 L443.8 807.2 L443.8 808.4 L443.8 809.6 L443.8 810.8 L443.8 812.1 L443.8 813.3 L443.8 814.5 L443.8 815.7 L443.8 816.9 L443.9 818.1 L443.9 819.3 L443.9 820.5 L443.9 821.7 L443.9 822.9 L443.9 824.1 L443.9 825.3 L443.9 826.5 L443.9 827.7 L443.9 828.9 L443.9 830.1 L444.0 831.3 L444.0 832.5 L444.0 833.7 L444.0 835.0 L444.0 836.2 L444.0 837.4 L444.0 838.6 L444.0 839.8 L444.1 841.0 L444.1 842.2 L444.1 843.4 L444.1 844.6 L444.1 845.8 L444.1 847.0 L444.1 848.2 L444.2 849.4 L444.2 850.6 L444.2 851.8 L444.2 853.0 L444.2 854.2 L444.2 855.4 L444.3 856.6 L444.3 857.8 L444.3 859.1 L444.3 860.3 L444.3 861.5 L444.3 862.7 L444.4 863.9 L444.4 865.1 L444.4 866.3 L444.4 867.5 L444.4 868.7 L444.5 869.9 L444.5 871.1 L444.5 872.3 L444.5 873.5 L444.5 874.7 L444.6 875.9 L444.6 877.1 L444.6 878.3 L444.6 879.5 L444.6 880.7 L444.7 881.9 L444.7 883.1 L444.7 884.4 L444.7 885.6 L444.8 886.8 L444.8 888.0 L444.8 889.2 L444.8 890.4 L444.8 891.6 L444.9 892.8 L444.9 894.0 L444.9 895.2 L444.9 896.4 L445.0 897.6 L445.0 898.8 L445.0 900.0 L445.0 901.2 L445.0 902.4 L445.1 903.6 L445.1 904.8 L445.1 906.0 L445.1 907.2 L445.2 908.4 L445.2 909.7 L445.2 910.9 L445.3 912.1 L445.3 913.3 L445.3 914.5 L445.4 915.7 L445.4 916.9 L445.4 918.1 L445.5 919.3 L445.5 920.5 L445.5 921.7 L445.6 922.9 L445.6 924.1 L445.6 925.3 L445.7 926.5 L445.7 927.7 L445.8 928.9 L445.8 930.1 L445.9 931.3 L445.9 932.6 L446.0 933.8 L446.0 935.0 L446.1 936.2 L446.1 937.4 L446.2 938.6 L446.2 939.8 L446.3 941.0 L446.3 942.2 L446.4 943.4 L446.4 944.6 L446.5 945.8 L446.5 947.0 L446.6 948.2 L446.7 949.4 L446.7 950.6 L446.8 951.8 L446.9 953.0 L446.9 954.2 L447.0 955.4 L447.1 956.6 L447.2 957.8 L447.3 959.0 L447.4 960.2 L447.5 961.4 L447.6 962.6 L447.7 963.8 L447.8 965.0 L447.9 966.2 L448.1 967.4 L448.2 968.6 L448.3 969.8 L448.5 971.0 L448.6 972.2 L448.7 973.4 L448.9 974.6 L449.0 975.8 L449.2 977.0 L449.3 978.2 L449.5 979.4 L449.7 980.6 L449.8 981.8 L450.0 983.0 L450.2 984.2 L450.3 985.4 L450.5 986.6 L450.7 987.8 L450.9 989.0 L451.2 990.2 L451.4 991.4 L451.7 992.6 L452.0 993.8 L452.3 994.9 L452.7 996.0 L453.0 997.1 L453.5 998.3 L454.2 999.6 L455.0 1000.8 L455.8 1001.7 L456.5 1002.0 L457.3 1001.6 L458.1 1000.7 L459.0 999.6 L459.7 998.4 L460.4 997.4 L461.0 996.4 L461.6 995.3 L462.1 994.3 L462.7 993.2 L463.2 992.1 L463.7 990.9 L464.2 989.8 L464.7 988.7 L465.2 987.6 L465.7 986.5 L466.1 985.4 L466.6 984.3 L467.1 983.2 L467.5 982.1 L468.0 981.0 L468.5 979.9 L468.9 978.7 L469.3 977.6 L469.8 976.5 L470.2 975.4 L470.7 974.3 L471.1 973.1 L471.6 972.0 L472.1 970.9 L472.5 969.8 L473.0 968.7 L473.5 967.6 L474.0 966.5 L474.5 965.4 L475.0 964.3 L475.5 963.2 L476.0 962.1 L476.5 961.0 L477.0 959.9 L477.5 958.8 L478.0 957.7 L478.5 956.6 L479.0 955.6 L479.6 954.5 L480.1 953.4 L480.6 952.3 L481.1 951.2 L481.6 950.1 L482.2 949.0 L482.7 947.9 L483.2 946.9 L483.7 945.8 L484.2 944.7 L484.8 943.6 L485.3 942.5 L485.8 941.4 L486.3 940.3 L486.9 939.3 L487.4 938.2 L487.9 937.1 L488.5 936.0 L489.0 934.9 L489.6 933.9 L490.1 932.8 L490.7 931.7 L491.2 930.7 L491.8 929.6 L492.3 928.5 L492.9 927.5 L493.5 926.4 L494.1 925.3 L494.6 924.3 L495.2 923.2 L495.8 922.2 L496.4 921.1 L497.0 920.1 L497.7 919.1 L498.3 918.0 L498.9 917.0 L499.6 916.0 L500.2 915.0 L500.8 913.9 L501.5 912.9 L502.2 911.9 L502.9 910.9 L503.6 909.9 L504.3 909.0 L505.0 908.0 L505.7 907.0 L506.5 906.1 L507.2 905.2 L508.0 904.3 L508.8 903.3 L509.6 902.4 L510.4 901.5 L511.3 900.7 L512.1 899.8 L513.0 899.0 L513.9 898.2 L514.8 897.4 L515.8 896.7 L516.7 895.8 L517.7 894.9 L518.7 894.2 L519.8 893.5 L520.8 893.1 L521.9 893.0 L523.2 893.0 L524.5 893.1 L525.4 893.3 L526.1 894.2 L526.8 895.4 L527.3 896.7 L527.7 897.8 L528.0 899.0 L528.2 900.1 L528.5 901.3 L528.6 902.5 L528.8 903.7 L528.8 905.0 M529.6 840.0 L529.6 841.2 L529.6 842.4 L529.7 843.6 L529.7 844.8 L529.7 846.0 L529.7 847.2 L529.7 848.4 L529.8 849.6 L529.8 850.8 L529.8 852.0 L529.8 853.2 L529.9 854.4 L529.9 855.7 L529.9 856.9 L529.9 858.1 L530.0 859.3 L530.0 860.5 L530.0 861.7 L530.0 862.9 L530.0 864.1 L530.1 865.3 L530.1 866.5 L530.1 867.7 L530.1 868.9 L530.2 870.1 L530.2 871.3 L530.2 872.5 L530.2 873.7 L530.3 874.9 L530.3 876.1 L530.3 877.3 L530.3 878.5 L530.4 879.7 L530.4 880.9 L530.4 882.1 L530.4 883.3 L530.5 884.5 L530.5 885.7 L530.5 887.0 L530.5 888.2 L530.6 889.4 L530.6 890.6 L530.6 891.8 L530.6 893.0 L530.7 894.2 L530.7 895.4 L530.7 896.6 L530.8 897.8 L530.8 899.0 L530.8 900.2 L530.8 901.4 L530.9 902.6 L530.9 903.8 L530.9 905.0 L530.9 906.2 L531.0 907.4 L531.0 908.6 L531.0 909.8 L531.0 911.0 L531.1 912.2 L531.1 913.4 L531.1 914.6 L531.1 915.8 L531.1 917.1 L531.2 918.3 L531.2 919.5 L531.2 920.7 L531.2 921.9 L531.3 923.1 L531.3 924.3 L531.3 925.5 L531.3 926.7 L531.4 927.9 L531.4 929.1 L531.4 930.3 L531.4 931.5 L531.5 932.7 L531.5 933.9 L531.5 935.1 L531.5 936.3 L531.6 937.5 L531.6 938.7 L531.6 939.9 L531.7 941.1 L531.7 942.3 L531.7 943.5 L531.8 944.7 L531.8 946.0 L531.8 947.2 L531.9 948.4 L531.9 949.6 L531.9 950.8 L532.0 952.0 L532.0 953.2 L532.0 954.4 L532.1 955.6 L532.1 956.8 L532.2 958.0 L532.2 959.2 L532.2 960.4 L532.3 961.6 L532.3 962.8 L532.4 964.0 L532.4 965.2 L532.5 966.4 L532.5 967.6 L532.6 968.8 L532.7 970.0 L532.7 971.2 L532.8 972.4 L532.9 973.7 L532.9 974.9 L533.0 976.1 L533.1 977.3 L533.2 978.5 L533.3 979.7 L533.4 980.9 L533.5 982.1 L533.7 983.3 L533.8 984.5 L534.0 985.7 L534.1 986.8 L534.3 988.0 L534.6 989.3 L534.9 990.8 L535.4 992.2 L535.9 993.5 L536.4 994.3 L536.8 994.5 L537.2 994.1 L537.6 993.3 L538.0 992.2 L538.5 990.9 L538.9 989.4 L539.2 987.9 L539.6 986.4 L540.0 985.1 L540.3 984.0 L540.6 982.8 L540.9 981.6 L541.2 980.5 L541.5 979.3 L541.7 978.1 L542.0 977.0 L542.2 975.8 L542.5 974.6 L542.7 973.4 L543.0 972.2 L543.2 971.1 L543.5 969.9 L543.7 968.7 L544.0 967.5 L544.3 966.4 L544.5 965.2 L544.8 964.0 L545.1 962.8 L545.4 961.7 L545.7 960.5 L546.0 959.3 L546.3 958.2 L546.6 957.0 L546.9 955.9 L547.3 954.7 L547.6 953.5 L547.9 952.4 L548.2 951.2 L548.6 950.0 L548.9 948.9 L549.2 947.7 L549.5 946.6 L549.9 945.4 L550.2 944.3 L550.6 943.1 L550.9 941.9 L551.2 940.8 L551.6 939.6 L551.9 938.5 L552.3 937.3 L552.6 936.2 L553.0 935.0 L553.3 933.9 L553.7 932.7 L554.0 931.6 L554.4 930.4 L554.8 929.3 L555.1 928.1 L555.5 927.0 L555.9 925.8 L556.2 924.7 L556.6 923.6 L557.0 922.4 L557.4 921.3 L557.8 920.1 L558.1 919.0 L558.5 917.8 L558.9 916.7 L559.3 915.6 L559.7 914.4 L560.1 913.3 L560.5 912.2 L560.9 911.0 L561.3 909.9 L561.7 908.8 L562.1 907.6 L562.6 906.5 L563.0 905.4 L563.4 904.2 L563.8 903.1 L564.2 902.0 L564.7 900.9 L565.1 899.7 L565.5 898.6 L566.0 897.5 L566.4 896.4 L566.9 895.2 L567.3 894.1 L567.7 893.0 L568.2 891.9 L568.7 890.8 L569.1 889.7 L569.6 888.5 L570.0 887.4 L570.5 886.3 L571.0 885.2 L571.5 884.1 L571.9 883.0 L572.4 881.9 L572.9 880.8 L573.4 879.7 L573.9 878.6 L574.4 877.5 L575.0 876.4 L575.5 875.4 L576.0 874.3 L576.5 873.2 L577.1 872.1 L577.6 871.0 L578.1 870.0 L578.7 868.9 L579.3 867.8 L579.8 866.8 L580.4 865.7 L581.0 864.6 L581.5 863.6 L582.1 862.5 L582.7 861.5 L583.3 860.5 L583.9 859.4 L584.6 858.4 L585.2 857.4 L585.8 856.3 L586.5 855.3 L587.1 854.3 L587.8 853.3 L588.5 852.3 L589.1 851.3 L589.8 850.3 L590.5 849.3 L591.2 848.3 L591.9 847.3 L592.6 846.3 L593.3 845.4 L594.0 844.4 L594.7 843.4 L595.4 842.5 L596.2 841.5 L597.0 840.6 L597.7 839.7 L598.5 838.8 L599.3 837.9 L600.1 837.0 L601.0 836.1 L601.8 835.3 L602.7 834.5 L603.6 833.6 L604.5 832.8 L605.4 832.0 L606.3 831.2 L607.2 830.4 L608.1 829.6 L609.0 828.8 L609.9 827.9 L610.8 827.1 L611.7 826.4 L612.7 825.6 L613.6 824.9 L614.6 824.2 L615.6 823.6 L616.7 822.9 L617.7 822.2 L618.8 821.6 L619.9 821.1 L621.1 820.8 L622.2 820.8 L623.6 821.0 L624.8 821.3 L625.8 821.7 L626.3 822.3 L626.8 823.3 L627.2 824.6 L627.5 825.9 L627.8 827.3 L628.1 828.5 L628.4 829.6 L628.6 830.8 L628.8 832.0 L629.0 833.2 L629.2 834.4 L629.4 835.6 L629.5 836.8 L629.6 838.0 M632.7 826.0 L632.7 827.2 L632.8 828.4 L632.8 829.6 L632.8 830.8 L632.9 832.0 L632.9 833.2 L632.9 834.4 L633.0 835.6 L633.0 836.8 L633.0 838.1 L633.0 839.3 L633.1 840.5 L633.1 841.7 L633.1 842.9 L633.1 844.1 L633.2 845.3 L633.2 846.5 L633.2 847.7 L633.2 848.9 L633.3 850.1 L633.3 851.3 L633.3 852.5 L633.3 853.7 L633.4 854.9 L633.4 856.1 L633.4 857.3 L633.4 858.5 L633.4 859.7 L633.5 861.0 L633.5 862.2 L633.5 863.4 L633.5 864.6 L633.5 865.8 L633.6 867.0 L633.6 868.2 L633.6 869.4 L633.6 870.6 L633.6 871.8 L633.7 873.0 L633.7 874.2 L633.7 875.4 L633.7 876.6 L633.7 877.8 L633.8 879.0 L633.8 880.2 L633.8 881.4 L633.8 882.7 L633.8 883.9 L633.9 885.1 L633.9 886.3 L633.9 887.5 L633.9 888.7 L633.9 889.9 L634.0 891.1 L634.0 892.3 L634.0 893.5 L634.0 894.7 L634.1 895.9 L634.1 897.1 L634.1 898.3 L634.1 899.5 L634.2 900.7 L634.2 901.9 L634.2 903.1 L634.3 904.3 L634.3 905.5 L634.3 906.8 L634.3 908.0 L634.4 909.2 L634.4 910.4 L634.4 911.6 L634.5 912.8 L634.5 914.0 L634.6 915.2 L634.6 916.4 L634.6 917.6 L634.7 918.8 L634.7 920.0 L634.7 921.2 L634.8 922.4 L634.8 923.6 L634.9 924.8 L634.9 926.0 L635.0 927.2 L635.0 928.4 L635.1 929.7 L635.1 930.9 L635.2 932.1 L635.2 933.3 L635.3 934.5 L635.3 935.7 L635.4 936.9 L635.5 938.1 L635.5 939.3 L635.6 940.5 L635.7 941.7 L635.7 942.9 L635.8 944.1 L635.9 945.3 L635.9 946.5 L636.0 947.7 L636.1 948.9 L636.2 950.2 L636.2 951.4 L636.3 952.6 L636.4 953.8 L636.5 955.0 L636.6 956.2 L636.7 957.4 L636.8 958.6 L636.9 959.8 L637.0 961.0 L637.1 962.2 L637.2 963.4 L637.3 964.6 L637.4 965.7 L637.5 966.9 L637.6 968.1 L637.8 969.3 L637.9 970.5 L638.0 971.7 L638.2 973.0 L638.4 974.2 L638.5 975.4 L638.7 976.6 L639.0 977.8 L639.2 979.0 L639.5 980.2 L639.7 981.3 L640.0 982.5 L640.4 983.6 L640.8 984.7 L641.3 986.1 L642.0 987.4 L642.7 988.6 L643.4 989.4 L644.1 989.6 L644.7 989.1 L645.3 987.9 L645.9 986.6 L646.4 985.2 L646.8 984.1 L647.2 983.0 L647.5 981.8 L647.8 980.6 L648.1 979.5 L648.4 978.3 L648.7 977.1 L648.9 975.9 L649.3 974.8 L649.6 973.6 L649.9 972.4 L650.3 971.3 L650.6 970.1 L650.9 969.0 L651.3 967.8 L651.6 966.7 L652.0 965.5 L652.3 964.4 L652.7 963.2 L653.0 962.0 L653.4 960.9 L653.7 959.7 L654.1 958.6 L654.4 957.4 L654.8 956.3 L655.1 955.1 L655.5 954.0 L655.8 952.8 L656.2 951.7 L656.5 950.5 L656.9 949.3 L657.2 948.2 L657.6 947.0 L657.9 945.9 L658.3 944.7 L658.6 943.6 L659.0 942.4 L659.3 941.3 L659.6 940.1 L660.0 939.0 L660.3 937.8 L660.7 936.7 L661.0 935.5 L661.4 934.3 L661.7 933.2 L662.1 932.0 L662.4 930.9 L662.8 929.7 L663.1 928.6 L663.5 927.4 L663.8 926.3 L664.1 925.1 L664.5 923.9 L664.8 922.8 L665.2 921.6 L665.5 920.5 L665.9 919.3 L666.2 918.2 L666.5 917.0 L666.9 915.9 L667.2 914.7 L667.6 913.6 L667.9 912.4 L668.3 911.2 L668.6 910.1 L669.0 908.9 L669.3 907.8 L669.6 906.6 L670.0 905.5 L670.3 904.3 L670.7 903.1 L671.0 902.0 L671.4 900.8 L671.7 899.7 L672.0 898.5 L672.4 897.4 L672.8 896.2 L673.1 895.1 L673.5 893.9 L673.8 892.8 L674.2 891.6 L674.6 890.5 L675.0 889.3 L675.4 888.2 L675.8 887.1 L676.2 885.9 L676.6 884.8 L677.0 883.7 L677.4 882.5 L677.8 881.4 L678.2 880.3 L678.6 879.1 L679.0 878.0 L679.5 876.9 L679.9 875.7 L680.3 874.6 L680.7 873.5 L681.2 872.3 L681.6 871.2 L682.0 870.1 L682.4 869.0 L682.9 867.8 L683.3 866.7 L683.7 865.6 L684.1 864.5 L684.6 863.3 L685.0 862.2 L685.4 861.1 L685.9 859.9 L686.3 858.8 L686.7 857.7 L687.2 856.6 L687.6 855.4 L688.1 854.3 L688.5 853.2 L689.0 852.1 L689.5 851.0 L689.9 849.9 L690.4 848.8 L690.9 847.7 L691.4 846.6 L691.9 845.5 L692.4 844.4 L692.9 843.3 L693.4 842.2 L694.0 841.1 L694.5 840.0 L695.0 839.0 L695.6 837.9 L696.2 836.8 L696.7 835.8 L697.3 834.7 L697.9 833.6 L698.5 832.6 L699.1 831.5 L699.7 830.5 L700.3 829.5 L700.9 828.4 L701.5 827.4 L702.2 826.4 L702.8 825.4 L703.5 824.4 L704.2 823.4 L704.9 822.4 L705.6 821.4 L706.3 820.4 L707.0 819.5 L707.7 818.5 L708.5 817.5 L709.2 816.6 L710.0 815.6 L710.7 814.7 L711.5 813.8 L712.3 812.8 L713.1 811.9 L714.0 811.1 L714.8 810.3 L715.7 809.5 L716.6 808.7 L717.6 807.9 L718.5 807.1 L719.5 806.3 L720.5 805.5 L721.6 804.9 L722.6 804.3 L723.7 803.9 L724.8 803.7 L726.1 803.4 L727.3 803.3 L728.5 803.1 L729.6 803.1 L730.6 803.5 L731.6 804.4 L732.5 805.5 L733.1 806.7 L733.4 807.7 L733.6 808.8 L733.8 809.9 L734.0 811.1 L734.1 812.4 L734.2 813.6 L734.2 815.0 M735.6 800.0 L735.6 801.2 L735.6 802.4 L735.7 803.6 L735.7 804.8 L735.7 806.0 L735.7 807.2 L735.7 808.4 L735.8 809.6 L735.8 810.8 L735.8 812.1 L735.8 813.3 L735.8 814.5 L735.9 815.7 L735.9 816.9 L735.9 818.1 L735.9 819.3 L735.9 820.5 L736.0 821.7 L736.0 822.9 L736.0 824.1 L736.0 825.3 L736.1 826.5 L736.1 827.7 L736.1 828.9 L736.1 830.1 L736.2 831.3 L736.2 832.5 L736.2 833.7 L736.2 834.9 L736.3 836.1 L736.3 837.4 L736.3 838.6 L736.4 839.8 L736.4 841.0 L736.4 842.2 L736.4 843.4 L736.5 844.6 L736.5 845.8 L736.5 847.0 L736.6 848.2 L736.6 849.4 L736.6 850.6 L736.6 851.8 L736.7 853.0 L736.7 854.2 L736.7 855.4 L736.8 856.6 L736.8 857.8 L736.8 859.0 L736.9 860.2 L736.9 861.4 L736.9 862.7 L737.0 863.9 L737.0 865.1 L737.0 866.3 L737.1 867.5 L737.1 868.7 L737.1 869.9 L737.2 871.1 L737.2 872.3 L737.2 873.5 L737.3 874.7 L737.3 875.9 L737.3 877.1 L737.4 878.3 L737.4 879.5 L737.4 880.7 L737.5 881.9 L737.5 883.1 L737.6 884.3 L737.6 885.5 L737.6 886.7 L737.7 888.0 L737.7 889.2 L737.8 890.4 L737.8 891.6 L737.8 892.8 L737.9 894.0 L737.9 895.2 L738.0 896.4 L738.0 897.6 L738.1 898.8 L738.1 900.0 L738.2 901.2 L738.2 902.4 L738.2 903.6 L738.3 904.8 L738.3 906.0 L738.4 907.2 L738.4 908.4 L738.5 909.6 L738.5 910.8 L738.6 912.0 L738.6 913.2 L738.7 914.4 L738.8 915.6 L738.8 916.9 L738.9 918.1 L738.9 919.3 L739.0 920.5 L739.0 921.7 L739.1 922.9 L739.2 924.1 L739.2 925.3 L739.3 926.5 L739.3 927.7 L739.4 928.9 L739.5 930.1 L739.5 931.3 L739.6 932.5 L739.7 933.7 L739.8 934.9 L739.8 936.1 L739.9 937.3 L740.0 938.5 L740.1 939.7 L740.2 940.9 L740.2 942.1 L740.3 943.3 L740.4 944.5 L740.5 945.7 L740.6 946.9 L740.7 948.1 L740.8 949.3 L740.9 950.5 L741.0 951.7 L741.0 952.9 L741.1 954.1 L741.2 955.3 L741.3 956.5 L741.5 957.7 L741.6 958.9 L741.7 960.1 L741.8 961.4 L741.9 962.6 L742.0 963.8 L742.1 965.0 L742.2 966.2 L742.4 967.4 L742.5 968.6 L742.7 969.8 L742.8 971.0 L743.0 972.2 L743.2 973.3 L743.4 974.5 L743.6 975.7 L744.0 977.2 L744.3 978.7 L744.8 980.0 L745.2 981.0 L745.6 981.3 L746.1 980.8 L746.6 979.8 L747.2 978.4 L747.7 977.0 L748.1 975.7 L748.4 974.6 L748.8 973.4 L749.1 972.3 L749.3 971.1 L749.6 969.9 L749.9 968.7 L750.1 967.6 L750.4 966.4 L750.6 965.2 L750.9 964.0 L751.1 962.8 L751.4 961.6 L751.7 960.5 L751.9 959.3 L752.2 958.1 L752.5 956.9 L752.7 955.8 L753.0 954.6 L753.3 953.4 L753.5 952.2 L753.8 951.1 L754.1 949.9 L754.4 948.7 L754.6 947.5 L754.9 946.4 L755.2 945.2 L755.4 944.0 L755.7 942.8 L756.0 941.7 L756.2 940.5 L756.5 939.3 L756.8 938.1 L757.0 937.0 L757.3 935.8 L757.6 934.6 L757.9 933.5 L758.1 932.3 L758.4 931.1 L758.7 929.9 L758.9 928.8 L759.2 927.6 L759.5 926.4 L759.8 925.2 L760.0 924.1 L760.3 922.9 L760.6 921.7 L760.9 920.5 L761.1 919.4 L761.4 918.2 L761.7 917.0 L762.0 915.8 L762.2 914.7 L762.5 913.5 L762.8 912.3 L763.1 911.2 L763.3 910.0 L763.6 908.8 L763.9 907.6 L764.2 906.5 L764.4 905.3 L764.7 904.1 L765.0 902.9 L765.3 901.8 L765.5 900.6 L765.8 899.4 L766.1 898.2 L766.4 897.1 L766.6 895.9 L766.9 894.7 L767.2 893.6 L767.5 892.4 L767.7 891.2 L768.0 890.0 L768.3 888.9 L768.6 887.7 L768.9 886.5 L769.2 885.3 L769.5 884.2 L769.7 883.0 L770.0 881.8 L770.3 880.7 L770.6 879.5 L770.9 878.3 L771.2 877.2 L771.5 876.0 L771.8 874.8 L772.1 873.7 L772.4 872.5 L772.7 871.3 L773.1 870.2 L773.4 869.0 L773.7 867.8 L774.0 866.7 L774.3 865.5 L774.6 864.4 L774.9 863.2 L775.3 862.0 L775.6 860.9 L775.9 859.7 L776.2 858.5 L776.6 857.4 L776.9 856.2 L777.2 855.1 L777.5 853.9 L777.9 852.7 L778.2 851.6 L778.5 850.4 L778.9 849.3 L779.2 848.1 L779.6 847.0 L779.9 845.8 L780.3 844.7 L780.6 843.5 L781.0 842.3 L781.3 841.2 L781.7 840.0 L782.0 838.9 L782.4 837.8 L782.8 836.6 L783.2 835.5 L783.6 834.3 L783.9 833.2 L784.3 832.0 L784.7 830.9 L785.1 829.8 L785.5 828.6 L785.9 827.5 L786.3 826.4 L786.7 825.2 L787.2 824.1 L787.6 823.0 L788.0 821.8 L788.4 820.7 L788.8 819.6 L789.3 818.4 L789.7 817.3 L790.2 816.2 L790.6 815.1 L791.1 814.0 L791.5 812.9 L792.0 811.7 L792.4 810.6 L792.9 809.5 L793.4 808.4 L793.8 807.3 L794.3 806.2 L794.8 805.1 L795.3 804.0 L795.8 802.9 L796.3 801.8 L796.8 800.7 L797.3 799.6 L797.9 798.5 L798.4 797.4 L798.9 796.4 L799.5 795.3 L800.0 794.2 L800.6 793.1 L801.1 792.1 L801.7 791.0 L802.3 789.9 L802.9 788.9 L803.5 787.8 L804.1 786.8 L804.7 785.7 L805.3 784.7 L805.9 783.7 L806.6 782.7 L807.2 781.7 L807.9 780.7 L808.6 779.7 L809.3 778.7 L810.0 777.7 L810.7 776.7 L811.4 775.7 L812.2 774.7 L813.0 773.8 L813.7 772.9 L814.5 772.0 L815.4 771.2 L816.2 770.4 L817.1 769.6 L818.1 768.7 L819.0 767.9 L820.0 767.1 L821.0 766.4 L822.1 765.8 L823.2 765.3 L824.2 765.0 L825.4 764.7 L826.7 764.5 L828.0 764.3 L829.1 764.2 L830.1 764.3 L831.0 765.0 L832.0 766.1 L832.7 767.3 L833.2 768.4 L833.4 769.5 L833.6 770.6 L833.8 771.7 L833.9 772.9 L834.0 774.1 L834.1 775.4 L834.2 776.7 L834.2 778.0 M835.4 770.0 L835.4 771.2 L835.4 772.4 L835.4 773.6 L835.4 774.8 L835.4 776.0 L835.5 777.2 L835.5 778.4 L835.5 779.6 L835.5 780.8 L835.5 782.0 L835.5 783.2 L835.5 784.4 L835.5 785.7 L835.5 786.9 L835.6 788.1 L835.6 789.3 L835.6 790.5 L835.6 791.7 L835.6 792.9 L835.6 794.1 L835.6 795.3 L835.7 796.5 L835.7 797.7 L835.7 798.9 L835.7 800.1 L835.7 801.3 L835.7 802.5 L835.8 803.7 L835.8 804.9 L835.8 806.1 L835.8 807.3 L835.8 808.5 L835.9 809.7 L835.9 810.9 L835.9 812.1 L835.9 813.3 L835.9 814.5 L836.0 815.7 L836.0 816.9 L836.0 818.2 L836.0 819.4 L836.0 820.6 L836.1 821.8 L836.1 823.0 L836.1 824.2 L836.1 825.4 L836.2 826.6 L836.2 827.8 L836.2 829.0 L836.2 830.2 L836.2 831.4 L836.3 832.6 L836.3 833.8 L836.3 835.0 L836.3 836.2 L836.4 837.4 L836.4 838.6 L836.4 839.8 L836.4 841.0 L836.5 842.2 L836.5 843.4 L836.5 844.6 L836.5 845.8 L836.6 847.0 L836.6 848.2 L836.6 849.4 L836.6 850.6 L836.7 851.8 L836.7 853.1 L836.7 854.3 L836.7 855.5 L836.8 856.7 L836.8 857.9 L836.8 859.1 L836.8 860.3 L836.9 861.5 L836.9 862.7 L836.9 863.9 L836.9 865.1 L837.0 866.3 L837.0 867.5 L837.0 868.7 L837.1 869.9 L837.1 871.1 L837.1 872.3 L837.1 873.5 L837.2 874.7 L837.2 875.9 L837.2 877.1 L837.3 878.3 L837.3 879.5 L837.3 880.7 L837.4 881.9 L837.4 883.1 L837.4 884.4 L837.5 885.6 L837.5 886.8 L837.6 888.0 L837.6 889.2 L837.6 890.4 L837.7 891.6 L837.7 892.8 L837.7 894.0 L837.8 895.2 L837.8 896.4 L837.9 897.6 L837.9 898.8 L838.0 900.0 L838.0 901.2 L838.0 902.4 L838.1 903.6 L838.1 904.8 L838.2 906.0 L838.2 907.2 L838.3 908.4 L838.3 909.6 L838.4 910.8 L838.4 912.0 L838.5 913.2 L838.5 914.4 L838.6 915.6 L838.6 916.8 L838.7 918.0 L838.8 919.2 L838.8 920.4 L838.9 921.6 L838.9 922.8 L839.0 924.0 L839.1 925.2 L839.1 926.4 L839.2 927.7 L839.3 928.9 L839.4 930.1 L839.4 931.3 L839.5 932.5 L839.6 933.7 L839.7 934.9 L839.8 936.1 L839.9 937.3 L840.0 938.5 L840.1 939.7 L840.2 940.9 L840.3 942.1 L840.4 943.3 L840.5 944.5 L840.7 945.7 L840.8 946.9 L840.9 948.1 L841.0 949.3 L841.2 950.5 L841.3 951.7 L841.5 952.9 L841.6 954.0 L841.8 955.2 L841.9 956.4 L842.1 957.6 L842.3 958.9 L842.5 960.4 L842.8 961.9 L843.1 963.5 L843.4 965.0 L843.7 966.5 L844.0 968.0 L844.4 969.3 L844.7 970.5 L845.0 971.4 L845.4 972.2 L845.7 972.7 L846.0 972.9 L846.3 972.7 L846.5 972.2 L846.8 971.4 L847.1 970.3 L847.4 968.9 L847.7 967.5 L848.0 966.0 L848.2 964.4 L848.5 962.9 L848.7 961.4 L849.0 960.1 L849.2 959.0 L849.4 957.8 L849.6 956.6 L849.8 955.4 L850.0 954.2 L850.2 953.0 L850.4 951.8 L850.6 950.6 L850.8 949.5 L851.0 948.3 L851.1 947.1 L851.3 945.9 L851.5 944.7 L851.7 943.5 L851.8 942.3 L852.0 941.1 L852.2 939.9 L852.4 938.7 L852.6 937.5 L852.8 936.4 L853.0 935.2 L853.2 934.0 L853.4 932.8 L853.6 931.6 L853.8 930.4 L854.0 929.2 L854.2 928.1 L854.4 926.9 L854.7 925.7 L854.9 924.5 L855.1 923.3 L855.3 922.1 L855.5 921.0 L855.8 919.8 L856.0 918.6 L856.2 917.4 L856.4 916.2 L856.6 915.0 L856.9 913.9 L857.1 912.7 L857.3 911.5 L857.5 910.3 L857.7 909.1 L858.0 907.9 L858.2 906.8 L858.4 905.6 L858.6 904.4 L858.8 903.2 L859.0 902.0 L859.2 900.8 L859.4 899.6 L859.6 898.5 L859.8 897.3 L860.0 896.1 L860.2 894.9 L860.4 893.7 L860.6 892.5 L860.8 891.3 L861.0 890.1 L861.2 889.0 L861.4 887.8 L861.6 886.6 L861.8 885.4 L862.0 884.2 L862.2 883.0 L862.4 881.8 L862.6 880.6 L862.9 879.5 L863.1 878.3 L863.3 877.1 L863.5 875.9 L863.7 874.7 L863.9 873.5 L864.1 872.4 L864.4 871.2 L864.6 870.0 L864.8 868.8 L865.1 867.6 L865.3 866.5 L865.6 865.3 L865.8 864.1 L866.1 862.9 L866.3 861.7 L866.6 860.6 L866.9 859.4 L867.1 858.2 L867.4 857.1 L867.7 855.9 L867.9 854.7 L868.2 853.5 L868.5 852.4 L868.8 851.2 L869.1 850.0 L869.3 848.9 L869.6 847.7 L869.9 846.5 L870.2 845.3 L870.5 844.2 L870.8 843.0 L871.1 841.8 L871.3 840.7 L871.6 839.5 L871.9 838.3 L872.2 837.2 L872.5 836.0 L872.7 834.8 L873.0 833.6 L873.3 832.5 L873.6 831.3 L873.9 830.1 L874.2 829.0 L874.5 827.8 L874.7 826.6 L875.0 825.5 L875.3 824.3 L875.6 823.1 L875.9 822.0 L876.2 820.8 L876.5 819.6 L876.8 818.5 L877.1 817.3 L877.4 816.1 L877.7 815.0 L878.1 813.8 L878.4 812.6 L878.7 811.5 L879.0 810.3 L879.3 809.2 L879.7 808.0 L880.0 806.8 L880.3 805.7 L880.7 804.5 L881.0 803.4 L881.3 802.2 L881.7 801.1 L882.0 799.9 L882.4 798.8 L882.7 797.6 L883.1 796.5 L883.4 795.3 L883.8 794.2 L884.2 793.0 L884.5 791.9 L884.9 790.7 L885.3 789.6 L885.7 788.4 L886.1 787.3 L886.5 786.2 L886.9 785.0 L887.3 783.9 L887.7 782.8 L888.1 781.6 L888.5 780.5 L888.9 779.4 L889.4 778.2 L889.8 777.1 L890.2 776.0 L890.7 774.9 L891.1 773.8 L891.5 772.6 L892.0 771.5 L892.4 770.4 L892.9 769.3 L893.4 768.2 L893.8 767.1 L894.3 766.0 L894.8 764.8 L895.3 763.7 L895.8 762.6 L896.3 761.6 L896.8 760.5 L897.3 759.4 L897.8 758.3 L898.4 757.2 L899.0 756.2 L899.5 755.1 L900.1 754.1 L900.7 753.1 L901.4 752.0 L902.0 751.0 L902.6 750.0 L903.2 748.9 L903.9 747.9 L904.5 746.9 L905.1 745.8 L905.7 744.8 L906.3 743.7 L906.9 742.7 L907.5 741.6 L908.0 740.6 L908.6 739.5 L909.2 738.5 L909.9 737.5 L910.5 736.5 L911.2 735.5 L911.9 734.4 L912.6 733.4 L913.3 732.4 L914.0 731.4 L914.8 730.5 L915.5 729.5 L916.3 728.6 L917.1 727.8 L918.0 727.0 L918.9 726.2 L919.8 725.4 L920.8 724.6 L921.8 723.9 L922.9 723.3 L924.0 722.8 L925.1 722.5 L926.4 722.3 L927.9 722.1 L928.9 722.0 L929.3 722.1 L929.6 722.6 L929.8 723.5 L930.0 724.7 L930.2 726.2 L930.3 728.0 L930.3 730.0 M930.8 722.0 L930.8 723.2 L930.8 724.4 L930.8 725.6 L930.8 726.8 L930.9 728.0 L930.9 729.2 L930.9 730.4 L930.9 731.6 L930.9 732.8 L930.9 734.0 L930.9 735.3 L931.0 736.5 L931.0 737.7 L931.0 738.9 L931.0 740.1 L931.0 741.3 L931.0 742.5 L931.0 743.7 L931.1 744.9 L931.1 746.1 L931.1 747.3 L931.1 748.5 L931.1 749.7 L931.1 750.9 L931.2 752.1 L931.2 753.3 L931.2 754.5 L931.2 755.7 L931.2 756.9 L931.2 758.1 L931.3 759.3 L931.3 760.6 L931.3 761.8 L931.3 763.0 L931.3 764.2 L931.3 765.4 L931.4 766.6 L931.4 767.8 L931.4 769.0 L931.4 770.2 L931.4 771.4 L931.5 772.6 L931.5 773.8 L931.5 775.0 L931.5 776.2 L931.5 777.4 L931.6 778.6 L931.6 779.8 L931.6 781.0 L931.6 782.2 L931.6 783.4 L931.7 784.6 L931.7 785.8 L931.7 787.1 L931.7 788.3 L931.8 789.5 L931.8 790.7 L931.8 791.9 L931.8 793.1 L931.8 794.3 L931.9 795.5 L931.9 796.7 L931.9 797.9 L931.9 799.1 L931.9 800.3 L932.0 801.5 L932.0 802.7 L932.0 803.9 L932.0 805.1 L932.1 806.3 L932.1 807.5 L932.1 808.7 L932.1 809.9 L932.2 811.1 L932.2 812.3 L932.2 813.6 L932.2 814.8 L932.3 816.0 L932.3 817.2 L932.3 818.4 L932.3 819.6 L932.4 820.8 L932.4 822.0 L932.4 823.2 L932.4 824.4 L932.5 825.6 L932.5 826.8 L932.5 828.0 L932.5 829.2 L932.6 830.4 L932.6 831.6 L932.6 832.8 L932.6 834.0 L932.7 835.2 L932.7 836.4 L932.7 837.6 L932.8 838.9 L932.8 840.1 L932.8 841.3 L932.8 842.5 L932.9 843.7 L932.9 844.9 L932.9 846.1 L933.0 847.3 L933.0 848.5 L933.0 849.7 L933.1 850.9 L933.1 852.1 L933.1 853.3 L933.2 854.5 L933.2 855.7 L933.2 856.9 L933.3 858.1 L933.3 859.3 L933.3 860.5 L933.4 861.7 L933.4 862.9 L933.4 864.1 L933.5 865.4 L933.5 866.6 L933.5 867.8 L933.6 869.0 L933.6 870.2 L933.7 871.4 L933.7 872.6 L933.7 873.8 L933.8 875.0 L933.8 876.2 L933.9 877.4 L933.9 878.6 L933.9 879.8 L934.0 881.0 L934.0 882.2 L934.1 883.4 L934.1 884.6 L934.2 885.8 L934.2 887.0 L934.3 888.2 L934.3 889.4 L934.4 890.6 L934.4 891.8 L934.5 893.0 L934.5 894.2 L934.6 895.4 L934.7 896.6 L934.7 897.8 L934.8 899.1 L934.8 900.3 L934.9 901.5 L935.0 902.7 L935.1 903.9 L935.1 905.1 L935.2 906.3 L935.3 907.5 L935.4 908.7 L935.4 909.9 L935.5 911.1 L935.6 912.3 L935.7 913.5 L935.8 914.7 L935.8 915.9 L935.9 917.1 L936.0 918.3 L936.1 919.5 L936.2 920.7 L936.3 921.9 L936.3 923.1 L936.4 924.3 L936.5 925.5 L936.6 926.7 L936.7 927.9 L936.8 929.1 L936.9 930.3 L937.0 931.5 L937.0 932.7 L937.1 933.9 L937.2 935.1 L937.3 936.3 L937.4 937.5 L937.5 938.7 L937.6 939.9 L937.7 941.1 L937.8 942.3 L937.9 943.5 L938.0 944.7 L938.1 945.9 L938.3 947.1 L938.4 948.3 L938.5 949.5 L938.7 950.7 L938.9 952.2 L939.1 953.7 L939.3 955.3 L939.5 956.8 L939.7 958.3 L940.0 959.5 L940.2 960.6 L940.5 961.3 L940.7 961.7 L941.0 961.5 L941.3 960.8 L941.6 959.6 L941.9 958.2 L942.1 956.6 L942.4 955.1 L942.6 953.8 L942.8 952.6 L943.0 951.4 L943.2 950.3 L943.4 949.1 L943.5 947.9 L943.7 946.7 L943.8 945.5 L944.0 944.3 L944.1 943.1 L944.2 941.9 L944.4 940.7 L944.5 939.5 L944.7 938.3 L944.8 937.1 L944.9 935.9 L945.1 934.7 L945.2 933.5 L945.4 932.3 L945.5 931.1 L945.6 929.9 L945.8 928.7 L945.9 927.5 L946.0 926.3 L946.1 925.1 L946.3 923.9 L946.4 922.7 L946.5 921.5 L946.7 920.3 L946.8 919.1 L946.9 917.9 L947.0 916.7 L947.2 915.5 L947.3 914.3 L947.4 913.1 L947.6 911.9 L947.7 910.7 L947.9 909.6 L948.0 908.4 L948.1 907.2 L948.3 906.0 L948.4 904.8 L948.6 903.6 L948.7 902.4 L948.9 901.2 L949.0 900.0 L949.2 898.8 L949.4 897.6 L949.5 896.4 L949.7 895.2 L949.8 894.0 L950.0 892.8 L950.2 891.6 L950.3 890.4 L950.5 889.2 L950.6 888.0 L950.8 886.9 L951.0 885.7 L951.1 884.5 L951.3 883.3 L951.5 882.1 L951.6 880.9 L951.8 879.7 L952.0 878.5 L952.2 877.3 L952.3 876.1 L952.5 874.9 L952.7 873.7 L952.9 872.5 L953.0 871.3 L953.2 870.2 L953.4 869.0 L953.6 867.8 L953.8 866.6 L953.9 865.4 L954.1 864.2 L954.3 863.0 L954.5 861.8 L954.7 860.6 L954.9 859.4 L955.1 858.3 L955.2 857.1 L955.4 855.9 L955.6 854.7 L955.8 853.5 L956.0 852.3 L956.2 851.1 L956.4 849.9 L956.6 848.7 L956.8 847.5 L957.0 846.4 L957.1 845.2 L957.3 844.0 L957.5 842.8 L957.7 841.6 L957.9 840.4 L958.1 839.2 L958.3 838.0 L958.5 836.8 L958.7 835.6 L958.9 834.5 L959.1 833.3 L959.3 832.1 L959.5 830.9 L959.7 829.7 L959.9 828.5 L960.1 827.3 L960.3 826.1 L960.5 825.0 L960.7 823.8 L960.9 822.6 L961.1 821.4 L961.3 820.2 L961.5 819.0 L961.7 817.8 L961.9 816.6 L962.2 815.5 L962.4 814.3 L962.6 813.1 L962.8 811.9 L963.0 810.7 L963.2 809.5 L963.5 808.4 L963.7 807.2 L963.9 806.0 L964.1 804.8 L964.4 803.6 L964.6 802.4 L964.8 801.3 L965.0 800.1 L965.3 798.9 L965.5 797.7 L965.7 796.5 L965.9 795.3 L966.2 794.2 L966.4 793.0 L966.6 791.8 L966.9 790.6 L967.1 789.4 L967.3 788.2 L967.6 787.1 L967.8 785.9 L968.1 784.7 L968.3 783.5 L968.6 782.3 L968.8 781.2 L969.1 780.0 L969.4 778.8 L969.6 777.6 L969.9 776.5 L970.2 775.3 L970.5 774.1 L970.7 773.0 L971.0 771.8 L971.3 770.6 L971.6 769.4 L971.9 768.3 L972.2 767.1 L972.5 765.9 L972.8 764.8 L973.1 763.6 L973.5 762.5 L973.8 761.3 L974.1 760.1 L974.4 759.0 L974.7 757.8 L975.0 756.6 L975.4 755.5 L975.7 754.3 L976.0 753.2 L976.4 752.0 L976.8 750.9 L977.1 749.7 L977.5 748.6 L977.9 747.5 L978.4 746.3 L978.8 745.2 L979.3 744.1 L979.8 743.0 L980.2 741.9 L980.7 740.8 L981.2 739.7 L981.6 738.5 L982.0 737.4 L982.5 736.3 L982.9 735.2 L983.3 734.0 L983.8 732.9 L984.2 731.8 L984.7 730.7 L985.2 729.6 L985.7 728.5 L986.1 727.4 L986.6 726.3 L987.1 725.2 L987.6 724.1 L988.1 723.0 L988.6 721.9 L989.1 720.8 L989.7 719.7 L990.2 718.6 L990.7 717.5 L991.3 716.5 L991.8 715.4 L992.4 714.3 L993.0 713.3 L993.5 712.2 L994.1 711.2 L994.7 710.1 L995.3 709.1 L995.9 708.0 L996.5 707.0 L997.1 706.0 L997.8 704.9 L998.4 703.9 L999.0 702.8 L999.6 701.8 L1000.3 700.8 L1000.9 699.7 L1001.6 698.7 L1002.2 697.7 L1002.9 696.7 L1003.6 695.7 L1004.3 694.7 L1005.0 693.8 L1005.8 692.8 L1006.5 691.9 L1007.3 691.0 L1008.1 690.1 L1008.9 689.2 L1009.8 688.3 L1010.7 687.4 L1011.6 686.6 L1012.6 685.9 L1013.5 685.3 L1014.6 684.7 L1015.7 684.1 L1016.9 683.6 L1018.0 683.3 L1019.0 683.4 L1020.1 684.3 L1020.8 685.4 L1021.1 686.5 L1021.2 687.5 L1021.3 688.6 L1021.4 689.8 L1021.5 691.0 L1021.6 692.3 L1021.6 693.6 L1021.6 695.0 M1021.9 690.0 L1021.9 691.2 L1021.9 692.4 L1021.9 693.6 L1021.9 694.8 L1021.9 696.0 L1021.9 697.2 L1022.0 698.4 L1022.0 699.6 L1022.0 700.8 L1022.0 702.0 L1022.0 703.2 L1022.0 704.4 L1022.0 705.6 L1022.0 706.8 L1022.0 708.0 L1022.0 709.2 L1022.1 710.4 L1022.1 711.6 L1022.1 712.9 L1022.1 714.1 L1022.1 715.3 L1022.1 716.5 L1022.1 717.7 L1022.1 718.9 L1022.2 720.1 L1022.2 721.3 L1022.2 722.5 L1022.2 723.7 L1022.2 724.9 L1022.2 726.1 L1022.2 727.3 L1022.3 728.5 L1022.3 729.7 L1022.3 730.9 L1022.3 732.1 L1022.3 733.3 L1022.3 734.5 L1022.3 735.7 L1022.4 736.9 L1022.4 738.1 L1022.4 739.3 L1022.4 740.5 L1022.4 741.7 L1022.4 742.9 L1022.5 744.1 L1022.5 745.3 L1022.5 746.5 L1022.5 747.7 L1022.5 748.9 L1022.6 750.1 L1022.6 751.3 L1022.6 752.5 L1022.6 753.7 L1022.6 754.9 L1022.7 756.1 L1022.7 757.3 L1022.7 758.5 L1022.7 759.7 L1022.7 761.0 L1022.7 762.2 L1022.8 763.4 L1022.8 764.6 L1022.8 765.8 L1022.8 767.0 L1022.9 768.2 L1022.9 769.4 L1022.9 770.6 L1022.9 771.8 L1022.9 773.0 L1023.0 774.2 L1023.0 775.4 L1023.0 776.6 L1023.0 777.8 L1023.0 779.0 L1023.1 780.2 L1023.1 781.4 L1023.1 782.6 L1023.1 783.8 L1023.2 785.0 L1023.2 786.2 L1023.2 787.4 L1023.2 788.6 L1023.2 789.8 L1023.3 791.0 L1023.3 792.2 L1023.3 793.4 L1023.3 794.6 L1023.4 795.8 L1023.4 797.0 L1023.4 798.2 L1023.4 799.4 L1023.5 800.6 L1023.5 801.8 L1023.5 803.0 L1023.5 804.2 L1023.5 805.4 L1023.6 806.6 L1023.6 807.8 L1023.6 809.0 L1023.6 810.2 L1023.7 811.4 L1023.7 812.7 L1023.7 813.9 L1023.7 815.1 L1023.8 816.3 L1023.8 817.5 L1023.8 818.7 L1023.9 819.9 L1023.9 821.1 L1023.9 822.3 L1023.9 823.5 L1024.0 824.7 L1024.0 825.9 L1024.0 827.1 L1024.1 828.3 L1024.1 829.5 L1024.1 830.7 L1024.1 831.9 L1024.2 833.1 L1024.2 834.3 L1024.2 835.5 L1024.3 836.7 L1024.3 837.9 L1024.3 839.1 L1024.4 840.3 L1024.4 841.5 L1024.4 842.7 L1024.5 843.9 L1024.5 845.1 L1024.5 846.3 L1024.6 847.5 L1024.6 848.7 L1024.7 849.9 L1024.7 851.1 L1024.7 852.3 L1024.8 853.5 L1024.8 854.7 L1024.9 855.9 L1024.9 857.1 L1024.9 858.3 L1025.0 859.5 L1025.0 860.7 L1025.1 861.9 L1025.1 863.1 L1025.1 864.3 L1025.2 865.5 L1025.2 866.7 L1025.3 868.0 L1025.3 869.2 L1025.4 870.4 L1025.4 871.6 L1025.5 872.8 L1025.5 874.0 L1025.6 875.2 L1025.6 876.4 L1025.7 877.6 L1025.7 878.8 L1025.8 880.0 L1025.8 881.2 L1025.9 882.4 L1026.0 883.6 L1026.0 884.8 L1026.1 886.0 L1026.2 887.2 L1026.2 888.4 L1026.3 889.6 L1026.4 890.8 L1026.4 892.0 L1026.5 893.2 L1026.6 894.4 L1026.7 895.6 L1026.8 896.8 L1026.8 898.0 L1026.9 899.2 L1027.0 900.4 L1027.1 901.6 L1027.2 902.8 L1027.3 904.0 L1027.3 905.2 L1027.4 906.4 L1027.5 907.6 L1027.6 908.8 L1027.7 910.0 L1027.8 911.2 L1027.9 912.4 L1028.0 913.6 L1028.1 914.8 L1028.1 916.0 L1028.2 917.2 L1028.3 918.4 L1028.4 919.6 L1028.5 920.8 L1028.6 922.0 L1028.7 923.2 L1028.8 924.4 L1028.8 925.6 L1028.9 926.8 L1029.0 928.0 L1029.1 929.2 L1029.2 930.4 L1029.3 931.6 L1029.4 932.8 L1029.5 934.0 L1029.6 935.2 L1029.8 936.4 L1029.9 937.6 L1030.0 938.7 L1030.2 939.9 L1030.4 941.2 L1030.6 942.7 L1030.8 944.3 L1031.1 945.8 L1031.3 947.2 L1031.6 948.3 L1031.9 949.0 L1032.1 949.2 L1032.4 948.8 L1032.7 947.8 L1033.0 946.4 L1033.3 944.9 L1033.6 943.4 L1033.8 942.0 L1034.0 940.8 L1034.2 939.7 L1034.4 938.5 L1034.5 937.3 L1034.7 936.1 L1034.8 934.9 L1035.0 933.7 L1035.1 932.5 L1035.3 931.3 L1035.4 930.1 L1035.5 928.9 L1035.7 927.7 L1035.8 926.5 L1035.9 925.3 L1036.1 924.1 L1036.2 922.9 L1036.3 921.7 L1036.4 920.5 L1036.6 919.4 L1036.7 918.2 L1036.8 917.0 L1036.9 915.8 L1037.0 914.6 L1037.2 913.4 L1037.3 912.2 L1037.4 911.0 L1037.5 909.8 L1037.6 908.6 L1037.7 907.4 L1037.9 906.2 L1038.0 905.0 L1038.1 903.8 L1038.2 902.6 L1038.3 901.4 L1038.5 900.2 L1038.6 899.0 L1038.7 897.8 L1038.8 896.6 L1039.0 895.4 L1039.1 894.2 L1039.2 893.0 L1039.4 891.8 L1039.5 890.6 L1039.6 889.4 L1039.8 888.2 L1039.9 887.1 L1040.0 885.9 L1040.2 884.7 L1040.3 883.5 L1040.5 882.3 L1040.6 881.1 L1040.7 879.9 L1040.9 878.7 L1041.0 877.5 L1041.2 876.3 L1041.3 875.1 L1041.4 873.9 L1041.6 872.7 L1041.7 871.5 L1041.9 870.3 L1042.0 869.1 L1042.1 867.9 L1042.3 866.7 L1042.4 865.6 L1042.6 864.4 L1042.7 863.2 L1042.9 862.0 L1043.0 860.8 L1043.2 859.6 L1043.3 858.4 L1043.5 857.2 L1043.6 856.0 L1043.8 854.8 L1043.9 853.6 L1044.1 852.4 L1044.2 851.2 L1044.4 850.0 L1044.5 848.8 L1044.7 847.7 L1044.8 846.5 L1045.0 845.3 L1045.1 844.1 L1045.3 842.9 L1045.4 841.7 L1045.6 840.5 L1045.7 839.3 L1045.9 838.1 L1046.0 836.9 L1046.1 835.7 L1046.3 834.5 L1046.4 833.3 L1046.6 832.1 L1046.7 830.9 L1046.9 829.8 L1047.0 828.6 L1047.2 827.4 L1047.3 826.2 L1047.5 825.0 L1047.6 823.8 L1047.8 822.6 L1047.9 821.4 L1048.1 820.2 L1048.2 819.0 L1048.4 817.8 L1048.5 816.6 L1048.7 815.4 L1048.8 814.2 L1049.0 813.0 L1049.1 811.9 L1049.3 810.7 L1049.4 809.5 L1049.6 808.3 L1049.7 807.1 L1049.9 805.9 L1050.0 804.7 L1050.2 803.5 L1050.3 802.3 L1050.5 801.1 L1050.7 799.9 L1050.8 798.7 L1051.0 797.5 L1051.1 796.3 L1051.3 795.2 L1051.4 794.0 L1051.6 792.8 L1051.8 791.6 L1051.9 790.4 L1052.1 789.2 L1052.2 788.0 L1052.4 786.8 L1052.6 785.6 L1052.7 784.4 L1052.9 783.2 L1053.0 782.0 L1053.2 780.9 L1053.4 779.7 L1053.5 778.5 L1053.7 777.3 L1053.8 776.1 L1054.0 774.9 L1054.2 773.7 L1054.3 772.5 L1054.5 771.3 L1054.7 770.1 L1054.8 768.9 L1055.0 767.7 L1055.1 766.5 L1055.3 765.4 L1055.4 764.2 L1055.6 763.0 L1055.7 761.8 L1055.9 760.6 L1056.0 759.4 L1056.2 758.2 L1056.4 757.0 L1056.5 755.8 L1056.7 754.6 L1056.9 753.4 L1057.0 752.2 L1057.2 751.1 L1057.4 749.9 L1057.5 748.7 L1057.7 747.5 L1057.9 746.3 L1058.1 745.1 L1058.3 743.9 L1058.5 742.7 L1058.7 741.6 L1058.9 740.4 L1059.1 739.2 L1059.3 738.0 L1059.6 736.8 L1059.8 735.6 L1060.0 734.5 L1060.3 733.3 L1060.5 732.1 L1060.8 730.9 L1061.0 729.8 L1061.3 728.6 L1061.5 727.4 L1061.8 726.2 L1062.1 725.1 L1062.3 723.9 L1062.6 722.7 L1062.9 721.5 L1063.2 720.4 L1063.4 719.2 L1063.7 718.0 L1064.0 716.9 L1064.3 715.7 L1064.6 714.5 L1064.9 713.4 L1065.2 712.2 L1065.5 711.0 L1065.8 709.9 L1066.1 708.7 L1066.4 707.6 L1066.7 706.4 L1067.1 705.2 L1067.4 704.1 L1067.7 702.9 L1068.1 701.8 L1068.4 700.6 L1068.8 699.5 L1069.1 698.3 L1069.4 697.2 L1069.8 696.0 L1070.2 694.9 L1070.5 693.7 L1070.9 692.6 L1071.2 691.4 L1071.6 690.3 L1072.0 689.1 L1072.4 688.0 L1072.7 686.8 L1073.1 685.7 L1073.5 684.5 L1073.9 683.4 L1074.2 682.3 L1074.6 681.1 L1075.0 680.0 L1075.4 678.8 L1075.8 677.7 L1076.2 676.6 L1076.6 675.4 L1077.0 674.3 L1077.4 673.2 L1077.9 672.0 L1078.3 670.9 L1078.7 669.8 L1079.2 668.7 L1079.6 667.6 L1080.1 666.5 L1080.6 665.4 L1081.0 664.3 L1081.5 663.2 L1082.0 662.1 L1082.5 660.9 L1083.0 659.8 L1083.5 658.7 L1084.0 657.6 L1084.5 656.5 L1085.1 655.4 L1085.6 654.4 L1086.2 653.3 L1086.7 652.2 L1087.3 651.2 L1087.9 650.1 L1088.5 649.1 L1089.1 648.1 L1089.7 647.1 L1090.4 646.1 L1091.1 645.1 L1091.7 644.1 L1092.4 643.0 L1093.2 642.0 L1093.9 641.0 L1094.7 640.0 L1095.5 639.1 L1096.3 638.2 L1097.1 637.3 L1098.0 636.5 L1098.9 635.8 L1099.8 635.1 L1100.8 634.5 L1102.0 633.9 L1103.1 633.4 L1104.2 633.3 L1105.4 633.7 L1106.5 634.6 L1107.3 635.5 L1107.6 636.5 L1107.8 637.4 L1107.9 638.5 L1108.1 639.6 L1108.2 640.8 L1108.2 642.1 L1108.3 643.5 L1108.3 645.0 M1138.0 736.9 L1138.2 735.7 L1138.3 734.5 L1138.4 733.3 L1138.6 732.2 L1138.7 731.0 L1138.9 729.8 L1139.1 728.6 L1139.2 727.4 L1139.4 726.2 L1139.6 725.0 L1139.8 723.8 L1139.9 722.6 L1140.1 721.4 L1140.3 720.2 L1140.5 719.0 L1140.7 717.9 L1140.9 716.7 L1141.1 715.5 L1141.3 714.3 L1141.5 713.1 L1141.7 711.9 L1141.9 710.7 L1142.1 709.5 L1142.3 708.4 L1142.5 707.2 L1142.7 706.0 L1142.9 704.8 L1143.1 703.6 L1143.3 702.4 L1143.5 701.2 L1143.8 700.1 L1144.0 698.9 L1144.2 697.7 L1144.4 696.5 L1144.7 695.3 L1144.9 694.1 L1145.1 693.0 L1145.4 691.8 L1145.6 690.6 L1145.8 689.4 L1146.1 688.2 L1146.3 687.1 L1146.5 685.9 L1146.8 684.7 L1147.0 683.5 L1147.2 682.3 L1147.5 681.2 L1147.7 680.0 L1148.0 678.8 L1148.2 677.6 L1148.4 676.4 L1148.7 675.3 L1148.9 674.1 L1149.2 672.9 L1149.4 671.7 L1149.7 670.5 L1149.9 669.4 L1150.2 668.2 L1150.4 667.0 L1150.7 665.8 L1150.9 664.7 L1151.2 663.5 L1151.4 662.3 L1151.7 661.1 L1152.0 660.0 L1152.2 658.8 L1152.5 657.6 L1152.7 656.4 L1153.0 655.3 L1153.3 654.1 L1153.5 652.9 L1153.8 651.7 L1154.1 650.6 L1154.4 649.4 L1154.6 648.2 L1154.9 647.0 L1155.2 645.9 L1155.5 644.7 L1155.8 643.5 L1156.0 642.4 L1156.3 641.2 L1156.6 640.0 L1156.9 638.9 L1157.2 637.7 L1157.5 636.5 L1157.7 635.3 L1158.0 634.2 L1158.3 633.0 L1158.6 631.8 L1158.9 630.7 L1159.2 629.5 L1159.5 628.3 L1159.8 627.2 L1160.2 626.0 L1160.5 624.8 L1160.8 623.7 L1161.1 622.5 L1161.4 621.4 L1161.8 620.2 L1162.1 619.1 L1162.4 617.9 L1162.8 616.7 L1163.1 615.6 L1163.5 614.4 L1163.8 613.3 L1164.2 612.2 L1164.6 611.0 L1164.9 609.9 L1165.3 608.7 L1165.7 607.6 L1166.1 606.4 L1166.5 605.3 L1166.9 604.1 L1167.3 603.0 L1167.7 601.9 L1168.1 600.7 L1168.5 599.6 L1168.9 598.5 L1169.4 597.3 L1169.8 596.2 L1170.3 595.1 L1170.7 594.0 L1171.2 592.9 L1171.7 591.8 L1172.1 590.7 L1172.6 589.6 L1173.1 588.5 L1173.6 587.3 L1174.1 586.2 L1174.6 585.1 L1175.1 584.0 L1175.7 582.9 L1176.3 581.8 L1176.8 580.7 L1177.4 579.7 L1178.1 578.7 L1178.7 577.7 L1179.4 576.8 L1180.1 575.9 L1180.9 574.9 L1181.8 573.9 L1182.8 572.9 L1183.8 572.0 L1184.8 571.4 L1185.7 571.0 L1186.7 571.2 L1187.7 572.0 L1188.6 573.1 L1189.0 574.1 L1189.1 575.1 L1189.2 576.2 L1189.2 577.3 L1189.3 578.4 L1189.3 579.6 L1189.4 580.9 L1189.4 582.2 L1189.4 583.6 L1189.4 585.0 M1213.6 737.8 L1213.6 736.6 L1213.7 735.4 L1213.8 734.2 L1213.9 733.0 L1214.0 731.8 L1214.1 730.6 L1214.2 729.4 L1214.3 728.2 L1214.4 727.0 L1214.4 725.8 L1214.5 724.6 L1214.6 723.4 L1214.7 722.2 L1214.8 721.0 L1214.8 719.8 L1214.9 718.6 L1215.0 717.4 L1215.1 716.2 L1215.2 715.0 L1215.3 713.8 L1215.3 712.6 L1215.4 711.4 L1215.5 710.2 L1215.6 709.0 L1215.6 707.8 L1215.7 706.6 L1215.8 705.4 L1215.9 704.2 L1216.0 703.0 L1216.1 701.8 L1216.1 700.6 L1216.2 699.4 L1216.3 698.2 L1216.4 697.0 L1216.5 695.8 L1216.6 694.6 L1216.6 693.4 L1216.7 692.2 L1216.8 691.0 L1216.9 689.8 L1217.0 688.6 L1217.1 687.4 L1217.2 686.2 L1217.3 685.0 L1217.4 683.8 L1217.5 682.6 L1217.6 681.5 L1217.7 680.3 L1217.8 679.1 L1217.9 677.9 L1218.0 676.7 L1218.1 675.5 L1218.2 674.3 L1218.3 673.1 L1218.4 671.9 L1218.5 670.7 L1218.6 669.5 L1218.7 668.3 L1218.9 667.1 L1219.0 665.9 L1219.1 664.7 L1219.2 663.5 L1219.4 662.3 L1219.5 661.1 L1219.6 659.9 L1219.7 658.7 L1219.9 657.5 L1220.0 656.3 L1220.1 655.1 L1220.3 654.0 L1220.4 652.8 L1220.6 651.6 L1220.7 650.4 L1220.8 649.2 L1221.0 648.0 L1221.1 646.8 L1221.3 645.6 L1221.4 644.4 L1221.6 643.2 L1221.7 642.0 L1221.9 640.8 L1222.0 639.6 L1222.2 638.4 L1222.3 637.2 L1222.5 636.0 L1222.7 634.9 L1222.8 633.7 L1223.0 632.5 L1223.1 631.3 L1223.3 630.1 L1223.5 628.9 L1223.6 627.7 L1223.8 626.5 L1224.0 625.3 L1224.1 624.1 L1224.3 622.9 L1224.5 621.7 L1224.6 620.6 L1224.8 619.4 L1225.0 618.2 L1225.2 617.0 L1225.3 615.8 L1225.5 614.6 L1225.7 613.4 L1225.9 612.2 L1226.0 611.0 L1226.2 609.9 L1226.4 608.7 L1226.6 607.5 L1226.8 606.3 L1226.9 605.1 L1227.1 603.9 L1227.3 602.7 L1227.5 601.5 L1227.7 600.4 L1227.9 599.2 L1228.1 598.0 L1228.3 596.8 L1228.4 595.6 L1228.6 594.4 L1228.8 593.2 L1229.0 592.0 L1229.2 590.9 L1229.4 589.7 L1229.6 588.5 L1229.8 587.3 L1230.1 586.1 L1230.3 584.9 L1230.5 583.7 L1230.7 582.6 L1230.9 581.4 L1231.1 580.2 L1231.4 579.0 L1231.6 577.8 L1231.8 576.6 L1232.0 575.5 L1232.3 574.3 L1232.5 573.1 L1232.8 571.9 L1233.0 570.8 L1233.3 569.6 L1233.5 568.4 L1233.8 567.2 L1234.0 566.1 L1234.3 564.9 L1234.5 563.7 L1234.8 562.5 L1235.1 561.4 L1235.4 560.2 L1235.7 559.1 L1236.0 557.9 L1236.4 556.8 L1236.8 555.6 L1237.1 554.5 L1237.5 553.3 L1237.8 552.1 L1238.1 551.0 L1238.3 549.8 L1238.6 548.6 L1238.8 547.4 L1239.0 546.3 L1239.1 545.1 L1239.3 543.9 L1239.5 542.7 L1239.7 541.5 L1239.9 540.3 L1240.2 539.2 L1240.5 538.0 L1240.7 536.8 L1241.0 535.7 L1241.3 534.5 L1241.7 533.4 L1242.0 532.2 L1242.3 531.1 L1242.7 529.9 L1243.1 528.8 L1243.4 527.6 L1243.8 526.5 L1244.2 525.3 L1244.6 524.2 L1245.0 523.0 L1245.4 521.9 L1245.9 520.8 L1246.3 519.6 L1246.7 518.5 L1247.1 517.4 L1247.6 516.3 L1248.0 515.1 L1248.4 514.0 L1248.9 512.9 L1249.3 511.8 L1249.7 510.7 L1250.2 509.5 L1250.6 508.4 L1251.0 507.2 L1251.4 506.1 L1251.9 504.9 L1252.3 503.7 L1252.7 502.5 L1253.2 501.3 L1253.6 500.1 L1254.1 499.0 L1254.6 497.9 L1255.1 496.8 L1255.6 495.7 L1256.2 494.7 L1256.8 493.7 L1257.4 492.8 L1258.1 491.9 L1258.9 491.1 L1259.8 490.2 L1260.9 489.3 L1262.0 488.7 L1263.0 488.3 L1264.0 488.5 L1265.1 489.3 L1265.8 490.5 L1266.0 491.5 L1266.1 492.5 L1266.2 493.6 L1266.2 494.8 L1266.3 496.0 L1266.3 497.2 L1266.3 498.6 L1266.3 500.0 M1285.4 737.6 L1285.5 736.4 L1285.6 735.2 L1285.7 734.0 L1285.7 732.8 L1285.8 731.6 L1285.9 730.4 L1286.0 729.2 L1286.0 728.0 L1286.1 726.8 L1286.2 725.6 L1286.3 724.4 L1286.3 723.2 L1286.4 722.0 L1286.5 720.8 L1286.6 719.6 L1286.6 718.4 L1286.7 717.2 L1286.8 716.0 L1286.9 714.8 L1286.9 713.6 L1287.0 712.4 L1287.1 711.2 L1287.2 710.0 L1287.3 708.8 L1287.3 707.6 L1287.4 706.4 L1287.5 705.1 L1287.6 703.9 L1287.6 702.7 L1287.7 701.5 L1287.8 700.3 L1287.9 699.1 L1288.0 697.9 L1288.0 696.7 L1288.1 695.5 L1288.2 694.3 L1288.3 693.1 L1288.3 691.9 L1288.4 690.7 L1288.5 689.5 L1288.6 688.3 L1288.7 687.1 L1288.7 685.9 L1288.8 684.7 L1288.9 683.5 L1289.0 682.3 L1289.1 681.1 L1289.1 679.9 L1289.2 678.7 L1289.3 677.5 L1289.4 676.3 L1289.4 675.1 L1289.5 673.9 L1289.6 672.7 L1289.7 671.5 L1289.8 670.3 L1289.8 669.1 L1289.9 667.9 L1290.0 666.7 L1290.1 665.5 L1290.1 664.3 L1290.2 663.1 L1290.3 661.9 L1290.4 660.7 L1290.5 659.5 L1290.5 658.3 L1290.6 657.1 L1290.7 655.9 L1290.8 654.7 L1290.8 653.5 L1290.9 652.3 L1291.0 651.1 L1291.1 649.9 L1291.1 648.7 L1291.2 647.5 L1291.3 646.3 L1291.4 645.1 L1291.5 643.9 L1291.5 642.7 L1291.6 641.5 L1291.7 640.3 L1291.8 639.1 L1291.8 637.9 L1291.9 636.7 L1292.0 635.5 L1292.1 634.3 L1292.1 633.1 L1292.2 631.9 L1292.3 630.7 L1292.4 629.5 L1292.4 628.3 L1292.5 627.1 L1292.6 625.9 L1292.7 624.7 L1292.7 623.5 L1292.8 622.3 L1292.9 621.1 L1293.0 619.9 L1293.1 618.7 L1293.1 617.5 L1293.2 616.3 L1293.3 615.1 L1293.4 613.9 L1293.4 612.7 L1293.5 611.5 L1293.6 610.3 L1293.7 609.1 L1293.7 607.9 L1293.8 606.7 L1293.9 605.5 L1294.0 604.3 L1294.0 603.1 L1294.1 601.9 L1294.2 600.7 L1294.3 599.5 L1294.4 598.3 L1294.4 597.1 L1294.5 595.9 L1294.6 594.7 L1294.7 593.5 L1294.7 592.3 L1294.8 591.1 L1294.9 589.9 L1295.0 588.7 L1295.0 587.5 L1295.1 586.3 L1295.2 585.1 L1295.3 583.9 L1295.3 582.7 L1295.4 581.5 L1295.5 580.3 L1295.5 579.1 L1295.6 577.9 L1295.7 576.7 L1295.8 575.5 L1295.8 574.3 L1295.9 573.1 L1296.0 571.9 L1296.0 570.7 L1296.1 569.5 L1296.2 568.3 L1296.3 567.1 L1296.3 565.9 L1296.4 564.7 L1296.5 563.5 L1296.5 562.3 L1296.6 561.1 L1296.7 559.9 L1296.7 558.7 L1296.8 557.5 L1296.9 556.3 L1296.9 555.1 L1297.0 553.9 L1297.1 552.7 L1297.1 551.5 L1297.2 550.3 L1297.2 549.1 L1297.3 547.9 L1297.4 546.7 L1297.4 545.5 L1297.5 544.3 L1297.5 543.1 L1297.6 541.9 L1297.7 540.7 L1297.8 539.5 L1297.9 538.3 L1298.0 537.1 L1298.1 535.9 L1298.3 534.7 L1298.4 533.5 L1298.5 532.3 L1298.7 531.1 L1298.9 529.9 L1299.0 528.7 L1299.2 527.5 L1299.4 526.4 L1299.5 525.2 L1299.7 524.0 L1299.9 522.8 L1300.1 521.6 L1300.2 520.4 L1300.4 519.2 L1300.6 518.0 L1300.8 516.8 L1300.9 515.6 L1301.1 514.4 L1301.2 513.2 L1301.4 512.0 L1301.5 510.9 L1301.7 509.7 L1301.8 508.5 L1302.0 507.3 L1302.1 506.1 L1302.3 504.9 L1302.4 503.7 L1302.6 502.5 L1302.7 501.3 L1302.9 500.1 L1303.1 498.9 L1303.2 497.7 L1303.4 496.5 L1303.5 495.3 L1303.7 494.1 L1303.9 493.0 L1304.0 491.8 L1304.2 490.6 L1304.4 489.4 L1304.6 488.2 L1304.8 487.0 L1305.0 485.8 L1305.2 484.6 L1305.4 483.5 L1305.6 482.3 L1305.8 481.1 L1306.0 479.9 L1306.3 478.7 L1306.5 477.6 L1306.8 476.4 L1307.0 475.2 L1307.2 474.0 L1307.5 472.8 L1307.7 471.7 L1308.0 470.5 L1308.2 469.3 L1308.5 468.1 L1308.7 466.9 L1308.9 465.8 L1309.2 464.6 L1309.4 463.4 L1309.6 462.2 L1309.9 461.1 L1310.1 459.9 L1310.4 458.7 L1310.6 457.5 L1310.8 456.3 L1311.1 455.2 L1311.3 454.0 L1311.6 452.8 L1311.8 451.6 L1312.1 450.5 L1312.4 449.3 L1312.6 448.1 L1312.9 446.9 L1313.1 445.8 L1313.4 444.6 L1313.7 443.4 L1314.0 442.3 L1314.3 441.1 L1314.6 439.9 L1314.9 438.8 L1315.2 437.6 L1315.4 436.4 L1315.7 435.3 L1316.0 434.1 L1316.3 432.9 L1316.6 431.8 L1316.9 430.6 L1317.2 429.4 L1317.5 428.3 L1317.8 427.1 L1318.1 425.9 L1318.4 424.8 L1318.7 423.6 L1319.0 422.4 L1319.3 421.3 L1319.6 420.1 L1319.9 418.9 L1320.1 417.8 L1320.4 416.6 L1320.7 415.4 L1321.0 414.3 L1321.3 413.1 L1321.6 411.9 L1321.9 410.8 L1322.2 409.6 L1322.5 408.4 L1322.8 407.3 L1323.2 406.1 L1323.5 404.9 L1323.8 403.8 L1324.1 402.6 L1324.4 401.5 L1324.8 400.3 L1325.1 399.2 L1325.4 398.0 L1325.7 396.8 L1326.1 395.7 L1326.4 394.5 L1326.7 393.4 L1327.1 392.2 L1327.4 391.1 L1327.7 389.9 L1328.1 388.7 L1328.4 387.6 L1328.7 386.4 L1329.1 385.3 L1329.4 384.1 L1329.8 383.0 L1330.2 381.8 L1330.6 380.7 L1331.0 379.6 L1331.4 378.5 L1331.9 377.3 L1332.3 376.1 L1332.8 374.9 L1333.3 373.8 L1333.9 372.8 L1334.6 371.9 L1335.5 371.1 L1336.6 370.5 L1337.5 370.8 L1338.3 371.8 L1338.8 373.2 L1339.0 374.4 L1339.1 375.5 L1339.2 376.6 L1339.3 377.8 L1339.3 379.0 L1339.4 380.2 L1339.4 381.4 L1339.4 382.7 L1339.4 384.0 M1354.2 737.3 L1354.3 736.1 L1354.3 734.9 L1354.3 733.7 L1354.4 732.5 L1354.4 731.3 L1354.5 730.1 L1354.5 728.9 L1354.6 727.7 L1354.6 726.5 L1354.7 725.3 L1354.7 724.1 L1354.7 722.9 L1354.8 721.7 L1354.8 720.5 L1354.9 719.3 L1354.9 718.1 L1355.0 716.9 L1355.0 715.7 L1355.0 714.5 L1355.1 713.3 L1355.1 712.1 L1355.2 710.9 L1355.2 709.7 L1355.3 708.5 L1355.3 707.3 L1355.3 706.1 L1355.4 704.9 L1355.4 703.7 L1355.5 702.5 L1355.5 701.3 L1355.5 700.1 L1355.6 698.9 L1355.6 697.7 L1355.7 696.5 L1355.7 695.3 L1355.7 694.1 L1355.8 692.9 L1355.8 691.7 L1355.9 690.5 L1355.9 689.3 L1355.9 688.1 L1356.0 686.9 L1356.0 685.7 L1356.0 684.5 L1356.1 683.3 L1356.1 682.1 L1356.2 680.9 L1356.2 679.7 L1356.2 678.5 L1356.3 677.3 L1356.3 676.1 L1356.4 674.9 L1356.4 673.7 L1356.4 672.4 L1356.5 671.2 L1356.5 670.0 L1356.5 668.8 L1356.6 667.6 L1356.6 666.4 L1356.7 665.2 L1356.7 664.0 L1356.7 662.8 L1356.8 661.6 L1356.8 660.4 L1356.9 659.2 L1356.9 658.0 L1356.9 656.8 L1357.0 655.6 L1357.0 654.4 L1357.1 653.2 L1357.1 652.0 L1357.1 650.8 L1357.2 649.6 L1357.2 648.4 L1357.3 647.2 L1357.3 646.0 L1357.3 644.8 L1357.4 643.6 L1357.4 642.4 L1357.5 641.2 L1357.5 640.0 L1357.6 638.8 L1357.6 637.6 L1357.6 636.4 L1357.7 635.2 L1357.7 634.0 L1357.8 632.8 L1357.8 631.6 L1357.9 630.4 L1357.9 629.2 L1357.9 628.0 L1358.0 626.8 L1358.0 625.6 L1358.1 624.4 L1358.1 623.2 L1358.2 622.0 L1358.2 620.8 L1358.3 619.6 L1358.3 618.4 L1358.4 617.2 L1358.4 616.0 L1358.5 614.8 L1358.5 613.6 L1358.5 612.4 L1358.6 611.2 L1358.6 610.0 L1358.7 608.8 L1358.7 607.6 L1358.8 606.4 L1358.8 605.2 L1358.9 604.0 L1358.9 602.8 L1359.0 601.6 L1359.1 600.4 L1359.1 599.2 L1359.2 598.0 L1359.2 596.8 L1359.3 595.6 L1359.3 594.4 L1359.4 593.2 L1359.4 592.0 L1359.5 590.8 L1359.5 589.6 L1359.6 588.4 L1359.7 587.2 L1359.7 586.0 L1359.8 584.8 L1359.8 583.6 L1359.9 582.4 L1359.9 581.2 L1360.0 580.0 L1360.1 578.8 L1360.1 577.6 L1360.2 576.4 L1360.3 575.2 L1360.3 574.0 L1360.4 572.8 L1360.4 571.6 L1360.5 570.4 L1360.6 569.2 L1360.6 568.0 L1360.7 566.8 L1360.8 565.6 L1360.8 564.4 L1360.9 563.2 L1361.0 562.0 L1361.0 560.8 L1361.1 559.6 L1361.2 558.4 L1361.3 557.2 L1361.3 556.0 L1361.4 554.8 L1361.5 553.6 L1361.6 552.4 L1361.6 551.2 L1361.7 550.0 L1361.8 548.8 L1361.9 547.6 L1362.0 546.4 L1362.1 545.2 L1362.2 544.0 L1362.3 542.8 L1362.5 541.6 L1362.6 540.4 L1362.7 539.2 L1362.8 538.0 L1363.0 536.8 L1363.1 535.6 L1363.2 534.4 L1363.3 533.2 L1363.4 532.0 L1363.5 530.8 L1363.5 529.6 L1363.6 528.4 L1363.7 527.2 L1363.8 526.0 L1363.8 524.8 L1363.9 523.6 L1364.0 522.4 L1364.0 521.2 L1364.1 520.0 L1364.2 518.8 L1364.2 517.6 L1364.3 516.4 L1364.4 515.2 L1364.4 514.0 L1364.5 512.8 L1364.5 511.6 L1364.6 510.4 L1364.7 509.2 L1364.7 508.0 L1364.8 506.8 L1364.8 505.6 L1364.9 504.4 L1364.9 503.2 L1365.0 502.0 L1365.0 500.8 L1365.1 499.6 L1365.1 498.4 L1365.2 497.2 L1365.2 496.0 L1365.3 494.8 L1365.4 493.6 L1365.4 492.4 L1365.5 491.2 L1365.5 490.0 L1365.6 488.8 L1365.6 487.6 L1365.7 486.4 L1365.8 485.2 L1365.8 484.0 L1365.9 482.8 L1366.0 481.6 L1366.0 480.4 L1366.1 479.2 L1366.2 478.0 L1366.2 476.8 L1366.3 475.6 L1366.4 474.4 L1366.5 473.2 L1366.6 472.0 L1366.6 470.8 L1366.7 469.6 L1366.8 468.4 L1366.9 467.2 L1367.0 466.0 L1367.1 464.8 L1367.2 463.6 L1367.3 462.4 L1367.4 461.2 L1367.6 460.1 L1367.7 458.9 L1367.8 457.7 L1367.9 456.5 L1368.0 455.3 L1368.2 454.1 L1368.3 452.9 L1368.4 451.7 L1368.5 450.5 L1368.7 449.3 L1368.8 448.1 L1368.9 446.9 L1369.1 445.7 L1369.2 444.5 L1369.3 443.3 L1369.4 442.1 L1369.6 440.9 L1369.7 439.7 L1369.8 438.5 L1369.9 437.3 L1370.1 436.1 L1370.2 434.9 L1370.3 433.7 L1370.4 432.6 L1370.5 431.4 L1370.6 430.2 L1370.8 429.0 L1370.9 427.8 L1371.0 426.6 L1371.1 425.4 L1371.2 424.2 L1371.4 423.0 L1371.5 421.8 L1371.6 420.6 L1371.7 419.4 L1371.8 418.2 L1371.9 417.0 L1372.1 415.8 L1372.2 414.6 L1372.3 413.4 L1372.4 412.2 L1372.5 411.0 L1372.6 409.8 L1372.8 408.6 L1372.9 407.4 L1373.0 406.2 L1373.1 405.0 L1373.2 403.8 L1373.3 402.6 L1373.5 401.4 L1373.6 400.3 L1373.7 399.1 L1373.8 397.9 L1373.9 396.7 L1374.1 395.5 L1374.2 394.3 L1374.3 393.1 L1374.4 391.9 L1374.5 390.7 L1374.7 389.5 L1374.8 388.3 L1374.9 387.1 L1375.0 385.9 L1375.1 384.7 L1375.3 383.5 L1375.4 382.3 L1375.5 381.1 L1375.6 379.9 L1375.8 378.7 L1375.9 377.5 L1376.0 376.3 L1376.1 375.1 L1376.3 374.0 L1376.4 372.8 L1376.5 371.6 L1376.7 370.4 L1376.8 369.2 L1376.9 368.0 L1377.1 366.8 L1377.2 365.6 L1377.3 364.4 L1377.4 363.2 L1377.6 362.0 L1377.7 360.8 L1377.8 359.6 L1378.0 358.4 L1378.1 357.2 L1378.2 356.0 L1378.4 354.8 L1378.5 353.6 L1378.6 352.4 L1378.8 351.3 L1378.9 350.1 L1379.1 348.9 L1379.2 347.7 L1379.3 346.5 L1379.5 345.3 L1379.6 344.1 L1379.7 342.9 L1379.9 341.7 L1380.0 340.5 L1380.2 339.3 L1380.3 338.1 L1380.4 336.9 L1380.6 335.7 L1380.7 334.5 L1380.8 333.3 L1381.0 332.1 L1381.1 331.0 L1381.3 329.8 L1381.4 328.6 L1381.6 327.4 L1381.7 326.2 L1381.8 325.0 L1382.0 323.8 L1382.1 322.6 L1382.3 321.4 L1382.4 320.2 L1382.6 319.0 L1382.7 317.8 L1382.9 316.6 L1383.0 315.4 L1383.2 314.2 L1383.3 313.1 L1383.5 311.9 L1383.6 310.7 L1383.7 309.5 L1383.9 308.3 L1384.0 307.1 L1384.2 305.9 L1384.4 304.7 L1384.5 303.5 L1384.7 302.3 L1384.8 301.1 L1385.0 299.9 L1385.1 298.7 L1385.3 297.6 L1385.4 296.4 L1385.6 295.2 L1385.7 294.0 L1385.9 292.8 L1386.0 291.6 L1386.2 290.4 L1386.4 289.2 L1386.5 288.0 L1386.7 286.8 L1386.8 285.6 L1387.0 284.5 L1387.2 283.3 L1387.3 282.1 L1387.5 280.9 L1387.6 279.7 L1387.8 278.5 L1388.0 277.3 L1388.1 276.1 L1388.3 274.9 L1388.5 273.7 L1388.6 272.5 L1388.8 271.4 L1389.0 270.2 L1389.1 269.0 L1389.3 267.8 L1389.5 266.6 L1389.6 265.4 L1389.8 264.2 L1390.0 263.0 L1390.1 261.8 L1390.3 260.6 L1390.5 259.4 L1390.7 258.3 L1390.8 257.1 L1391.0 255.9 L1391.2 254.7 L1391.3 253.5 L1391.5 252.3 L1391.7 251.1 L1391.9 249.9 L1392.1 248.7 L1392.2 247.6 L1392.4 246.4 L1392.6 245.2 L1392.8 244.0 L1393.0 242.8 L1393.2 241.6 L1393.3 240.4 L1393.5 239.2 L1393.7 238.0 L1393.9 236.9 L1394.1 235.7 L1394.3 234.5 L1394.5 233.3 L1394.7 232.1 L1394.9 230.9 L1395.1 229.7 L1395.2 228.6 L1395.4 227.4 L1395.6 226.2 L1395.8 225.0 L1396.0 223.8 L1396.2 222.6 L1396.4 221.5 L1396.7 220.3 L1396.9 219.1 L1397.1 217.9 L1397.3 216.7 L1397.5 215.5 L1397.7 214.3 L1397.9 213.2 L1398.1 212.0 L1398.3 210.8 L1398.5 209.6 L1398.7 208.4 L1399.0 207.2 L1399.2 206.1 L1399.4 204.9 L1399.6 203.7 L1399.8 202.5 L1400.1 201.3 L1400.3 200.1 L1400.5 199.0 L1400.8 197.8 L1401.0 196.6 L1401.3 195.4 L1401.5 194.3 L1401.8 193.1 L1402.1 191.9 L1402.3 190.7 L1402.6 189.6 L1402.9 188.4 L1403.2 187.2 L1403.5 186.0 L1403.8 184.6 L1404.1 183.1 L1404.4 181.7 L1404.8 180.6 L1405.2 180.0 L1405.6 180.2 L1406.2 181.1 L1406.8 182.5 L1407.3 183.9 L1407.5 185.2 L1407.6 186.3 L1407.7 187.5 L1407.8 188.7 L1407.9 189.9 L1408.0 191.1 L1408.0 192.3 L1408.1 193.5 L1408.1 194.7 L1408.1 196.0 M1420.2 737.7 L1420.3 736.5 L1420.3 735.2 L1420.3 734.0 L1420.4 732.8 L1420.4 731.6 L1420.4 730.4 L1420.5 729.2 L1420.5 728.0 L1420.5 726.8 L1420.6 725.6 L1420.6 724.4 L1420.6 723.2 L1420.7 722.0 L1420.7 720.8 L1420.7 719.6 L1420.8 718.4 L1420.8 717.2 L1420.8 716.0 L1420.9 714.8 L1420.9 713.6 L1420.9 712.4 L1421.0 711.2 L1421.0 710.0 L1421.0 708.8 L1421.0 707.6 L1421.1 706.4 L1421.1 705.2 L1421.1 704.0 L1421.2 702.8 L1421.2 701.6 L1421.2 700.4 L1421.2 699.2 L1421.3 698.0 L1421.3 696.8 L1421.3 695.6 L1421.4 694.4 L1421.4 693.2 L1421.4 692.0 L1421.4 690.8 L1421.5 689.6 L1421.5 688.4 L1421.5 687.2 L1421.5 686.0 L1421.6 684.8 L1421.6 683.6 L1421.6 682.4 L1421.6 681.2 L1421.7 680.0 L1421.7 678.8 L1421.7 677.6 L1421.7 676.4 L1421.8 675.2 L1421.8 674.0 L1421.8 672.8 L1421.8 671.6 L1421.9 670.4 L1421.9 669.2 L1421.9 668.0 L1421.9 666.8 L1422.0 665.6 L1422.0 664.4 L1422.0 663.2 L1422.0 662.0 L1422.0 660.8 L1422.1 659.6 L1422.1 658.4 L1422.1 657.2 L1422.1 656.0 L1422.2 654.7 L1422.2 653.5 L1422.2 652.3 L1422.2 651.1 L1422.2 649.9 L1422.3 648.7 L1422.3 647.5 L1422.3 646.3 L1422.3 645.1 L1422.4 643.9 L1422.4 642.7 L1422.4 641.5 L1422.4 640.3 L1422.4 639.1 L1422.5 637.9 L1422.5 636.7 L1422.5 635.5 L1422.5 634.3 L1422.5 633.1 L1422.6 631.9 L1422.6 630.7 L1422.6 629.5 L1422.6 628.3 L1422.7 627.1 L1422.7 625.9 L1422.7 624.7 L1422.7 623.5 L1422.7 622.3 L1422.8 621.1 L1422.8 619.9 L1422.8 618.7 L1422.8 617.5 L1422.8 616.3 L1422.9 615.1 L1422.9 613.9 L1422.9 612.7 L1422.9 611.5 L1422.9 610.3 L1423.0 609.1 L1423.0 607.9 L1423.0 606.7 L1423.0 605.5 L1423.1 604.3 L1423.1 603.1 L1423.1 601.9 L1423.1 600.7 L1423.1 599.5 L1423.2 598.3 L1423.2 597.1 L1423.2 595.9 L1423.2 594.7 L1423.3 593.5 L1423.3 592.3 L1423.3 591.1 L1423.3 589.9 L1423.3 588.7 L1423.4 587.4 L1423.4 586.2 L1423.4 585.0 L1423.4 583.8 L1423.5 582.6 L1423.5 581.4 L1423.5 580.2 L1423.5 579.0 L1423.6 577.8 L1423.6 576.6 L1423.6 575.4 L1423.6 574.2 L1423.6 573.0 L1423.7 571.8 L1423.7 570.6 L1423.7 569.4 L1423.7 568.2 L1423.8 567.0 L1423.8 565.8 L1423.8 564.6 L1423.9 563.4 L1423.9 562.2 L1423.9 561.0 L1423.9 559.8 L1424.0 558.6 L1424.0 557.4 L1424.0 556.2 L1424.0 555.0 L1424.1 553.8 L1424.1 552.6 L1424.1 551.4 L1424.1 550.2 L1424.2 549.0 L1424.2 547.8 L1424.2 546.6 L1424.3 545.4 L1424.3 544.2 L1424.3 543.0 L1424.3 541.8 L1424.4 540.6 L1424.4 539.4 L1424.4 538.2 L1424.5 537.0 L1424.5 535.8 L1424.5 534.6 L1424.6 533.4 L1424.6 532.2 L1424.6 531.0 L1424.6 529.8 L1424.7 528.6 L1424.7 527.4 L1424.7 526.2 L1424.8 525.0 L1424.8 523.8 L1424.8 522.6 L1424.8 521.4 L1424.9 520.2 L1424.9 519.0 L1424.9 517.8 L1425.0 516.6 L1425.0 515.4 L1425.0 514.2 L1425.1 512.9 L1425.1 511.7 L1425.1 510.5 L1425.2 509.3 L1425.2 508.1 L1425.2 506.9 L1425.2 505.7 L1425.3 504.5 L1425.3 503.3 L1425.3 502.1 L1425.4 500.9 L1425.4 499.7 L1425.4 498.5 L1425.5 497.3 L1425.5 496.1 L1425.5 494.9 L1425.6 493.7 L1425.6 492.5 L1425.6 491.3 L1425.7 490.1 L1425.7 488.9 L1425.8 487.7 L1425.8 486.5 L1425.8 485.3 L1425.9 484.1 L1425.9 482.9 L1425.9 481.7 L1426.0 480.5 L1426.0 479.3 L1426.0 478.1 L1426.1 476.9 L1426.1 475.7 L1426.2 474.5 L1426.2 473.3 L1426.2 472.1 L1426.3 470.9 L1426.3 469.7 L1426.3 468.5 L1426.4 467.3 L1426.4 466.1 L1426.5 464.9 L1426.5 463.7 L1426.6 462.5 L1426.6 461.3 L1426.6 460.1 L1426.7 458.9 L1426.7 457.7 L1426.8 456.5 L1426.8 455.3 L1426.9 454.1 L1426.9 452.9 L1427.0 451.7 L1427.0 450.5 L1427.0 449.3 L1427.1 448.1 L1427.1 446.9 L1427.2 445.7 L1427.2 444.5 L1427.3 443.3 L1427.3 442.1 L1427.4 440.9 L1427.4 439.7 L1427.5 438.5 L1427.5 437.3 L1427.6 436.1 L1427.6 434.9 L1427.7 433.7 L1427.7 432.5 L1427.8 431.3 L1427.8 430.1 L1427.9 428.9 L1427.9 427.7 L1428.0 426.5 L1428.0 425.3 L1428.1 424.1 L1428.1 422.9 L1428.2 421.7 L1428.2 420.5 L1428.3 419.3 L1428.3 418.1 L1428.4 416.9 L1428.4 415.7 L1428.5 414.5 L1428.5 413.3 L1428.6 412.1 L1428.6 410.9 L1428.7 409.7 L1428.7 408.5 L1428.8 407.2 L1428.8 406.0 L1428.9 404.8 L1428.9 403.6 L1429.0 402.4 L1429.0 401.2 L1429.1 400.0 L1429.1 398.8 L1429.2 397.6 L1429.2 396.4 L1429.3 395.2 L1429.3 394.0 L1429.4 392.8 L1429.5 391.6 L1429.5 390.4 L1429.6 389.2 L1429.6 388.0 L1429.7 386.8 L1429.7 385.6 L1429.8 384.4 L1429.8 383.2 L1429.9 382.0 L1429.9 380.8 L1430.0 379.6 L1430.0 378.4 L1430.1 377.2 L1430.1 376.0 L1430.2 374.8 L1430.2 373.6 L1430.3 372.4 L1430.3 371.2 L1430.4 370.0 L1430.5 368.8 L1430.5 367.6 L1430.6 366.4 L1430.6 365.2 L1430.7 364.0 L1430.7 362.8 L1430.8 361.6 L1430.8 360.4 L1430.9 359.2 L1430.9 358.0 L1431.0 356.8 L1431.1 355.6 L1431.1 354.4 L1431.2 353.2 L1431.2 352.0 L1431.3 350.8 L1431.3 349.6 L1431.4 348.4 L1431.5 347.2 L1431.5 346.0 L1431.6 344.8 L1431.6 343.6 L1431.7 342.4 L1431.7 341.2 L1431.8 340.0 L1431.9 338.8 L1431.9 337.6 L1432.0 336.4 L1432.0 335.2 L1432.1 334.0 L1432.2 332.8 L1432.2 331.6 L1432.3 330.4 L1432.3 329.2 L1432.4 328.0 L1432.5 326.8 L1432.5 325.6 L1432.6 324.4 L1432.6 323.2 L1432.7 322.0 L1432.8 320.8 L1432.8 319.6 L1432.9 318.4 L1432.9 317.2 L1433.0 316.0 L1433.1 314.8 L1433.1 313.6 L1433.2 312.4 L1433.2 311.2 L1433.3 310.0 L1433.4 308.8 L1433.4 307.6 L1433.5 306.4 L1433.6 305.2 L1433.6 304.0 L1433.7 302.8 L1433.8 301.6 L1433.8 300.4 L1433.9 299.2 L1433.9 298.0 L1434.0 296.8 L1434.1 295.6 L1434.1 294.4 L1434.2 293.2 L1434.3 292.0 L1434.3 290.8 L1434.4 289.6 L1434.5 288.4 L1434.5 287.2 L1434.6 286.0 L1434.7 284.8 L1434.7 283.6 L1434.8 282.4 L1434.9 281.2 L1434.9 280.0 L1435.0 278.8 L1435.0 277.6 L1435.1 276.4 L1435.2 275.2 L1435.2 274.0 L1435.3 272.8 L1435.4 271.6 L1435.4 270.4 L1435.5 269.2 L1435.6 268.0 L1435.6 266.8 L1435.7 265.6 L1435.8 264.4 L1435.9 263.2 L1435.9 262.0 L1436.0 260.8 L1436.1 259.6 L1436.1 258.4 L1436.2 257.2 L1436.3 256.0 L1436.3 254.8 L1436.4 253.6 L1436.5 252.4 L1436.5 251.2 L1436.6 250.0 L1436.7 248.8 L1436.7 247.6 L1436.8 246.4 L1436.9 245.2 L1437.0 244.0 L1437.0 242.8 L1437.1 241.6 L1437.2 240.4 L1437.3 239.2 L1437.3 238.0 L1437.4 236.8 L1437.5 235.6 L1437.6 234.4 L1437.6 233.2 L1437.7 232.0 L1437.8 230.8 L1437.9 229.6 L1437.9 228.4 L1438.0 227.2 L1438.1 226.0 L1438.1 224.8 L1438.2 223.6 L1438.3 222.4 L1438.4 221.2 L1438.4 220.0 L1438.5 218.8 L1438.6 217.6 L1438.7 216.4 L1438.7 215.2 L1438.8 214.0 L1438.9 212.8 L1438.9 211.6 L1439.0 210.4 L1439.1 209.2 L1439.1 208.0 L1439.2 206.8 L1439.3 205.6 L1439.3 204.4 L1439.4 203.2 L1439.5 202.0 L1439.5 200.8 L1439.6 199.6 L1439.7 198.4 L1439.7 197.2 L1439.8 196.0 L1439.9 194.8 L1439.9 193.6 L1440.0 192.4 L1440.0 191.2 L1440.1 190.0 L1440.2 188.8 L1440.2 187.6 L1440.3 186.4 L1440.3 185.2 L1440.4 184.0 L1440.5 182.8 L1440.5 181.6 L1440.6 180.4 L1440.6 179.2 L1440.7 178.0 L1440.8 176.8 L1440.8 175.6 L1440.9 174.4 L1440.9 173.2 L1441.0 172.0 L1441.1 170.8 L1441.1 169.6 L1441.2 168.4 L1441.2 167.2 L1441.3 166.0 L1441.4 164.8 L1441.4 163.6 L1441.5 162.4 L1441.6 161.2 L1441.6 160.0 L1441.7 158.8 L1441.7 157.6 L1441.8 156.4 L1441.9 155.2 L1441.9 154.0 L1442.0 152.8 L1442.1 151.6 L1442.1 150.4 L1442.2 149.2 L1442.3 148.0 L1442.3 146.8 L1442.4 145.6 L1442.5 144.4 L1442.5 143.2 L1442.6 142.0 L1442.7 140.8 L1442.8 139.6 L1442.8 138.4 L1442.9 137.2 L1443.0 136.0 L1443.1 134.8 L1443.2 133.6 L1443.2 132.4 L1443.3 131.2 L1443.4 130.0 M1541.2 470.0 L1541.2 472.1 L1541.3 474.1 L1541.3 476.2 L1541.3 478.3 L1541.3 480.4 L1541.4 482.4 L1541.4 484.5 L1541.4 486.6 L1541.5 488.6 L1541.5 490.7 L1541.5 492.8 L1541.6 494.9 L1541.6 496.9 L1541.6 499.0 L1541.7 501.1 L1541.7 503.1 L1541.7 505.2 L1541.8 507.3 L1541.8 509.4 L1541.8 511.4 L1541.9 513.5 L1541.9 515.6 L1541.9 517.6 L1542.0 519.7 L1542.0 521.8 L1542.0 523.9 L1542.1 525.9 L1542.1 528.0 L1542.1 530.1 L1542.2 532.1 L1542.2 534.2 L1542.2 536.3 L1542.3 538.4 L1542.3 540.4 L1542.3 542.5 L1542.4 544.6 L1542.4 546.6 L1542.5 548.7 L1542.5 550.8 L1542.5 552.9 L1542.6 554.9 L1542.6 557.0 M1553.2 130.0 L1553.4 1057.0 L1554.5 1059.2 L1558.0 1059.2"/>
</g>
<path stroke="#0000ff" stroke-width="4.17" stroke-linecap="butt" d="M630.1 100V1100M1535 100V1100"/>
<path stroke="#008000" stroke-width="4.17" stroke-linecap="butt" d="M200 734.6H1700"/>
<path stroke="#ffa500" stroke-width="2.08" stroke-linecap="butt" d="M200 550H1700M200 660H1700"/>
<path stroke="#90ee90" stroke-width="8.3" d="M735.1 609V692"/>
<circle cx="735.1" cy="700" r="4.1" fill="#90ee90"/><circle cx="735.1" cy="737.6" r="4.1" fill="#90ee90"/>
<path stroke="#ffff00" stroke-opacity="0.78" stroke-width="14.5" d="M735.1 607.3V692"/>
<path stroke="#ffff00" stroke-width="14.5" d="M735.1 607.3V628"/>
<path stroke="#ffff00" stroke-width="14.5" d="M911.3 735.3 L911.9 734.5 L912.5 733.6 L913.0 732.8 L913.6 731.9 L914.3 731.1 L914.9 730.3 L915.5 729.5 L916.2 728.8 L916.9 728.1 L917.6 727.4 L918.3 726.8 L919.0 726.1 L919.8 725.4 L920.6 724.8 L921.5 724.1 L922.4 723.6 L923.3 723.1 L924.2 722.7 L925.1 722.5 L926.2 722.3 L927.4 722.1 L928.4 722.0 L929.0 722.0 L929.3 722.2 L929.6 722.6 L929.8 723.3 L930.0 724.3 L930.1 725.5 L930.2 726.8 L930.3 728.3 L930.3 730.0 L930.6 716.0 L930.8 738.0 M982.9 735.2 L983.2 734.3 L983.6 733.4 L984.0 732.4 L984.4 731.5 L984.8 730.6 L985.1 729.6 L985.5 728.7 L985.9 727.8 L986.3 726.9 L986.7 726.0 L987.2 725.1 L987.6 724.1 L988.0 723.2 L988.4 722.3 L988.8 721.4 L989.3 720.5 L989.7 719.6 L990.1 718.7 L990.6 717.8 L991.0 716.9 L991.5 716.0 L992.0 715.1 L992.4 714.3 L992.9 713.4 L993.4 712.5 L993.9 711.6 L994.4 710.7 L994.9 709.9 L995.4 709.0 L995.9 708.1 L996.4 707.3 L996.9 706.4 L997.4 705.5 L997.9 704.7 L998.4 703.8 L998.9 702.9 L999.5 702.1 L1000.0 701.2 L1000.5 700.3 L1001.1 699.5 L1001.6 698.6 L1002.2 697.8 L1002.7 697.0 L1003.3 696.1 L1003.9 695.3 L1004.4 694.5 L1005.1 693.7 L1005.7 692.9 L1006.3 692.2 L1006.9 691.4 L1007.6 690.7 L1008.3 689.9 L1009.0 689.2 L1009.7 688.4 L1010.4 687.7 L1011.2 687.0 L1011.9 686.4 L1012.7 685.8 L1013.6 685.2 L1014.4 684.8 L1015.4 684.3 L1016.4 683.9 L1017.3 683.5 L1018.2 683.3 L1019.1 683.5 L1019.9 684.1 L1021.6 690.0 L1021.8 736.0 M1059.8 735.5 L1060.0 734.5 L1060.2 733.5 L1060.4 732.5 L1060.6 731.6 L1060.8 730.6 L1061.1 729.6 L1061.3 728.6 L1061.5 727.6 L1061.7 726.7 L1061.9 725.7 L1062.1 724.7 L1062.4 723.7 L1062.6 722.7 L1062.8 721.8 L1063.1 720.8 L1063.3 719.8 L1063.5 718.8 L1063.8 717.9 L1064.0 716.9 L1064.2 715.9 L1064.5 714.9 L1064.7 714.0 L1065.0 713.0 L1065.2 712.0 L1065.5 711.1 L1065.7 710.1 L1066.0 709.1 L1066.3 708.2 L1066.5 707.2 L1066.8 706.2 L1067.1 705.3 L1067.3 704.3 L1067.6 703.3 L1067.9 702.4 L1068.2 701.4 L1068.5 700.4 L1068.7 699.5 L1069.0 698.5 L1069.3 697.6 L1069.6 696.6 L1069.9 695.6 L1070.2 694.7 L1070.5 693.7 L1070.8 692.8 L1071.1 691.8 L1071.4 690.9 L1071.7 689.9 L1072.0 689.0 L1072.3 688.0 L1072.7 687.1 L1073.0 686.1 L1073.3 685.1 L1073.6 684.2 L1073.9 683.2 L1074.2 682.3 L1074.5 681.3 L1074.9 680.4 L1075.2 679.4 L1075.5 678.5 L1075.9 677.5 L1076.2 676.6 L1076.5 675.6 L1076.9 674.7 L1077.2 673.8 L1077.6 672.8 L1077.9 671.9 L1078.3 670.9 L1078.7 670.0 L1079.0 669.1 L1079.4 668.2 L1079.8 667.2 L1080.2 666.3 L1080.5 665.4 L1080.9 664.5 L1081.3 663.5 L1081.7 662.6 L1082.1 661.7 L1082.6 660.8 L1083.0 659.8 L1083.4 658.9 L1083.8 658.0 L1084.3 657.1 L1084.7 656.2 L1085.1 655.3 L1085.6 654.4 L1086.1 653.5 L1086.5 652.6 L1087.0 651.7 L1087.5 650.8 L1088.0 650.0 L1088.5 649.1 L1089.0 648.3 L1089.5 647.4 L1090.1 646.6 L1090.6 645.8 L1091.2 644.9 L1091.7 644.1 L1092.3 643.2 L1092.9 642.4 L1093.5 641.5 L1094.2 640.7 L1094.8 639.9 L1095.5 639.1 L1096.1 638.3 L1096.8 637.6 L1097.5 636.9 L1098.3 636.2 L1099.0 635.7 L1099.8 635.1 L1100.6 634.6 L1101.6 634.1 L1102.5 633.6 L1103.5 633.3 L1104.4 633.3 L1105.4 633.7 L1106.3 634.4 L1107.1 635.2 L1108.5 642.0 L1108.7 736.0 M1138.2 735.2 L1138.3 734.2 L1138.5 733.2 L1138.6 732.2 L1138.7 731.2 L1138.8 730.3 L1139.0 729.3 L1139.1 728.3 L1139.2 727.3 L1139.4 726.3 L1139.5 725.3 L1139.7 724.3 L1139.8 723.3 L1140.0 722.3 L1140.1 721.3 L1140.3 720.3 L1140.5 719.3 L1140.6 718.4 L1140.8 717.4 L1140.9 716.4 L1141.1 715.4 L1141.3 714.4 L1141.4 713.4 L1141.6 712.4 L1141.8 711.4 L1141.9 710.4 L1142.1 709.4 L1142.3 708.5 L1142.4 707.5 L1142.6 706.5 L1142.8 705.5 L1143.0 704.5 L1143.1 703.5 L1143.3 702.5 L1143.5 701.6 L1143.7 700.6 L1143.9 699.6 L1144.0 698.6 L1144.2 697.6 L1144.4 696.6 L1144.6 695.6 L1144.8 694.7 L1145.0 693.7 L1145.2 692.7 L1145.4 691.7 L1145.6 690.7 L1145.8 689.7 L1146.0 688.7 L1146.1 687.8 L1146.3 686.8 L1146.5 685.8 L1146.7 684.8 L1146.9 683.8 L1147.1 682.9 L1147.3 681.9 L1147.5 680.9 L1147.7 679.9 L1147.9 678.9 L1148.1 677.9 L1148.3 677.0 L1148.5 676.0 L1148.7 675.0 L1148.9 674.0 L1149.1 673.0 L1149.4 672.0 L1149.6 671.1 L1149.8 670.1 L1150.0 669.1 L1150.2 668.1 L1150.4 667.1 L1150.6 666.2 L1150.8 665.2 L1151.0 664.2 L1151.2 663.2 L1151.5 662.2 L1151.7 661.3 L1151.9 660.3 L1152.1 659.3 L1152.3 658.3 L1152.5 657.3 L1152.8 656.4 L1153.0 655.4 L1153.2 654.4 L1153.4 653.4 L1153.7 652.5 L1153.9 651.5 L1154.1 650.5 L1154.3 649.5 L1154.6 648.6 L1154.8 647.6 L1155.0 646.6 L1155.3 645.6 L1155.5 644.7 L1155.7 643.7 L1156.0 642.7 L1156.2 641.7 L1156.4 640.8 L1156.7 639.8 L1156.9 638.8 L1157.1 637.8 L1157.4 636.9 L1157.6 635.9 L1157.9 634.9 L1158.1 633.9 L1158.3 633.0 L1158.6 632.0 L1158.8 631.0 L1159.1 630.0 L1159.3 629.1 L1159.6 628.1 L1159.9 627.1 L1160.1 626.2 L1160.4 625.2 L1160.6 624.2 L1160.9 623.3 L1161.2 622.3 L1161.4 621.3 L1161.7 620.4 L1162.0 619.4 L1162.3 618.4 L1162.6 617.5 L1162.8 616.5 L1163.1 615.6 L1163.4 614.6 L1163.7 613.6 L1164.0 612.7 L1164.3 611.7 L1164.6 610.8 L1164.9 609.8 L1165.2 608.9 L1165.6 607.9 L1165.9 607.0 L1166.2 606.0 L1166.5 605.1 L1166.9 604.1 L1167.2 603.2 L1167.5 602.2 L1167.9 601.3 L1168.2 600.3 L1168.6 599.4 L1168.9 598.4 L1169.3 597.5 L1169.7 596.6 L1170.0 595.6 L1170.4 594.7 L1170.8 593.8 L1171.2 592.9 L1171.6 592.0 L1172.0 591.0 L1172.4 590.1 L1172.8 589.2 L1173.2 588.3 L1173.6 587.3 L1174.0 586.4 L1174.5 585.4 L1174.9 584.5 L1175.3 583.6 L1175.8 582.7 L1176.3 581.8 L1176.7 580.9 L1177.2 580.0 L1177.8 579.2 L1178.3 578.3 L1178.8 577.5 L1179.4 576.7 L1180.0 576.0 L1180.6 575.2 L1181.4 574.4 L1182.1 573.5 L1183.0 572.7 L1183.8 572.0 L1184.6 571.4 L1185.4 571.1 L1186.2 571.0 L1187.0 571.4 L1187.9 572.2 L1189.8 580.0 L1190.0 625.0 M1213.8 734.8 L1213.9 733.8 L1213.9 732.8 L1214.0 731.8 L1214.1 730.8 L1214.2 729.8 L1214.2 728.8 L1214.3 727.8 L1214.4 726.8 L1214.4 725.8 L1214.5 724.8 L1214.6 723.8 L1214.6 722.8 L1214.7 721.8 L1214.8 720.8 L1214.8 719.8 L1214.9 718.8 L1215.0 717.8 L1215.0 716.8 L1215.1 715.8 L1215.2 714.8 L1215.3 713.8 L1215.3 712.8 L1215.4 711.8 L1215.4 710.8 L1215.5 709.8 L1215.6 708.8 L1215.6 707.8 L1215.7 706.8 L1215.8 705.8 L1215.9 704.8 L1215.9 703.8 L1216.0 702.8 L1216.1 701.8 L1216.1 700.8 L1216.2 699.8 L1216.3 698.8 L1216.3 697.8 L1216.4 696.8 L1216.5 695.8 L1216.5 694.8 L1216.6 693.8 L1216.7 692.8 L1216.8 691.8 L1216.8 690.8 L1216.9 689.8 L1217.0 688.8 L1217.1 687.8 L1217.1 686.8 L1217.2 685.8 L1217.3 684.8 L1217.4 683.8 L1217.4 682.8 L1217.5 681.9 L1217.6 680.9 L1217.7 679.9 L1217.8 678.9 L1217.9 677.9 L1218.0 676.9 L1218.0 675.9 L1218.1 674.9 L1218.2 673.9 L1218.3 672.9 L1218.4 671.9 L1218.5 670.9 L1218.6 669.9 L1218.7 668.9 L1218.8 667.9 L1218.9 666.9 L1219.0 665.9 L1219.1 664.9 L1219.2 663.9 L1219.3 662.9 L1219.4 661.9 L1219.5 660.9 L1219.6 659.9 L1219.7 658.9 L1219.8 657.9 L1219.9 656.9 L1220.1 655.9 L1220.2 654.9 L1220.3 654.0 L1220.4 653.0 L1220.5 652.0 L1220.6 651.0 L1220.7 650.0 L1220.9 649.0 L1221.0 648.0 L1221.1 647.0 L1221.2 646.0 L1221.4 645.0 L1221.5 644.0 L1221.6 643.0 L1221.7 642.0 L1221.9 641.0 L1222.0 640.0 L1222.1 639.0 L1222.2 638.0 L1222.4 637.0 L1222.5 636.0 L1222.6 635.1 L1222.8 634.1 L1222.9 633.1 L1223.0 632.1 L1223.2 631.1 L1223.3 630.1 L1223.4 629.1 L1223.6 628.1 L1223.7 627.1 L1223.9 626.1 L1224.0 625.1 L1224.1 624.1 L1224.3 623.1 L1224.4 622.1 L1224.6 621.2 L1224.7 620.2 L1224.8 619.2 L1225.0 618.2 L1225.1 617.2 L1225.3 616.2 L1225.4 615.2 L1225.6 614.2 L1225.7 613.2 L1225.9 612.2 L1226.0 611.2 L1226.2 610.3 L1226.3 609.3 L1226.5 608.3 L1226.6 607.3 L1226.8 606.3 L1226.9 605.3 L1227.1 604.3 L1227.2 603.3 L1227.4 602.3 L1227.5 601.3 L1227.7 600.4 L1227.8 599.4 L1228.0 598.4 L1228.2 597.4 L1228.3 596.4 L1228.5 595.4 L1228.6 594.4 L1228.8 593.4 L1229.0 592.4 L1229.1 591.5 L1229.3 590.5 L1229.5 589.5 L1229.6 588.5 L1229.8 587.5 L1230.0 586.5 L1230.2 585.5 L1230.3 584.5 L1230.5 583.5 L1230.7 582.6 L1230.9 581.6 L1231.1 580.6 L1231.2 579.6 L1231.4 578.6 L1231.6 577.6 L1231.8 576.6 L1232.0 575.7 L1232.2 574.7 L1232.4 573.7 L1232.6 572.7 L1232.8 571.7 L1233.0 570.8 L1233.2 569.8 L1233.4 568.8 L1233.6 567.8 L1233.8 566.8 L1234.1 565.9 L1234.3 564.9 L1234.5 563.9 L1234.7 562.9 L1234.9 562.0 L1235.2 561.0 L1235.4 560.0 L1235.7 559.1 L1236.0 558.1 L1236.3 557.1 L1236.6 556.2 L1236.9 555.2 L1237.2 554.3 L1237.5 553.3 L1237.7 552.3 L1238.0 551.4 L1238.2 550.4 M1285.6 735.0 L1285.7 734.0 L1285.7 733.0 L1285.8 732.0 L1285.8 731.0 L1285.9 730.0 L1286.0 729.0 L1286.0 728.0 L1286.1 727.0 L1286.2 726.0 L1286.2 725.0 L1286.3 724.0 L1286.3 723.0 L1286.4 722.0 L1286.5 721.0 L1286.5 720.0 L1286.6 719.0 L1286.7 718.0 L1286.7 717.0 L1286.8 716.0 L1286.9 715.0 L1286.9 714.0 L1287.0 713.0 L1287.0 712.0 L1287.1 711.0 L1287.2 710.0 L1287.2 709.0 L1287.3 708.0 L1287.4 707.0 L1287.4 706.0 L1287.5 705.0 L1287.6 704.0 L1287.6 703.0 L1287.7 702.0 L1287.8 701.0 L1287.8 700.0 L1287.9 699.0 L1288.0 698.0 L1288.0 697.0 L1288.1 696.0 L1288.1 695.0 L1288.2 694.0 L1288.3 693.0 L1288.3 692.0 L1288.4 691.0 L1288.5 690.0 L1288.5 689.0 L1288.6 688.0 L1288.7 687.0 L1288.7 686.0 L1288.8 685.0 L1288.9 684.0 L1288.9 683.0 L1289.0 682.0 L1289.1 681.0 L1289.1 680.0 L1289.2 679.0 L1289.3 678.0 L1289.3 677.0 L1289.4 676.0 L1289.5 675.0 L1289.5 674.0 L1289.6 673.0 L1289.6 672.0 L1289.7 671.0 L1289.8 670.0 L1289.8 669.0 L1289.9 668.0 L1290.0 667.0 L1290.0 666.0 L1290.1 665.0 L1290.2 664.0 L1290.2 663.0 L1290.3 662.0 L1290.4 661.0 L1290.4 660.0 L1290.5 659.0 L1290.6 658.0 L1290.6 657.0 L1290.7 656.0 L1290.7 655.0 L1290.8 654.0 L1290.9 653.0 L1290.9 652.0 L1291.0 651.0 L1291.1 650.0 L1291.1 649.0 L1291.2 648.0 L1291.3 647.0 L1291.3 646.0 L1291.4 645.0 L1291.4 644.0 L1291.5 643.0 L1291.6 642.0 L1291.6 641.0 L1291.7 640.0 L1291.8 639.0 L1291.8 638.0 L1291.9 637.0 L1292.0 636.0 L1292.0 635.0 L1292.1 634.0 L1292.1 633.0 L1292.2 632.0 L1292.3 631.0 L1292.3 630.0 L1292.4 629.0 L1292.5 628.0 L1292.5 627.0 L1292.6 626.0 L1292.6 625.0 L1292.7 624.0 L1292.8 623.0 L1292.8 622.0 L1292.9 621.0 L1293.0 620.0 L1293.0 619.0 L1293.1 618.0 L1293.2 617.0 L1293.2 616.0 L1293.3 615.0 L1293.4 614.0 L1293.4 613.0 L1293.5 612.0 L1293.5 611.0 L1293.6 610.0 L1293.7 609.0 L1293.7 608.0 L1293.8 607.0 L1293.9 606.0 L1293.9 605.0 L1294.0 604.0 L1294.1 603.0 L1294.1 602.0 L1294.2 601.0 L1294.2 600.0 L1294.3 599.0 L1294.4 598.0 L1294.4 597.0 L1294.5 596.0 L1294.6 595.0 L1294.6 594.0 L1294.7 593.0 L1294.7 592.0 L1294.8 591.0 L1294.9 590.0 L1294.9 589.0 L1295.0 588.0 L1295.1 587.0 L1295.1 586.0 L1295.2 585.0 L1295.2 584.0 L1295.3 583.0 L1295.4 582.0 L1295.4 581.0 L1295.5 580.0 L1295.5 579.0 L1295.6 578.0 L1295.7 577.0 L1295.7 576.0 L1295.8 575.0 L1295.8 574.0 L1295.9 573.0 L1296.0 572.0 L1296.0 571.0 L1296.1 570.0 L1296.1 569.0 L1296.2 568.0 L1296.3 567.0 L1296.3 566.0 L1296.4 565.0 L1296.4 564.0 L1296.5 563.0 L1296.5 562.0 L1296.6 561.0 L1296.7 560.0 L1296.7 559.0 L1296.8 558.0 L1296.8 557.0 L1296.9 556.0 L1296.9 555.0 L1297.0 554.0 L1297.0 553.0 L1297.1 552.0 L1297.1 551.0 L1297.2 550.0"/>
<g fill="#ffff00" fill-opacity="0.2" stroke="#ffff00" stroke-opacity="0.2" stroke-width="1.4">
<circle cx="1354.3" cy="735.3" r="6.6"/><circle cx="1354.4" cy="733.4" r="6.6"/><circle cx="1354.4" cy="731.5" r="6.6"/><circle cx="1354.5" cy="729.6" r="6.6"/><circle cx="1354.6" cy="727.7" r="6.6"/><circle cx="1354.6" cy="725.8" r="6.6"/><circle cx="1354.7" cy="723.9" r="6.6"/><circle cx="1354.8" cy="722.0" r="6.6"/><circle cx="1354.9" cy="720.1" r="6.6"/><circle cx="1354.9" cy="718.2" r="6.6"/><circle cx="1355.0" cy="716.2" r="6.6"/><circle cx="1355.1" cy="714.3" r="6.6"/><circle cx="1355.1" cy="712.4" r="6.6"/><circle cx="1355.2" cy="710.5" r="6.6"/><circle cx="1355.2" cy="708.6" r="6.6"/><circle cx="1355.3" cy="706.7" r="6.6"/><circle cx="1355.4" cy="704.8" r="6.6"/><circle cx="1355.4" cy="702.9" r="6.6"/><circle cx="1355.5" cy="701.0" r="6.6"/><circle cx="1355.6" cy="699.1" r="6.6"/><circle cx="1355.6" cy="697.2" r="6.6"/><circle cx="1355.7" cy="695.2" r="6.6"/><circle cx="1355.8" cy="693.3" r="6.6"/><circle cx="1355.8" cy="691.4" r="6.6"/><circle cx="1355.9" cy="689.5" r="6.6"/><circle cx="1355.9" cy="687.6" r="6.6"/><circle cx="1356.0" cy="685.7" r="6.6"/><circle cx="1356.1" cy="683.8" r="6.6"/><circle cx="1356.1" cy="681.9" r="6.6"/><circle cx="1356.2" cy="680.0" r="6.6"/><circle cx="1356.3" cy="678.1" r="6.6"/><circle cx="1356.3" cy="676.1" r="6.6"/><circle cx="1356.4" cy="674.2" r="6.6"/><circle cx="1356.4" cy="672.3" r="6.6"/><circle cx="1356.5" cy="670.4" r="6.6"/><circle cx="1356.6" cy="668.5" r="6.6"/><circle cx="1356.6" cy="666.6" r="6.6"/><circle cx="1356.7" cy="664.7" r="6.6"/><circle cx="1356.7" cy="662.8" r="6.6"/><circle cx="1356.8" cy="660.9" r="6.6"/><circle cx="1356.9" cy="659.0" r="6.6"/><circle cx="1356.9" cy="657.1" r="6.6"/><circle cx="1357.0" cy="655.1" r="6.6"/><circle cx="1357.1" cy="653.2" r="6.6"/><circle cx="1357.1" cy="651.3" r="6.6"/><circle cx="1357.2" cy="649.4" r="6.6"/><circle cx="1357.3" cy="647.5" r="6.6"/><circle cx="1357.3" cy="645.6" r="6.6"/><circle cx="1357.4" cy="643.7" r="6.6"/><circle cx="1357.5" cy="641.8" r="6.6"/><circle cx="1357.5" cy="639.9" r="6.6"/><circle cx="1357.6" cy="638.0" r="6.6"/><circle cx="1357.7" cy="636.1" r="6.6"/><circle cx="1357.7" cy="634.1" r="6.6"/><circle cx="1357.8" cy="632.2" r="6.6"/><circle cx="1357.9" cy="630.3" r="6.6"/><circle cx="1357.9" cy="628.4" r="6.6"/><circle cx="1358.0" cy="626.5" r="6.6"/><circle cx="1358.1" cy="624.6" r="6.6"/><circle cx="1358.1" cy="622.7" r="6.6"/><circle cx="1358.2" cy="620.8" r="6.6"/><circle cx="1358.3" cy="618.9" r="6.6"/><circle cx="1358.4" cy="617.0" r="6.6"/><circle cx="1358.4" cy="615.1" r="6.6"/><circle cx="1358.5" cy="613.1" r="6.6"/><circle cx="1358.6" cy="611.2" r="6.6"/><circle cx="1358.7" cy="609.3" r="6.6"/><circle cx="1358.7" cy="607.4" r="6.6"/><circle cx="1358.8" cy="605.5" r="6.6"/><circle cx="1358.9" cy="603.6" r="6.6"/><circle cx="1359.0" cy="601.7" r="6.6"/><circle cx="1359.1" cy="599.8" r="6.6"/><circle cx="1359.2" cy="597.9" r="6.6"/><circle cx="1359.2" cy="596.0" r="6.6"/><circle cx="1359.3" cy="594.1" r="6.6"/><circle cx="1359.4" cy="592.2" r="6.6"/><circle cx="1359.5" cy="590.2" r="6.6"/><circle cx="1359.6" cy="588.3" r="6.6"/><circle cx="1359.7" cy="586.4" r="6.6"/><circle cx="1359.8" cy="584.5" r="6.6"/><circle cx="1359.9" cy="582.6" r="6.6"/><circle cx="1360.0" cy="580.7" r="6.6"/><circle cx="1360.1" cy="578.8" r="6.6"/><circle cx="1360.2" cy="576.9" r="6.6"/><circle cx="1360.3" cy="575.0" r="6.6"/><circle cx="1360.4" cy="573.1" r="6.6"/><circle cx="1360.5" cy="571.2" r="6.6"/><circle cx="1360.6" cy="569.3" r="6.6"/><circle cx="1360.7" cy="567.4" r="6.6"/><circle cx="1360.8" cy="565.4" r="6.6"/><circle cx="1360.9" cy="563.5" r="6.6"/><circle cx="1361.0" cy="561.6" r="6.6"/><circle cx="1361.1" cy="559.7" r="6.6"/><circle cx="1361.2" cy="557.8" r="6.6"/><circle cx="1361.3" cy="555.9" r="6.6"/><circle cx="1361.5" cy="554.0" r="6.6"/><circle cx="1361.6" cy="552.1" r="6.6"/><circle cx="1361.7" cy="550.2" r="6.6"/><circle cx="1420.3" cy="735.3" r="6.6"/><circle cx="1420.4" cy="732.9" r="6.6"/><circle cx="1420.4" cy="730.5" r="6.6"/><circle cx="1420.5" cy="728.1" r="6.6"/><circle cx="1420.6" cy="725.6" r="6.6"/><circle cx="1420.6" cy="723.2" r="6.6"/><circle cx="1420.7" cy="720.8" r="6.6"/><circle cx="1420.8" cy="718.4" r="6.6"/><circle cx="1420.8" cy="716.0" r="6.6"/><circle cx="1420.9" cy="713.6" r="6.6"/><circle cx="1421.0" cy="711.2" r="6.6"/><circle cx="1421.0" cy="708.8" r="6.6"/><circle cx="1421.1" cy="706.4" r="6.6"/><circle cx="1421.1" cy="704.0" r="6.6"/><circle cx="1421.2" cy="701.6" r="6.6"/><circle cx="1421.2" cy="699.2" r="6.6"/><circle cx="1421.3" cy="696.8" r="6.6"/><circle cx="1421.4" cy="694.4" r="6.6"/><circle cx="1421.4" cy="692.0" r="6.6"/><circle cx="1421.5" cy="689.6" r="6.6"/><circle cx="1421.5" cy="687.2" r="6.6"/><circle cx="1421.6" cy="684.8" r="6.6"/><circle cx="1421.6" cy="682.4" r="6.6"/><circle cx="1421.7" cy="680.0" r="6.6"/><circle cx="1421.7" cy="677.5" r="6.6"/><circle cx="1421.8" cy="675.1" r="6.6"/><circle cx="1421.8" cy="672.7" r="6.6"/><circle cx="1421.9" cy="670.3" r="6.6"/><circle cx="1421.9" cy="667.9" r="6.6"/><circle cx="1422.0" cy="665.5" r="6.6"/><circle cx="1422.0" cy="663.1" r="6.6"/><circle cx="1422.0" cy="660.7" r="6.6"/><circle cx="1422.1" cy="658.3" r="6.6"/><circle cx="1422.1" cy="655.9" r="6.6"/><circle cx="1422.2" cy="653.5" r="6.6"/><circle cx="1422.2" cy="651.1" r="6.6"/><circle cx="1422.3" cy="648.7" r="6.6"/><circle cx="1422.3" cy="646.3" r="6.6"/><circle cx="1422.4" cy="643.9" r="6.6"/><circle cx="1422.4" cy="641.5" r="6.6"/><circle cx="1422.4" cy="639.1" r="6.6"/><circle cx="1422.5" cy="636.7" r="6.6"/><circle cx="1422.5" cy="634.3" r="6.6"/><circle cx="1422.6" cy="631.8" r="6.6"/><circle cx="1422.6" cy="629.4" r="6.6"/><circle cx="1422.7" cy="627.0" r="6.6"/><circle cx="1422.7" cy="624.6" r="6.6"/><circle cx="1422.7" cy="622.2" r="6.6"/><circle cx="1422.8" cy="619.8" r="6.6"/><circle cx="1422.8" cy="617.4" r="6.6"/><circle cx="1422.9" cy="615.0" r="6.6"/><circle cx="1422.9" cy="612.6" r="6.6"/><circle cx="1422.9" cy="610.2" r="6.6"/><circle cx="1423.0" cy="607.8" r="6.6"/><circle cx="1423.0" cy="605.4" r="6.6"/><circle cx="1423.1" cy="603.0" r="6.6"/><circle cx="1423.1" cy="600.6" r="6.6"/><circle cx="1423.2" cy="598.2" r="6.6"/><circle cx="1423.2" cy="595.8" r="6.6"/><circle cx="1423.3" cy="593.4" r="6.6"/><circle cx="1423.3" cy="591.0" r="6.6"/><circle cx="1423.3" cy="588.6" r="6.6"/><circle cx="1423.4" cy="586.1" r="6.6"/><circle cx="1423.4" cy="583.7" r="6.6"/><circle cx="1423.5" cy="581.3" r="6.6"/><circle cx="1423.5" cy="578.9" r="6.6"/><circle cx="1423.6" cy="576.5" r="6.6"/><circle cx="1423.6" cy="574.1" r="6.6"/><circle cx="1423.7" cy="571.7" r="6.6"/><circle cx="1423.7" cy="569.3" r="6.6"/><circle cx="1423.8" cy="566.9" r="6.6"/><circle cx="1423.8" cy="564.5" r="6.6"/><circle cx="1423.9" cy="562.1" r="6.6"/><circle cx="1423.9" cy="559.7" r="6.6"/><circle cx="1424.0" cy="557.3" r="6.6"/><circle cx="1424.0" cy="554.9" r="6.6"/><circle cx="1424.1" cy="552.5" r="6.6"/><circle cx="1424.2" cy="550.1" r="6.6"/><circle cx="630.4" cy="645.7" r="6.6"/><circle cx="630.4" cy="646.2" r="6.6"/><circle cx="630.4" cy="646.7" r="6.6"/><circle cx="630.4" cy="647.2" r="6.6"/><circle cx="630.4" cy="647.7" r="6.6"/><circle cx="630.4" cy="648.2" r="6.6"/><circle cx="630.4" cy="648.8" r="6.6"/><circle cx="630.4" cy="649.3" r="6.6"/><circle cx="630.4" cy="649.8" r="6.6"/><circle cx="630.4" cy="650.3" r="6.6"/><circle cx="630.4" cy="650.8" r="6.6"/><circle cx="630.4" cy="651.3" r="6.6"/><circle cx="630.4" cy="651.8" r="6.6"/><circle cx="630.4" cy="652.3" r="6.6"/><circle cx="630.4" cy="652.8" r="6.6"/><circle cx="630.4" cy="653.3" r="6.6"/><circle cx="630.4" cy="653.9" r="6.6"/><circle cx="630.4" cy="654.4" r="6.6"/><circle cx="630.4" cy="654.9" r="6.6"/><circle cx="630.4" cy="655.4" r="6.6"/><circle cx="630.4" cy="655.9" r="6.6"/><circle cx="630.4" cy="656.4" r="6.6"/><circle cx="630.4" cy="656.9" r="6.6"/><circle cx="630.4" cy="657.4" r="6.6"/><circle cx="630.4" cy="657.9" r="6.6"/><circle cx="630.4" cy="658.4" r="6.6"/><circle cx="630.4" cy="658.9" r="6.6"/><circle cx="630.4" cy="659.5" r="6.6"/><circle cx="630.4" cy="660.0" r="6.6"/><circle cx="630.4" cy="660.5" r="6.6"/><circle cx="630.4" cy="661.0" r="6.6"/><circle cx="630.4" cy="661.5" r="6.6"/><circle cx="630.4" cy="662.0" r="6.6"/><circle cx="630.4" cy="662.0" r="6.6"/><circle cx="630.4" cy="663.5" r="6.6"/><circle cx="630.4" cy="665.0" r="6.6"/><circle cx="630.4" cy="666.5" r="6.6"/><circle cx="630.4" cy="668.0" r="6.6"/><circle cx="630.4" cy="669.6" r="6.6"/><circle cx="630.4" cy="671.1" r="6.6"/><circle cx="630.4" cy="672.6" r="6.6"/><circle cx="630.4" cy="674.1" r="6.6"/><circle cx="630.4" cy="675.6" r="6.6"/><circle cx="630.4" cy="677.1" r="6.6"/><circle cx="630.4" cy="678.6" r="6.6"/><circle cx="630.4" cy="680.1" r="6.6"/><circle cx="630.4" cy="681.6" r="6.6"/><circle cx="630.4" cy="683.1" r="6.6"/><circle cx="630.4" cy="684.7" r="6.6"/><circle cx="630.4" cy="686.2" r="6.6"/><circle cx="630.4" cy="687.7" r="6.6"/><circle cx="630.4" cy="689.2" r="6.6"/><circle cx="630.4" cy="690.7" r="6.6"/><circle cx="630.4" cy="692.2" r="6.6"/><circle cx="630.4" cy="693.7" r="6.6"/><circle cx="630.4" cy="695.2" r="6.6"/><circle cx="630.4" cy="696.7" r="6.6"/><circle cx="630.4" cy="698.2" r="6.6"/><circle cx="630.4" cy="699.8" r="6.6"/><circle cx="630.4" cy="701.3" r="6.6"/><circle cx="630.4" cy="702.8" r="6.6"/><circle cx="630.4" cy="704.3" r="6.6"/><circle cx="630.4" cy="705.8" r="6.6"/><circle cx="630.4" cy="707.3" r="6.6"/><circle cx="630.4" cy="708.8" r="6.6"/><circle cx="630.4" cy="710.3" r="6.6"/><circle cx="630.4" cy="711.8" r="6.6"/><circle cx="630.4" cy="713.4" r="6.6"/><circle cx="630.4" cy="714.9" r="6.6"/><circle cx="630.4" cy="716.4" r="6.6"/><circle cx="630.4" cy="717.9" r="6.6"/><circle cx="630.4" cy="719.4" r="6.6"/><circle cx="630.4" cy="720.9" r="6.6"/><circle cx="630.4" cy="722.4" r="6.6"/><circle cx="630.4" cy="723.9" r="6.6"/><circle cx="630.4" cy="725.4" r="6.6"/><circle cx="630.4" cy="726.9" r="6.6"/><circle cx="630.4" cy="728.5" r="6.6"/><circle cx="630.4" cy="730.0" r="6.6"/><circle cx="630.4" cy="731.5" r="6.6"/><circle cx="630.4" cy="733.0" r="6.6"/><circle cx="630.4" cy="734.5" r="6.6"/><circle cx="735.1" cy="695.0" r="6.6"/><circle cx="735.1" cy="700.0" r="6.6"/><circle cx="735.1" cy="706.0" r="6.6"/><circle cx="735.1" cy="712.0" r="6.6"/><circle cx="735.1" cy="718.0" r="6.6"/><circle cx="735.1" cy="724.0" r="6.6"/><circle cx="735.1" cy="729.0" r="6.6"/><circle cx="735.1" cy="733.5" r="6.6"/><circle cx="834.6" cy="551.0" r="6.6"/><circle cx="834.6" cy="554.2" r="6.6"/><circle cx="834.6" cy="557.4" r="6.6"/><circle cx="834.6" cy="560.6" r="6.6"/><circle cx="834.6" cy="563.8" r="6.6"/><circle cx="834.6" cy="567.0" r="6.6"/><circle cx="834.6" cy="570.2" r="6.6"/><circle cx="834.6" cy="573.4" r="6.6"/><circle cx="834.6" cy="576.6" r="6.6"/><circle cx="834.6" cy="579.8" r="6.6"/><circle cx="834.6" cy="583.0" r="6.6"/><circle cx="834.6" cy="586.2" r="6.6"/><circle cx="834.6" cy="589.4" r="6.6"/><circle cx="834.6" cy="596.0" r="6.6"/><circle cx="834.6" cy="604.0" r="6.6"/><circle cx="834.6" cy="612.0" r="6.6"/><circle cx="834.6" cy="622.0" r="6.6"/><circle cx="834.6" cy="630.0" r="6.6"/><circle cx="834.6" cy="641.0" r="6.6"/><circle cx="834.6" cy="649.0" r="6.6"/><circle cx="834.6" cy="658.0" r="6.6"/><circle cx="834.6" cy="667.0" r="6.6"/><circle cx="834.6" cy="677.0" r="6.6"/><circle cx="834.6" cy="688.0" r="6.6"/><circle cx="834.6" cy="697.0" r="6.6"/><circle cx="834.6" cy="706.0" r="6.6"/><circle cx="834.6" cy="715.0" r="6.6"/><circle cx="834.6" cy="724.0" r="6.6"/><circle cx="834.6" cy="732.0" r="6.6"/><circle cx="930.6" cy="550.8" r="6.6"/><circle cx="930.6" cy="565.0" r="6.6"/><circle cx="930.6" cy="574.0" r="6.6"/><circle cx="930.6" cy="600.0" r="6.6"/><circle cx="930.6" cy="617.5" r="6.6"/><circle cx="930.6" cy="621.7" r="6.6"/><circle cx="930.6" cy="639.0" r="6.6"/><circle cx="930.6" cy="654.0" r="6.6"/><circle cx="930.6" cy="666.0" r="6.6"/><circle cx="930.6" cy="673.0" r="6.6"/><circle cx="930.6" cy="678.0" r="6.6"/><circle cx="930.6" cy="683.0" r="6.6"/><circle cx="930.6" cy="688.0" r="6.6"/><circle cx="930.6" cy="693.0" r="6.6"/><circle cx="930.6" cy="698.0" r="6.6"/><circle cx="930.6" cy="703.0" r="6.6"/><circle cx="930.6" cy="707.0" r="6.6"/><circle cx="930.6" cy="711.0" r="6.6"/><circle cx="1021.7" cy="568.0" r="6.6"/><circle cx="1021.7" cy="584.0" r="6.6"/><circle cx="1021.7" cy="597.0" r="6.6"/><circle cx="1021.7" cy="608.0" r="6.6"/><circle cx="1021.7" cy="617.5" r="6.6"/><circle cx="1021.7" cy="625.0" r="6.6"/><circle cx="1021.7" cy="632.0" r="6.6"/><circle cx="1021.7" cy="637.0" r="6.6"/><circle cx="1021.7" cy="642.0" r="6.6"/><circle cx="1021.7" cy="647.0" r="6.6"/><circle cx="1021.7" cy="650.0" r="6.6"/><circle cx="1021.7" cy="655.0" r="6.6"/><circle cx="1021.7" cy="660.0" r="6.6"/><circle cx="1021.7" cy="670.0" r="6.6"/><circle cx="1021.7" cy="683.0" r="6.6"/><circle cx="1108.6" cy="550.0" r="6.6"/><circle cx="1108.6" cy="555.0" r="6.6"/><circle cx="1108.6" cy="560.0" r="6.6"/><circle cx="1108.6" cy="565.0" r="6.6"/><circle cx="1108.6" cy="570.0" r="6.6"/><circle cx="1108.6" cy="575.0" r="6.6"/><circle cx="1108.6" cy="580.0" r="6.6"/><circle cx="1108.6" cy="585.0" r="6.6"/><circle cx="1108.6" cy="590.0" r="6.6"/><circle cx="1108.6" cy="602.5" r="6.6"/><circle cx="1108.6" cy="620.0" r="6.6"/><circle cx="1190.0" cy="550.0" r="6.6"/><circle cx="1266.4" cy="549.0" r="6.6"/><circle cx="1266.4" cy="552.6" r="6.6"/><circle cx="1266.4" cy="556.3" r="6.6"/><circle cx="1266.4" cy="559.9" r="6.6"/><circle cx="1266.4" cy="563.6" r="6.6"/><circle cx="1266.4" cy="567.2" r="6.6"/><circle cx="1266.4" cy="570.9" r="6.6"/><circle cx="1266.4" cy="574.5" r="6.6"/><circle cx="1266.4" cy="578.2" r="6.6"/><circle cx="1266.4" cy="581.8" r="6.6"/><circle cx="1266.4" cy="585.5" r="6.6"/><circle cx="1266.4" cy="589.1" r="6.6"/><circle cx="1266.4" cy="592.8" r="6.6"/><circle cx="1266.4" cy="596.4" r="6.6"/><circle cx="1266.4" cy="600.1" r="6.6"/><circle cx="1266.4" cy="603.7" r="6.6"/><circle cx="1266.4" cy="607.4" r="6.6"/><circle cx="1266.4" cy="611.0" r="6.6"/><circle cx="1266.4" cy="614.6" r="6.6"/><circle cx="1266.4" cy="618.3" r="6.6"/><circle cx="1266.4" cy="621.9" r="6.6"/><circle cx="1266.4" cy="625.6" r="6.6"/><circle cx="1266.4" cy="629.2" r="6.6"/><circle cx="1266.4" cy="632.9" r="6.6"/><circle cx="1266.4" cy="636.5" r="6.6"/><circle cx="1266.4" cy="640.2" r="6.6"/><circle cx="1266.4" cy="643.8" r="6.6"/><circle cx="1266.4" cy="647.5" r="6.6"/><circle cx="1266.4" cy="651.1" r="6.6"/><circle cx="1266.4" cy="654.8" r="6.6"/><circle cx="1266.4" cy="658.4" r="6.6"/><circle cx="1266.4" cy="662.1" r="6.6"/><circle cx="1266.4" cy="665.7" r="6.6"/><circle cx="1266.4" cy="669.4" r="6.6"/><circle cx="1266.4" cy="673.0" r="6.6"/><circle cx="1266.4" cy="676.6" r="6.6"/><circle cx="1266.4" cy="680.3" r="6.6"/><circle cx="1266.4" cy="683.9" r="6.6"/><circle cx="1266.4" cy="687.6" r="6.6"/><circle cx="1266.4" cy="691.2" r="6.6"/><circle cx="1266.4" cy="694.9" r="6.6"/><circle cx="1266.4" cy="698.5" r="6.6"/><circle cx="1266.4" cy="702.2" r="6.6"/><circle cx="1266.4" cy="705.8" r="6.6"/><circle cx="1266.4" cy="709.5" r="6.6"/><circle cx="1266.4" cy="713.1" r="6.6"/><circle cx="1266.4" cy="716.8" r="6.6"/><circle cx="1266.4" cy="720.4" r="6.6"/><circle cx="1266.4" cy="724.1" r="6.6"/><circle cx="1266.4" cy="727.7" r="6.6"/><circle cx="1266.4" cy="731.4" r="6.6"/><circle cx="1266.4" cy="735.0" r="6.6"/><circle cx="1267.6" cy="551.0" r="6.6"/><circle cx="1267.6" cy="555.5" r="6.6"/><circle cx="1267.7" cy="560.0" r="6.6"/><circle cx="1267.7" cy="564.5" r="6.6"/><circle cx="1267.7" cy="569.0" r="6.6"/><circle cx="1267.7" cy="573.4" r="6.6"/><circle cx="1267.8" cy="577.9" r="6.6"/><circle cx="1267.8" cy="582.4" r="6.6"/><circle cx="1267.8" cy="586.9" r="6.6"/><circle cx="1267.9" cy="591.4" r="6.6"/><circle cx="1267.9" cy="595.9" r="6.6"/><circle cx="1267.9" cy="600.4" r="6.6"/><circle cx="1268.0" cy="604.9" r="6.6"/><circle cx="1268.0" cy="609.3" r="6.6"/><circle cx="1268.0" cy="613.8" r="6.6"/><circle cx="1268.0" cy="618.3" r="6.6"/><circle cx="1268.1" cy="622.8" r="6.6"/><circle cx="1268.1" cy="627.3" r="6.6"/><circle cx="1268.1" cy="631.8" r="6.6"/><circle cx="1268.2" cy="636.3" r="6.6"/><circle cx="1268.2" cy="640.8" r="6.6"/><circle cx="1268.2" cy="645.2" r="6.6"/><circle cx="1268.2" cy="649.7" r="6.6"/><circle cx="1268.3" cy="654.2" r="6.6"/><circle cx="1268.3" cy="658.7" r="6.6"/><circle cx="1268.3" cy="663.2" r="6.6"/><circle cx="1268.4" cy="667.7" r="6.6"/><circle cx="1268.4" cy="672.2" r="6.6"/><circle cx="1268.4" cy="676.7" r="6.6"/><circle cx="1268.4" cy="681.1" r="6.6"/><circle cx="1268.5" cy="685.6" r="6.6"/><circle cx="1268.5" cy="690.1" r="6.6"/><circle cx="1268.5" cy="694.6" r="6.6"/><circle cx="1268.6" cy="699.1" r="6.6"/><circle cx="1268.6" cy="703.6" r="6.6"/><circle cx="1268.6" cy="708.1" r="6.6"/><circle cx="1268.7" cy="712.6" r="6.6"/><circle cx="1268.7" cy="717.0" r="6.6"/><circle cx="1268.7" cy="721.5" r="6.6"/><circle cx="1268.7" cy="726.0" r="6.6"/><circle cx="1268.8" cy="730.5" r="6.6"/><circle cx="1268.8" cy="735.0" r="6.6"/><circle cx="1339.5" cy="549.0" r="6.6"/><circle cx="1339.5" cy="553.6" r="6.6"/><circle cx="1339.5" cy="558.3" r="6.6"/><circle cx="1339.5" cy="563.0" r="6.6"/><circle cx="1339.5" cy="567.6" r="6.6"/><circle cx="1339.5" cy="572.2" r="6.6"/><circle cx="1339.5" cy="576.9" r="6.6"/><circle cx="1339.5" cy="581.5" r="6.6"/><circle cx="1339.5" cy="586.2" r="6.6"/><circle cx="1339.5" cy="590.9" r="6.6"/><circle cx="1339.5" cy="595.5" r="6.6"/><circle cx="1339.5" cy="600.1" r="6.6"/><circle cx="1339.5" cy="604.8" r="6.6"/><circle cx="1339.5" cy="609.5" r="6.6"/><circle cx="1339.5" cy="614.1" r="6.6"/><circle cx="1339.5" cy="618.8" r="6.6"/><circle cx="1339.5" cy="623.4" r="6.6"/><circle cx="1339.5" cy="628.0" r="6.6"/><circle cx="1339.5" cy="632.7" r="6.6"/><circle cx="1339.5" cy="637.4" r="6.6"/><circle cx="1339.5" cy="642.0" r="6.6"/><circle cx="1339.5" cy="646.6" r="6.6"/><circle cx="1339.5" cy="651.3" r="6.6"/><circle cx="1339.5" cy="656.0" r="6.6"/><circle cx="1339.5" cy="660.6" r="6.6"/><circle cx="1339.5" cy="665.2" r="6.6"/><circle cx="1339.5" cy="669.9" r="6.6"/><circle cx="1339.5" cy="674.5" r="6.6"/><circle cx="1339.5" cy="679.2" r="6.6"/><circle cx="1339.5" cy="683.9" r="6.6"/><circle cx="1339.5" cy="688.5" r="6.6"/><circle cx="1339.5" cy="693.1" r="6.6"/><circle cx="1339.5" cy="697.8" r="6.6"/><circle cx="1339.5" cy="702.5" r="6.6"/><circle cx="1339.5" cy="707.1" r="6.6"/><circle cx="1339.5" cy="711.8" r="6.6"/><circle cx="1339.5" cy="716.4" r="6.6"/><circle cx="1339.5" cy="721.0" r="6.6"/><circle cx="1339.5" cy="725.7" r="6.6"/><circle cx="1339.5" cy="730.4" r="6.6"/><circle cx="1339.5" cy="735.0" r="6.6"/><circle cx="1341.0" cy="552.0" r="6.6"/><circle cx="1341.0" cy="557.7" r="6.6"/><circle cx="1341.1" cy="563.4" r="6.6"/><circle cx="1341.1" cy="569.2" r="6.6"/><circle cx="1341.2" cy="574.9" r="6.6"/><circle cx="1341.2" cy="580.6" r="6.6"/><circle cx="1341.2" cy="586.3" r="6.6"/><circle cx="1341.3" cy="592.0" r="6.6"/><circle cx="1341.3" cy="597.8" r="6.6"/><circle cx="1341.4" cy="603.5" r="6.6"/><circle cx="1341.4" cy="609.2" r="6.6"/><circle cx="1341.4" cy="614.9" r="6.6"/><circle cx="1341.5" cy="620.6" r="6.6"/><circle cx="1341.5" cy="626.3" r="6.6"/><circle cx="1341.6" cy="632.1" r="6.6"/><circle cx="1341.6" cy="637.8" r="6.6"/><circle cx="1341.7" cy="643.5" r="6.6"/><circle cx="1341.7" cy="649.2" r="6.6"/><circle cx="1341.7" cy="654.9" r="6.6"/><circle cx="1341.8" cy="660.7" r="6.6"/><circle cx="1341.8" cy="666.4" r="6.6"/><circle cx="1341.9" cy="672.1" r="6.6"/><circle cx="1341.9" cy="677.8" r="6.6"/><circle cx="1341.9" cy="683.5" r="6.6"/><circle cx="1342.0" cy="689.2" r="6.6"/><circle cx="1342.0" cy="695.0" r="6.6"/><circle cx="1342.1" cy="700.7" r="6.6"/><circle cx="1342.1" cy="706.4" r="6.6"/><circle cx="1342.1" cy="712.1" r="6.6"/><circle cx="1342.2" cy="717.8" r="6.6"/><circle cx="1342.2" cy="723.6" r="6.6"/><circle cx="1342.3" cy="729.3" r="6.6"/><circle cx="1342.3" cy="735.0" r="6.6"/><circle cx="1408.3" cy="551.0" r="6.6"/><circle cx="1408.3" cy="554.6" r="6.6"/><circle cx="1408.3" cy="558.2" r="6.6"/><circle cx="1408.3" cy="561.8" r="6.6"/><circle cx="1408.3" cy="565.4" r="6.6"/><circle cx="1408.3" cy="569.0" r="6.6"/><circle cx="1408.3" cy="572.6" r="6.6"/><circle cx="1408.3" cy="576.3" r="6.6"/><circle cx="1408.3" cy="579.9" r="6.6"/><circle cx="1408.3" cy="583.5" r="6.6"/><circle cx="1408.3" cy="587.1" r="6.6"/><circle cx="1408.3" cy="590.7" r="6.6"/><circle cx="1408.3" cy="594.3" r="6.6"/><circle cx="1408.3" cy="597.9" r="6.6"/><circle cx="1408.3" cy="601.5" r="6.6"/><circle cx="1408.3" cy="605.1" r="6.6"/><circle cx="1408.3" cy="608.7" r="6.6"/><circle cx="1408.3" cy="612.3" r="6.6"/><circle cx="1408.3" cy="615.9" r="6.6"/><circle cx="1408.3" cy="619.5" r="6.6"/><circle cx="1408.3" cy="623.2" r="6.6"/><circle cx="1408.3" cy="626.8" r="6.6"/><circle cx="1408.3" cy="630.4" r="6.6"/><circle cx="1408.3" cy="634.0" r="6.6"/><circle cx="1408.3" cy="637.6" r="6.6"/><circle cx="1408.3" cy="641.2" r="6.6"/><circle cx="1408.3" cy="644.8" r="6.6"/><circle cx="1408.3" cy="648.4" r="6.6"/><circle cx="1408.3" cy="652.0" r="6.6"/><circle cx="1408.3" cy="655.6" r="6.6"/><circle cx="1408.3" cy="659.2" r="6.6"/><circle cx="1408.3" cy="662.8" r="6.6"/><circle cx="1408.3" cy="666.5" r="6.6"/><circle cx="1408.3" cy="670.1" r="6.6"/><circle cx="1408.3" cy="673.7" r="6.6"/><circle cx="1408.3" cy="677.3" r="6.6"/><circle cx="1408.3" cy="680.9" r="6.6"/><circle cx="1408.3" cy="684.5" r="6.6"/><circle cx="1408.3" cy="688.1" r="6.6"/><circle cx="1408.3" cy="691.7" r="6.6"/><circle cx="1408.3" cy="695.3" r="6.6"/><circle cx="1408.3" cy="698.9" r="6.6"/><circle cx="1408.3" cy="702.5" r="6.6"/><circle cx="1408.3" cy="706.1" r="6.6"/><circle cx="1408.3" cy="709.7" r="6.6"/><circle cx="1408.3" cy="713.4" r="6.6"/><circle cx="1408.3" cy="717.0" r="6.6"/><circle cx="1408.3" cy="720.6" r="6.6"/><circle cx="1408.3" cy="724.2" r="6.6"/><circle cx="1408.3" cy="727.8" r="6.6"/><circle cx="1408.3" cy="731.4" r="6.6"/><circle cx="1408.3" cy="735.0" r="6.6"/><circle cx="1410.6" cy="553.0" r="6.6"/><circle cx="1410.7" cy="557.7" r="6.6"/><circle cx="1410.7" cy="562.3" r="6.6"/><circle cx="1410.8" cy="567.0" r="6.6"/><circle cx="1410.8" cy="571.7" r="6.6"/><circle cx="1410.9" cy="576.3" r="6.6"/><circle cx="1410.9" cy="581.0" r="6.6"/><circle cx="1411.0" cy="585.7" r="6.6"/><circle cx="1411.1" cy="590.3" r="6.6"/><circle cx="1411.1" cy="595.0" r="6.6"/><circle cx="1411.2" cy="599.7" r="6.6"/><circle cx="1411.2" cy="604.3" r="6.6"/><circle cx="1411.3" cy="609.0" r="6.6"/><circle cx="1411.3" cy="613.7" r="6.6"/><circle cx="1411.4" cy="618.3" r="6.6"/><circle cx="1411.4" cy="623.0" r="6.6"/><circle cx="1411.5" cy="627.7" r="6.6"/><circle cx="1411.6" cy="632.3" r="6.6"/><circle cx="1411.6" cy="637.0" r="6.6"/><circle cx="1411.7" cy="641.7" r="6.6"/><circle cx="1411.7" cy="646.3" r="6.6"/><circle cx="1411.8" cy="651.0" r="6.6"/><circle cx="1411.8" cy="655.7" r="6.6"/><circle cx="1411.9" cy="660.3" r="6.6"/><circle cx="1412.0" cy="665.0" r="6.6"/><circle cx="1412.0" cy="669.7" r="6.6"/><circle cx="1412.1" cy="674.3" r="6.6"/><circle cx="1412.1" cy="679.0" r="6.6"/><circle cx="1412.2" cy="683.7" r="6.6"/><circle cx="1412.2" cy="688.3" r="6.6"/><circle cx="1412.3" cy="693.0" r="6.6"/><circle cx="1412.3" cy="697.7" r="6.6"/><circle cx="1412.4" cy="702.3" r="6.6"/><circle cx="1412.5" cy="707.0" r="6.6"/><circle cx="1412.5" cy="711.7" r="6.6"/><circle cx="1412.6" cy="716.3" r="6.6"/><circle cx="1412.6" cy="721.0" r="6.6"/><circle cx="1412.7" cy="725.7" r="6.6"/><circle cx="1412.7" cy="730.3" r="6.6"/><circle cx="1412.8" cy="735.0" r="6.6"/><circle cx="1472.6" cy="550.0" r="6.6"/><circle cx="1472.6" cy="555.6" r="6.6"/><circle cx="1472.6" cy="561.2" r="6.6"/><circle cx="1472.6" cy="566.8" r="6.6"/><circle cx="1472.6" cy="572.4" r="6.6"/><circle cx="1472.6" cy="578.0" r="6.6"/><circle cx="1472.6" cy="583.6" r="6.6"/><circle cx="1472.6" cy="589.2" r="6.6"/><circle cx="1472.6" cy="594.8" r="6.6"/><circle cx="1472.6" cy="600.5" r="6.6"/><circle cx="1472.6" cy="606.1" r="6.6"/><circle cx="1472.6" cy="611.7" r="6.6"/><circle cx="1472.6" cy="617.3" r="6.6"/><circle cx="1472.6" cy="622.9" r="6.6"/><circle cx="1472.6" cy="628.5" r="6.6"/><circle cx="1472.6" cy="634.1" r="6.6"/><circle cx="1472.6" cy="639.7" r="6.6"/><circle cx="1472.6" cy="645.3" r="6.6"/><circle cx="1472.6" cy="650.9" r="6.6"/><circle cx="1472.6" cy="656.5" r="6.6"/><circle cx="1472.6" cy="662.1" r="6.6"/><circle cx="1472.6" cy="667.7" r="6.6"/><circle cx="1472.6" cy="673.3" r="6.6"/><circle cx="1472.6" cy="678.9" r="6.6"/><circle cx="1472.6" cy="684.5" r="6.6"/><circle cx="1472.6" cy="690.2" r="6.6"/><circle cx="1472.6" cy="695.8" r="6.6"/><circle cx="1472.6" cy="701.4" r="6.6"/><circle cx="1472.6" cy="707.0" r="6.6"/><circle cx="1472.6" cy="712.6" r="6.6"/><circle cx="1472.6" cy="718.2" r="6.6"/><circle cx="1472.6" cy="723.8" r="6.6"/><circle cx="1472.6" cy="729.4" r="6.6"/><circle cx="1472.6" cy="735.0" r="6.6"/><circle cx="1478.4" cy="552.0" r="6.6"/><circle cx="1478.5" cy="558.5" r="6.6"/><circle cx="1478.6" cy="565.1" r="6.6"/><circle cx="1478.7" cy="571.6" r="6.6"/><circle cx="1478.8" cy="578.1" r="6.6"/><circle cx="1478.9" cy="584.7" r="6.6"/><circle cx="1479.0" cy="591.2" r="6.6"/><circle cx="1479.1" cy="597.8" r="6.6"/><circle cx="1479.1" cy="604.3" r="6.6"/><circle cx="1479.2" cy="610.8" r="6.6"/><circle cx="1479.3" cy="617.4" r="6.6"/><circle cx="1479.4" cy="623.9" r="6.6"/><circle cx="1479.5" cy="630.4" r="6.6"/><circle cx="1479.6" cy="637.0" r="6.6"/><circle cx="1479.7" cy="643.5" r="6.6"/><circle cx="1479.8" cy="650.0" r="6.6"/><circle cx="1479.9" cy="656.6" r="6.6"/><circle cx="1480.0" cy="663.1" r="6.6"/><circle cx="1480.1" cy="669.6" r="6.6"/><circle cx="1480.2" cy="676.2" r="6.6"/><circle cx="1480.3" cy="682.7" r="6.6"/><circle cx="1480.3" cy="689.2" r="6.6"/><circle cx="1480.4" cy="695.8" r="6.6"/><circle cx="1480.5" cy="702.3" r="6.6"/><circle cx="1480.6" cy="708.9" r="6.6"/><circle cx="1480.7" cy="715.4" r="6.6"/><circle cx="1480.8" cy="721.9" r="6.6"/><circle cx="1480.9" cy="728.5" r="6.6"/><circle cx="1481.0" cy="735.0" r="6.6"/><circle cx="1485.2" cy="548.0" r="6.6"/><circle cx="1485.1" cy="554.0" r="6.6"/><circle cx="1485.1" cy="560.1" r="6.6"/><circle cx="1485.0" cy="566.1" r="6.6"/><circle cx="1484.9" cy="572.1" r="6.6"/><circle cx="1484.8" cy="578.2" r="6.6"/><circle cx="1484.8" cy="584.2" r="6.6"/><circle cx="1484.7" cy="590.2" r="6.6"/><circle cx="1484.6" cy="596.3" r="6.6"/><circle cx="1484.6" cy="602.3" r="6.6"/><circle cx="1484.5" cy="608.3" r="6.6"/><circle cx="1484.4" cy="614.4" r="6.6"/><circle cx="1484.3" cy="620.4" r="6.6"/><circle cx="1484.3" cy="626.4" r="6.6"/><circle cx="1484.2" cy="632.5" r="6.6"/><circle cx="1484.1" cy="638.5" r="6.6"/><circle cx="1484.1" cy="644.5" r="6.6"/><circle cx="1484.0" cy="650.5" r="6.6"/><circle cx="1483.9" cy="656.6" r="6.6"/><circle cx="1483.9" cy="662.6" r="6.6"/><circle cx="1483.8" cy="668.6" r="6.6"/><circle cx="1483.7" cy="674.7" r="6.6"/><circle cx="1483.6" cy="680.7" r="6.6"/><circle cx="1483.6" cy="686.7" r="6.6"/><circle cx="1483.5" cy="692.8" r="6.6"/><circle cx="1483.4" cy="698.8" r="6.6"/><circle cx="1483.4" cy="704.8" r="6.6"/><circle cx="1483.3" cy="710.9" r="6.6"/><circle cx="1483.2" cy="716.9" r="6.6"/><circle cx="1483.1" cy="722.9" r="6.6"/><circle cx="1483.1" cy="729.0" r="6.6"/><circle cx="1483.0" cy="735.0" r="6.6"/><circle cx="1535.2" cy="556.7" r="6.6"/><circle cx="1535.2" cy="567.5" r="6.6"/><circle cx="1535.2" cy="579.0" r="6.6"/><circle cx="1535.2" cy="591.0" r="6.6"/><circle cx="1190.0" cy="625.0" r="6.6"/><circle cx="1190.0" cy="626.6" r="6.6"/><circle cx="1190.0" cy="628.2" r="6.6"/><circle cx="1190.0" cy="629.8" r="6.6"/><circle cx="1190.0" cy="631.4" r="6.6"/><circle cx="1190.0" cy="633.0" r="6.6"/><circle cx="1190.0" cy="634.7" r="6.6"/><circle cx="1190.0" cy="636.3" r="6.6"/><circle cx="1190.0" cy="637.9" r="6.6"/><circle cx="1190.0" cy="639.5" r="6.6"/><circle cx="1190.0" cy="641.1" r="6.6"/><circle cx="1190.0" cy="642.7" r="6.6"/><circle cx="1190.0" cy="644.3" r="6.6"/><circle cx="1190.0" cy="645.9" r="6.6"/><circle cx="1190.0" cy="647.5" r="6.6"/><circle cx="1190.0" cy="649.1" r="6.6"/><circle cx="1190.0" cy="650.7" r="6.6"/><circle cx="1190.0" cy="652.3" r="6.6"/><circle cx="1190.0" cy="654.0" r="6.6"/><circle cx="1190.0" cy="655.6" r="6.6"/><circle cx="1190.0" cy="657.2" r="6.6"/><circle cx="1190.0" cy="658.8" r="6.6"/><circle cx="1190.0" cy="660.4" r="6.6"/><circle cx="1190.0" cy="662.0" r="6.6"/><circle cx="1190.0" cy="663.6" r="6.6"/><circle cx="1190.0" cy="665.2" r="6.6"/><circle cx="1190.0" cy="666.8" r="6.6"/><circle cx="1190.0" cy="668.4" r="6.6"/><circle cx="1190.0" cy="670.0" r="6.6"/><circle cx="1190.0" cy="671.7" r="6.6"/><circle cx="1190.0" cy="673.3" r="6.6"/><circle cx="1190.0" cy="674.9" r="6.6"/><circle cx="1190.0" cy="676.5" r="6.6"/><circle cx="1190.0" cy="678.1" r="6.6"/><circle cx="1190.0" cy="679.7" r="6.6"/><circle cx="1190.0" cy="681.3" r="6.6"/><circle cx="1190.0" cy="682.9" r="6.6"/><circle cx="1190.0" cy="684.5" r="6.6"/><circle cx="1190.0" cy="686.1" r="6.6"/><circle cx="1190.0" cy="687.7" r="6.6"/><circle cx="1190.0" cy="689.3" r="6.6"/><circle cx="1190.0" cy="691.0" r="6.6"/><circle cx="1190.0" cy="692.6" r="6.6"/><circle cx="1190.0" cy="694.2" r="6.6"/><circle cx="1190.0" cy="695.8" r="6.6"/><circle cx="1190.0" cy="697.4" r="6.6"/><circle cx="1190.0" cy="699.0" r="6.6"/><circle cx="1190.0" cy="700.6" r="6.6"/><circle cx="1190.0" cy="702.2" r="6.6"/><circle cx="1190.0" cy="703.8" r="6.6"/><circle cx="1190.0" cy="705.4" r="6.6"/><circle cx="1190.0" cy="707.0" r="6.6"/><circle cx="1190.0" cy="708.7" r="6.6"/><circle cx="1190.0" cy="710.3" r="6.6"/><circle cx="1190.0" cy="711.9" r="6.6"/><circle cx="1190.0" cy="713.5" r="6.6"/><circle cx="1190.0" cy="715.1" r="6.6"/><circle cx="1190.0" cy="716.7" r="6.6"/><circle cx="1190.0" cy="718.3" r="6.6"/><circle cx="1190.0" cy="719.9" r="6.6"/><circle cx="1190.0" cy="721.5" r="6.6"/><circle cx="1190.0" cy="723.1" r="6.6"/><circle cx="1190.0" cy="724.7" r="6.6"/><circle cx="1190.0" cy="726.3" r="6.6"/><circle cx="1190.0" cy="728.0" r="6.6"/><circle cx="1190.0" cy="729.6" r="6.6"/><circle cx="1190.0" cy="731.2" r="6.6"/><circle cx="1190.0" cy="732.8" r="6.6"/><circle cx="1190.0" cy="734.4" r="6.6"/><circle cx="1190.0" cy="736.0" r="6.6"/>
</g>
</g>
<g stroke="#000" stroke-width="1.11" fill="none">
<rect x="225.3" y="144.3" width="1395" height="924"/>
<path d="M427.9 1068.3v4.9M631.6 1068.3v4.9M835.4 1068.3v4.9M1039.1 1068.3v4.9M1242.9 1068.3v4.9M1446.6 1068.3v4.9M225.3 1059.0h-4.9M225.3 876.1h-4.9M225.3 693.1h-4.9M225.3 510.2h-4.9M225.3 327.2h-4.9M225.3 144.3h-4.9"/>
</g>
<g opacity="0.999">
<text transform="translate(403.40 1089.00) scale(1.050 1)" x="4.12 12.58 20.86 29.45 35.76 42.07" y="0" font-size="14.67" text-anchor="middle">1924.4</text>
<text transform="translate(607.10 1089.00) scale(1.050 1)" x="4.12 12.58 20.86 29.45 35.76 42.07" y="0" font-size="14.67" text-anchor="middle">1924.6</text>
<text transform="translate(810.90 1089.00) scale(1.050 1)" x="4.12 12.58 20.86 29.45 35.76 42.07" y="0" font-size="14.67" text-anchor="middle">1924.8</text>
<text transform="translate(1014.60 1089.00) scale(1.050 1)" x="4.12 12.58 20.86 29.40 35.76 42.07" y="0" font-size="14.67" text-anchor="middle">1925.0</text>
<text transform="translate(1218.40 1089.00) scale(1.050 1)" x="4.12 12.58 20.86 29.40 35.76 41.90" y="0" font-size="14.67" text-anchor="middle">1925.2</text>
<text transform="translate(1422.10 1089.00) scale(1.050 1)" x="4.12 12.58 20.86 29.40 35.76 42.07" y="0" font-size="14.67" text-anchor="middle">1925.4</text>
<text transform="translate(206.16 1064.20) scale(1.050 1)" x="4.20" y="0" font-size="14.67" text-anchor="middle">0</text>
<text transform="translate(188.49 881.30) scale(1.050 1)" x="4.03 12.62 21.04" y="0" font-size="14.67" text-anchor="middle">200</text>
<text transform="translate(188.49 698.30) scale(1.050 1)" x="4.21 12.62 21.04" y="0" font-size="14.67" text-anchor="middle">400</text>
<text transform="translate(188.49 515.40) scale(1.050 1)" x="4.20 12.62 21.04" y="0" font-size="14.67" text-anchor="middle">600</text>
<text transform="translate(188.49 332.40) scale(1.050 1)" x="4.20 12.62 21.04" y="0" font-size="14.67" text-anchor="middle">800</text>
<text transform="translate(179.65 149.50) scale(1.050 1)" x="4.12 12.62 21.04 29.45" y="0" font-size="14.67" text-anchor="middle">1000</text>
<text transform="translate(871.56 1108.00) scale(1.050 1)" x="3.54 9.45 15.62 23.14 28.96 35.77 44.47 52.83 58.98 63.29 71.95 81.56 88.44 93.87" y="0" font-size="14.67" text-anchor="middle">star_age (Myr)</text>
<text transform="translate(170.00 606.60) rotate(-90) scale(1.000 1)" x="-54.37 -44.35 -36.15 -29.45 -20.83 -13.46 -8.94 -2.76 5.81 12.51 17.05 24.46 32.68 41.56 49.39 55.99" y="0" font-size="14.67" text-anchor="middle">FM period (days)</text>
<rect x="235.6" y="154.4" width="445.8" height="212.8" rx="4.2" ry="4.2" fill="#fff" fill-opacity="0.8" stroke="#ccc" stroke-opacity="0.8" stroke-width="1.4"/>
<g fill="none">
<path stroke="#000" stroke-width="2.08" stroke-linecap="square" d="M244 171.1h40.9"/>
<circle cx="264.9" cy="171.1" r="2.1" fill="#000"/>
<path stroke="#0000ff" stroke-width="4.17" stroke-linecap="square" d="M244 203h40.9"/>
<path stroke="#008000" stroke-width="4.17" stroke-linecap="square" d="M244 232.9h40.9"/>
<path stroke="#ffa500" stroke-width="2.08" stroke-linecap="square" d="M244 263.7h40.9"/>
<circle cx="264.9" cy="294.3" r="4.1" fill="#90ee90"/>
<circle cx="264.9" cy="338.3" r="6.6" fill="#ffff00" fill-opacity="0.2" stroke="#ffff00" stroke-opacity="0.2" stroke-width="1.4"/>
</g>
<text transform="translate(302.20 178.90) scale(1.050 1)" x="9.72 25.51 35.10 44.49 57.19 68.51 78.74 90.15 99.61 109.08 121.70 134.26 146.87" y="0" font-size="22.00" text-anchor="middle">m1.50_z0.0095</text>
<text transform="translate(302.20 210.00) scale(1.050 1)" x="6.41 18.74 30.11 42.82 51.60 60.95 73.50 83.39 93.48 104.75 114.29 124.31 134.80 141.68 151.13 163.49 173.98 180.48 188.53 199.71 212.11 222.18 231.44 241.04 246.96 256.52 268.78 281.09 293.75 306.18 317.90" y="0" font-size="22.00" text-anchor="middle">peak detector horizontal bounds</text>
<text transform="translate(302.20 241.00) scale(1.050 1)" x="9.72 22.09 31.17 40.56 46.88 56.32 65.15 73.51 85.28 97.68 109.24 117.03 125.09 133.94 144.04 156.43 166.51 173.61 184.86 195.75 202.33 212.58 222.01 231.24 243.71 255.21 266.38 276.87 286.47 297.65 308.33 315.04 323.86 336.26 347.82" y="0" font-size="22.00" text-anchor="middle">min. P consistent with observations</text>
<text transform="translate(302.20 271.00) scale(1.050 1)" x="9.72 24.63 37.31 46.37 52.69 62.14 70.96 83.83 99.69 111.33 120.19 127.29 134.18 142.73 152.34 157.85 163.76 175.02 185.91 192.49 202.73 211.78 220.85 230.25 237.24 247.48 256.53 264.59 272.76 281.23 292.66 304.16 317.34" y="0" font-size="22.00" text-anchor="middle">max. P must fall within this span</text>
<text transform="translate(302.20 301.20) scale(1.050 1)" x="6.41 18.84 27.93 36.00 47.16 56.38 63.97 73.40 85.65 94.82 103.64 116.04 125.44 132.33 138.34 144.92 152.02 163.28 174.17 180.75 190.99 200.42 208.79 220.73 233.47 242.42 250.38 259.23 267.70 279.13 288.07 293.59 302.67 315.06" y="0" font-size="22.00" text-anchor="middle">pulse region fit with cubic spline</text>
<text transform="translate(302.20 332.10) scale(1.050 1)" x="2.77 11.84 21.92 32.01 42.51 51.54 62.71 73.99 83.52 90.23 99.05 111.45 120.84 132.10 143.57 150.06 159.51 168.13 177.40 185.49 194.92 203.92 214.47" y="0" font-size="22.00" text-anchor="middle">intersection w/ P,L,T,R</text>
<text transform="translate(302.20 355.10) scale(1.050 1)" x="2.76 11.59 23.73 35.10 46.27 55.09 63.71 72.74 82.09 94.64 104.44 110.45 119.53 131.92 144.17" y="0" font-size="22.00" text-anchor="middle">loosely defined</text>
</g>
</svg>
</body></html>
